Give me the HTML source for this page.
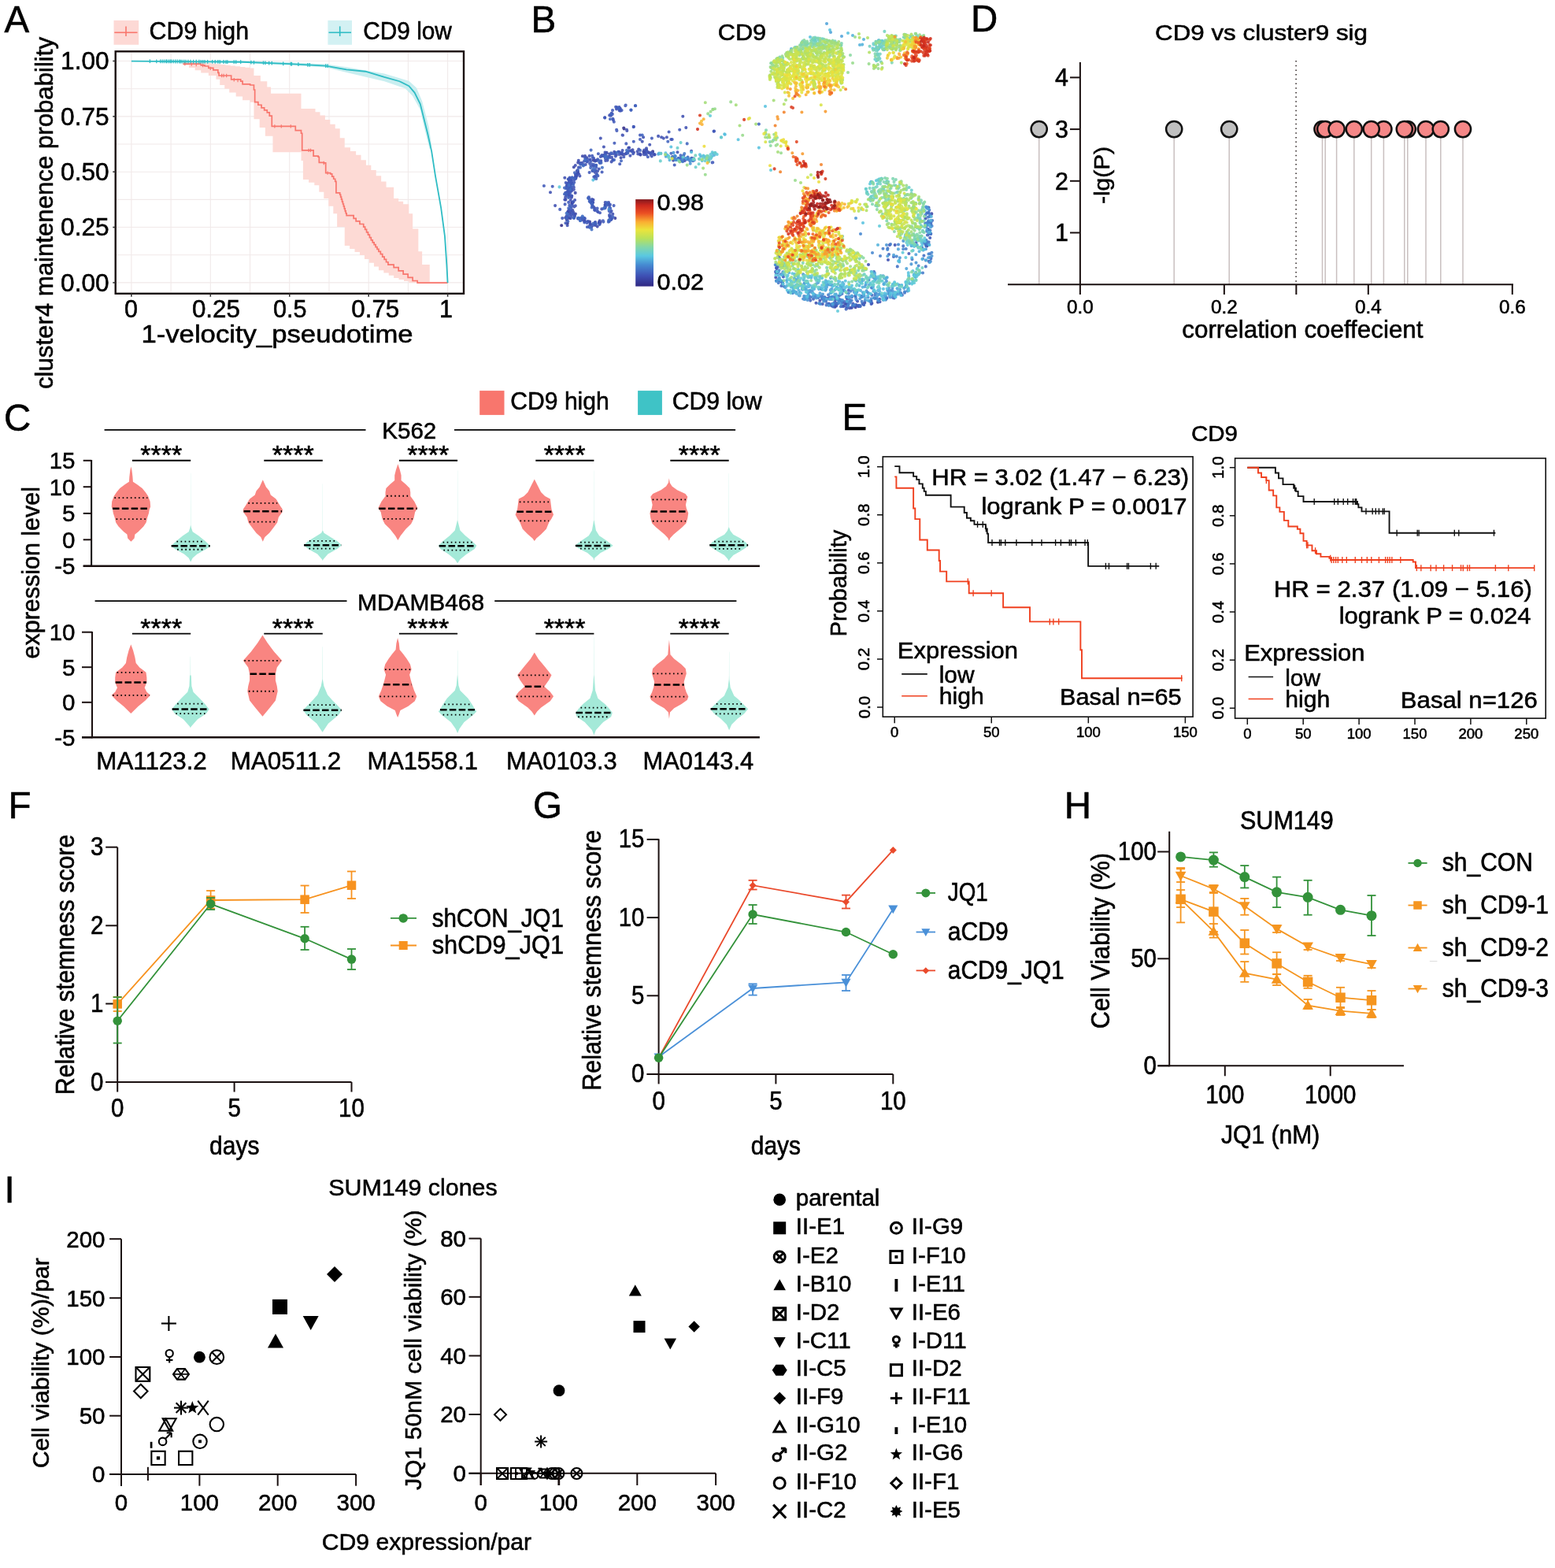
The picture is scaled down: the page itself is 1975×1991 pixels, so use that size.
<!DOCTYPE html>
<html><head><meta charset="utf-8"><title>Figure</title>
<style>html,body{margin:0;padding:0;background:#fff;}svg{display:block;}text{font-family:"Liberation Sans",Arial,Helvetica,sans-serif;stroke:#000;stroke-width:0.55px;}</style>
</head><body>
<svg width="1975" height="1991" viewBox="0 0 1975 1991">
<text x="5.5" y="41" font-size="47.5">A</text>
<rect x="144.5" y="25.9" width="31.7" height="30.9" fill="#fdd9d5" stroke="none" stroke-width="1"/>
<line x1="145.3" y1="41.3" x2="174.5" y2="41.3" stroke="#f8766d" stroke-width="1.6"/>
<line x1="160" y1="33.4" x2="160" y2="46" stroke="#f8766d" stroke-width="1.6"/>
<text x="189.6" y="50.1" font-size="31" textLength="126.5" lengthAdjust="spacingAndGlyphs">CD9 high</text>
<rect x="416.4" y="25.9" width="30.6" height="30.9" fill="#d3f1f3" stroke="none" stroke-width="1"/>
<line x1="417.5" y1="41.3" x2="446" y2="41.3" stroke="#2fbcc4" stroke-width="1.6"/>
<line x1="431.7" y1="33.4" x2="431.7" y2="46" stroke="#2fbcc4" stroke-width="1.6"/>
<text x="461.2" y="50.1" font-size="31" textLength="112.7" lengthAdjust="spacingAndGlyphs">CD9 low</text>
<line x1="166.9" y1="66.5" x2="166.9" y2="371.5" stroke="#f1e9e9" stroke-width="1.1"/>
<line x1="217.11" y1="66.5" x2="217.11" y2="371.5" stroke="#f1e9e9" stroke-width="1.1"/>
<line x1="267.32" y1="66.5" x2="267.32" y2="371.5" stroke="#f1e9e9" stroke-width="1.1"/>
<line x1="317.54" y1="66.5" x2="317.54" y2="371.5" stroke="#f1e9e9" stroke-width="1.1"/>
<line x1="367.75" y1="66.5" x2="367.75" y2="371.5" stroke="#f1e9e9" stroke-width="1.1"/>
<line x1="417.96" y1="66.5" x2="417.96" y2="371.5" stroke="#f1e9e9" stroke-width="1.1"/>
<line x1="468.17" y1="66.5" x2="468.17" y2="371.5" stroke="#f1e9e9" stroke-width="1.1"/>
<line x1="518.39" y1="66.5" x2="518.39" y2="371.5" stroke="#f1e9e9" stroke-width="1.1"/>
<line x1="568.6" y1="66.5" x2="568.6" y2="371.5" stroke="#f1e9e9" stroke-width="1.1"/>
<line x1="148" y1="358.9" x2="588" y2="358.9" stroke="#f1e9e9" stroke-width="1.1"/>
<line x1="148" y1="323.72" x2="588" y2="323.72" stroke="#f1e9e9" stroke-width="1.1"/>
<line x1="148" y1="288.55" x2="588" y2="288.55" stroke="#f1e9e9" stroke-width="1.1"/>
<line x1="148" y1="253.38" x2="588" y2="253.38" stroke="#f1e9e9" stroke-width="1.1"/>
<line x1="148" y1="218.2" x2="588" y2="218.2" stroke="#f1e9e9" stroke-width="1.1"/>
<line x1="148" y1="183.02" x2="588" y2="183.02" stroke="#f1e9e9" stroke-width="1.1"/>
<line x1="148" y1="147.85" x2="588" y2="147.85" stroke="#f1e9e9" stroke-width="1.1"/>
<line x1="148" y1="112.68" x2="588" y2="112.68" stroke="#f1e9e9" stroke-width="1.1"/>
<line x1="148" y1="77.5" x2="588" y2="77.5" stroke="#f1e9e9" stroke-width="1.1"/>
<polygon points="232.44,79.21 255.25,79.21 255.25,79.21 261.49,79.21 261.49,79.93 267.73,79.93 267.73,80.65 273.97,80.65 273.97,81.37 280.22,81.37 280.22,82.09 286.46,82.09 286.46,82.81 292.7,82.81 292.7,83.53 298.94,83.53 298.94,84.25 305.19,84.25 305.19,84.97 311.43,84.97 311.43,85.69 317.67,85.69 317.67,86.41 322.47,86.41 322.47,96.01 330.88,96.01 330.88,103.22 339.28,103.22 339.28,110.42 344.08,110.42 344.08,118.82 375.29,118.82 375.29,118.82 382.5,118.82 382.5,138.03 394.5,138.03 394.5,138.03 400.5,138.03 400.5,142.23 406.51,142.23 406.51,146.43 412.91,146.43 412.91,152.04 419.31,152.04 419.31,157.64 425.71,157.64 425.71,163.24 431.72,163.24 431.72,175.25 437.72,175.25 437.72,187.25 444.92,187.25 444.92,192.05 452.12,192.05 452.12,196.85 458.53,196.85 458.53,203.26 464.93,203.26 464.93,209.66 471.33,209.66 471.33,216.06 477.74,216.06 477.74,223.27 484.14,223.27 484.14,230.47 490.54,230.47 490.54,237.67 500.14,237.67 500.14,252.08 506.15,252.08 506.15,255.68 512.15,255.68 512.15,259.28 519.35,259.28 519.35,271.28 524.15,271.28 524.15,290.49 531.36,290.49 531.36,319.3 536.16,319.3 536.16,336.11 545.76,336.11 545.76,357.72 568.57,357.72 568.57,359.16 568.57,359.16 568.57,358.92 519.35,358.92 519.35,356.92 512.95,356.92 512.95,354.92 506.55,354.92 506.55,352.92 500.14,352.92 500.14,349.72 493.74,349.72 493.74,346.51 487.34,346.51 487.34,343.31 480.94,343.31 480.94,338.51 474.93,338.51 474.93,333.71 468.93,333.71 468.93,328.91 462.93,328.91 462.93,324.11 456.93,324.11 456.93,320.1 450.52,320.1 450.52,316.1 444.12,316.1 444.12,312.1 437.72,312.1 437.72,288.09 428.12,288.09 428.12,271.28 423.31,271.28 423.31,261.68 417.31,261.68 417.31,252.08 411.31,252.08 411.31,243.67 405.31,243.67 405.31,235.27 399.3,235.27 399.3,231.67 392.1,231.67 392.1,228.07 384.9,228.07 384.9,204.06 382.5,204.06 382.5,193.25 372.89,193.25 372.89,193.25 346.48,193.25 346.48,172.85 336.88,172.85 336.88,162.04 329.68,162.04 329.68,151.24 322.47,151.24 322.47,129.63 317.67,129.63 317.67,127.23 308.07,127.23 308.07,122.42 299.66,122.42 299.66,117.62 291.26,117.62 291.26,112.82 285.26,112.82 285.26,108.02 279.26,108.02 279.26,100.82 274.45,100.82 274.45,96.01 264.85,96.01 264.85,92.41 255.25,92.41 255.25,89.21 247.64,89.21 247.64,86.01 240.04,86.01 240.04,82.81 232.44,82.81" fill="#fddad5" stroke="none" stroke-width="1"/>
<polygon points="274.45,77.29 308.07,77.29 368.09,79.21 413.71,81.61 440.12,85.21 488.14,93.61 519.35,102.74 528.96,111.62 536.16,128.43 544.56,160.84 548.16,184.85 545.76,189.65 538.56,160.84 533.76,139.23 524.15,121.94 514.55,112.34 488.14,103.22 440.12,91.93 413.71,85.45 368.09,82.81 308.07,79.69 274.45,79.21" fill="#c9eef0" stroke="none" stroke-width="1"/>
<polyline points="232.44,81.13 255.25,81.13 255.25,82.81 260.05,82.81 260.05,84.01 264.85,84.01 264.85,86.41 270.85,86.41 270.85,88.81 276.85,88.81 276.85,92.41 278.06,92.41 278.06,96.01 288.86,96.01 288.86,96.01 293.66,96.01 293.66,100.82 305.67,100.82 305.67,103.22 308.07,103.22 308.07,106.82 317.67,106.82 317.67,108.02 322.47,108.02 322.47,114.02 323.67,114.02 323.67,129.63 327.88,129.63 327.88,133.23 332.08,133.23 332.08,136.83 335.68,136.83 335.68,139.83 339.28,139.83 339.28,142.83 342.28,142.83 342.28,147.03 345.28,147.03 345.28,151.24 345.28,151.24 345.28,160.36 370.49,160.36 370.49,160.36 375.29,160.36 375.29,165.64 382.5,165.64 382.5,169.24 383.7,169.24 383.7,190.85 395.7,190.85 395.7,190.85 398.1,190.85 398.1,198.06 404.11,198.06 404.11,199.26 405.31,199.26 405.31,206.46 411.31,206.46 411.31,206.94 413.71,206.94 413.71,219.66 419.71,219.66 419.71,220.86 421.71,220.86 421.71,224.07 423.71,224.07 423.71,227.27 425.71,227.27 425.71,230.47 426.91,230.47 426.91,244.87 431.72,244.87 431.72,247.27 432.65,247.27 432.65,250.21 433.58,250.21 433.58,253.14 434.52,253.14 434.52,256.08 435.45,256.08 435.45,259.01 436.39,259.01 436.39,261.95 437.32,261.95 437.32,264.88 438.25,264.88 438.25,267.82 439.19,267.82 439.19,270.75 440.12,270.75 440.12,273.69 446.12,273.69 446.12,273.69 449.12,273.69 449.12,277.29 452.12,277.29 452.12,280.89 456.93,280.89 456.93,284.49 461.73,284.49 461.73,288.09 463.65,288.09 463.65,291.45 465.57,291.45 465.57,294.81 467.49,294.81 467.49,298.18 469.41,298.18 469.41,301.54 471.33,301.54 471.33,304.9 473.25,304.9 473.25,307.78 475.17,307.78 475.17,310.66 477.09,310.66 477.09,313.54 479.02,313.54 479.02,316.42 480.94,316.42 480.94,319.3 483.34,319.3 483.34,322.67 485.74,322.67 485.74,326.03 488.14,326.03 488.14,329.39 490.54,329.39 490.54,332.75 492.94,332.75 492.94,336.11 500.14,336.11 500.14,339.71 506.15,339.71 506.15,343.91 512.15,343.91 512.15,348.12 518.15,348.12 518.15,352.32 524.15,352.32 524.15,356.52 530.16,356.52 530.16,359.16 568.57,359.16 568.57,359.16" fill="none" stroke="#f8766d" stroke-width="1.7" stroke-linejoin="miter"/>
<line x1="234.84" y1="78.93" x2="234.84" y2="83.33" stroke="#f8766d" stroke-width="1.2"/>
<line x1="243.24" y1="79.41" x2="243.24" y2="83.81" stroke="#f8766d" stroke-width="1.2"/>
<line x1="249.24" y1="79.89" x2="249.24" y2="84.29" stroke="#f8766d" stroke-width="1.2"/>
<line x1="257.65" y1="80.85" x2="257.65" y2="85.25" stroke="#f8766d" stroke-width="1.2"/>
<line x1="267.25" y1="84.69" x2="267.25" y2="89.09" stroke="#f8766d" stroke-width="1.2"/>
<line x1="281.66" y1="93.81" x2="281.66" y2="98.21" stroke="#f8766d" stroke-width="1.2"/>
<line x1="284.06" y1="93.81" x2="284.06" y2="98.21" stroke="#f8766d" stroke-width="1.2"/>
<line x1="287.66" y1="93.81" x2="287.66" y2="98.21" stroke="#f8766d" stroke-width="1.2"/>
<line x1="297.26" y1="99.1" x2="297.26" y2="103.5" stroke="#f8766d" stroke-width="1.2"/>
<line x1="302.06" y1="99.82" x2="302.06" y2="104.22" stroke="#f8766d" stroke-width="1.2"/>
<line x1="348.88" y1="158.16" x2="348.88" y2="162.56" stroke="#f8766d" stroke-width="1.2"/>
<line x1="357.29" y1="158.16" x2="357.29" y2="162.56" stroke="#f8766d" stroke-width="1.2"/>
<line x1="369.29" y1="158.16" x2="369.29" y2="162.56" stroke="#f8766d" stroke-width="1.2"/>
<line x1="392.1" y1="188.65" x2="392.1" y2="193.05" stroke="#f8766d" stroke-width="1.2"/>
<line x1="394.5" y1="188.65" x2="394.5" y2="193.05" stroke="#f8766d" stroke-width="1.2"/>
<line x1="411.31" y1="204.74" x2="411.31" y2="209.14" stroke="#f8766d" stroke-width="1.2"/>
<line x1="416.11" y1="217.46" x2="416.11" y2="221.86" stroke="#f8766d" stroke-width="1.2"/>
<polyline points="166.89,77.53 308.07,78.73 368.09,81.13 413.71,83.53 440.12,88.33 464.13,90.73 488.14,97.94 507.35,103.22 519.35,109.22 526.55,117.62 533.76,132.03 543.36,170.44 548.16,192.05 552.97,223.27 560.17,264.08 564.97,300.1 567.37,336.11 568.57,359.16" fill="none" stroke="#2fbcc4" stroke-width="1.8"/>
<line x1="190.42" y1="75.33" x2="190.42" y2="80.13" stroke="#2fbcc4" stroke-width="1.3"/>
<line x1="198.82" y1="75.4" x2="198.82" y2="80.2" stroke="#2fbcc4" stroke-width="1.3"/>
<line x1="203.63" y1="75.44" x2="203.63" y2="80.24" stroke="#2fbcc4" stroke-width="1.3"/>
<line x1="206.03" y1="75.46" x2="206.03" y2="80.26" stroke="#2fbcc4" stroke-width="1.3"/>
<line x1="208.43" y1="75.48" x2="208.43" y2="80.28" stroke="#2fbcc4" stroke-width="1.3"/>
<line x1="210.83" y1="75.5" x2="210.83" y2="80.3" stroke="#2fbcc4" stroke-width="1.3"/>
<line x1="212.03" y1="75.51" x2="212.03" y2="80.31" stroke="#2fbcc4" stroke-width="1.3"/>
<line x1="214.43" y1="75.53" x2="214.43" y2="80.33" stroke="#2fbcc4" stroke-width="1.3"/>
<line x1="216.35" y1="75.55" x2="216.35" y2="80.35" stroke="#2fbcc4" stroke-width="1.3"/>
<line x1="218.03" y1="75.56" x2="218.03" y2="80.36" stroke="#2fbcc4" stroke-width="1.3"/>
<line x1="220.43" y1="75.58" x2="220.43" y2="80.38" stroke="#2fbcc4" stroke-width="1.3"/>
<line x1="222.83" y1="75.6" x2="222.83" y2="80.4" stroke="#2fbcc4" stroke-width="1.3"/>
<line x1="225.23" y1="75.62" x2="225.23" y2="80.42" stroke="#2fbcc4" stroke-width="1.3"/>
<line x1="227.64" y1="75.64" x2="227.64" y2="80.44" stroke="#2fbcc4" stroke-width="1.3"/>
<line x1="229.32" y1="75.66" x2="229.32" y2="80.46" stroke="#2fbcc4" stroke-width="1.3"/>
<line x1="231.24" y1="75.67" x2="231.24" y2="80.47" stroke="#2fbcc4" stroke-width="1.3"/>
<line x1="233.64" y1="75.69" x2="233.64" y2="80.49" stroke="#2fbcc4" stroke-width="1.3"/>
<line x1="236.04" y1="75.72" x2="236.04" y2="80.52" stroke="#2fbcc4" stroke-width="1.3"/>
<line x1="238.92" y1="75.74" x2="238.92" y2="80.54" stroke="#2fbcc4" stroke-width="1.3"/>
<line x1="242.04" y1="75.77" x2="242.04" y2="80.57" stroke="#2fbcc4" stroke-width="1.3"/>
<line x1="245.64" y1="75.8" x2="245.64" y2="80.6" stroke="#2fbcc4" stroke-width="1.3"/>
<line x1="249.24" y1="75.83" x2="249.24" y2="80.63" stroke="#2fbcc4" stroke-width="1.3"/>
<line x1="252.85" y1="75.86" x2="252.85" y2="80.66" stroke="#2fbcc4" stroke-width="1.3"/>
<line x1="255.25" y1="75.88" x2="255.25" y2="80.68" stroke="#2fbcc4" stroke-width="1.3"/>
<line x1="257.65" y1="75.9" x2="257.65" y2="80.7" stroke="#2fbcc4" stroke-width="1.3"/>
<line x1="260.05" y1="75.92" x2="260.05" y2="80.72" stroke="#2fbcc4" stroke-width="1.3"/>
<line x1="263.65" y1="75.95" x2="263.65" y2="80.75" stroke="#2fbcc4" stroke-width="1.3"/>
<line x1="269.65" y1="76" x2="269.65" y2="80.8" stroke="#2fbcc4" stroke-width="1.3"/>
<line x1="273.25" y1="76.03" x2="273.25" y2="80.83" stroke="#2fbcc4" stroke-width="1.3"/>
<line x1="276.85" y1="76.06" x2="276.85" y2="80.86" stroke="#2fbcc4" stroke-width="1.3"/>
<line x1="279.26" y1="76.08" x2="279.26" y2="80.88" stroke="#2fbcc4" stroke-width="1.3"/>
<line x1="284.06" y1="76.12" x2="284.06" y2="80.92" stroke="#2fbcc4" stroke-width="1.3"/>
<line x1="286.94" y1="76.15" x2="286.94" y2="80.95" stroke="#2fbcc4" stroke-width="1.3"/>
<line x1="288.86" y1="76.16" x2="288.86" y2="80.96" stroke="#2fbcc4" stroke-width="1.3"/>
<line x1="297.26" y1="76.24" x2="297.26" y2="81.04" stroke="#2fbcc4" stroke-width="1.3"/>
<line x1="299.66" y1="76.26" x2="299.66" y2="81.06" stroke="#2fbcc4" stroke-width="1.3"/>
<line x1="305.67" y1="76.31" x2="305.67" y2="81.11" stroke="#2fbcc4" stroke-width="1.3"/>
<line x1="318.87" y1="76.76" x2="318.87" y2="81.56" stroke="#2fbcc4" stroke-width="1.3"/>
<line x1="322.47" y1="76.9" x2="322.47" y2="81.7" stroke="#2fbcc4" stroke-width="1.3"/>
<line x1="334.48" y1="77.38" x2="334.48" y2="82.18" stroke="#2fbcc4" stroke-width="1.3"/>
<line x1="336.88" y1="77.48" x2="336.88" y2="82.28" stroke="#2fbcc4" stroke-width="1.3"/>
<line x1="341.68" y1="77.67" x2="341.68" y2="82.47" stroke="#2fbcc4" stroke-width="1.3"/>
<line x1="345.28" y1="77.82" x2="345.28" y2="82.62" stroke="#2fbcc4" stroke-width="1.3"/>
<line x1="359.69" y1="78.39" x2="359.69" y2="83.19" stroke="#2fbcc4" stroke-width="1.3"/>
<line x1="369.29" y1="78.79" x2="369.29" y2="83.59" stroke="#2fbcc4" stroke-width="1.3"/>
<line x1="370.49" y1="78.85" x2="370.49" y2="83.65" stroke="#2fbcc4" stroke-width="1.3"/>
<line x1="378.9" y1="79.3" x2="378.9" y2="84.1" stroke="#2fbcc4" stroke-width="1.3"/>
<line x1="390.9" y1="79.93" x2="390.9" y2="84.73" stroke="#2fbcc4" stroke-width="1.3"/>
<line x1="393.3" y1="80.06" x2="393.3" y2="84.86" stroke="#2fbcc4" stroke-width="1.3"/>
<line x1="413.71" y1="81.13" x2="413.71" y2="85.93" stroke="#2fbcc4" stroke-width="1.3"/>
<line x1="416.11" y1="81.26" x2="416.11" y2="86.06" stroke="#2fbcc4" stroke-width="1.3"/>
<rect x="146.7" y="65.3" width="442.3" height="307.5" fill="none" stroke="#1a1010" stroke-width="2.4"/>
<line x1="143.3" y1="358.9" x2="146.7" y2="358.9" stroke="#333" stroke-width="1.6"/>
<line x1="166.9" y1="372.8" x2="166.9" y2="376.8" stroke="#333" stroke-width="1.6"/>
<line x1="143.3" y1="288.55" x2="146.7" y2="288.55" stroke="#333" stroke-width="1.6"/>
<line x1="267.32" y1="372.8" x2="267.32" y2="376.8" stroke="#333" stroke-width="1.6"/>
<line x1="143.3" y1="218.2" x2="146.7" y2="218.2" stroke="#333" stroke-width="1.6"/>
<line x1="367.75" y1="372.8" x2="367.75" y2="376.8" stroke="#333" stroke-width="1.6"/>
<line x1="143.3" y1="147.85" x2="146.7" y2="147.85" stroke="#333" stroke-width="1.6"/>
<line x1="468.17" y1="372.8" x2="468.17" y2="376.8" stroke="#333" stroke-width="1.6"/>
<line x1="143.3" y1="77.5" x2="146.7" y2="77.5" stroke="#333" stroke-width="1.6"/>
<line x1="568.6" y1="372.8" x2="568.6" y2="376.8" stroke="#333" stroke-width="1.6"/>
<text x="138.6" y="88.4" font-size="30.5" text-anchor="end" textLength="61.5" lengthAdjust="spacingAndGlyphs">1.00</text>
<text x="138.6" y="158.75" font-size="30.5" text-anchor="end" textLength="61.5" lengthAdjust="spacingAndGlyphs">0.75</text>
<text x="138.6" y="229.1" font-size="30.5" text-anchor="end" textLength="61.5" lengthAdjust="spacingAndGlyphs">0.50</text>
<text x="138.6" y="299.45" font-size="30.5" text-anchor="end" textLength="61.5" lengthAdjust="spacingAndGlyphs">0.25</text>
<text x="138.6" y="369.8" font-size="30.5" text-anchor="end" textLength="61.5" lengthAdjust="spacingAndGlyphs">0.00</text>
<text x="166.5" y="403.3" font-size="30.5" text-anchor="middle">0</text>
<text x="274.4" y="403.3" font-size="30.5" text-anchor="middle" textLength="61" lengthAdjust="spacingAndGlyphs">0.25</text>
<text x="368.2" y="403.3" font-size="30.5" text-anchor="middle" textLength="42.5" lengthAdjust="spacingAndGlyphs">0.5</text>
<text x="476.8" y="403.3" font-size="30.5" text-anchor="middle" textLength="61" lengthAdjust="spacingAndGlyphs">0.75</text>
<text x="566.5" y="403.3" font-size="30.5" text-anchor="middle">1</text>
<text x="179.4" y="435.3" font-size="31" textLength="345.2" lengthAdjust="spacingAndGlyphs">1-velocity_pseudotime</text>
<text x="66.9" y="270.5" font-size="31" text-anchor="middle" textLength="447" lengthAdjust="spacingAndGlyphs" transform="rotate(-90 66.9 270.5)">cluster4 maintenence probability</text>
<path d="M713.2 286.2h0M720.7 283.5h0M792.6 163.4h0M792.2 162.6h0M1075.5 386.2h0" stroke="#312c87" stroke-width="4.1" stroke-linecap="round" stroke-opacity="0.88"/>
<path d="M781.8 194.0h0M726.7 257.5h0M991.8 337.0h0M829.1 192.2h0M733.3 220.8h0" stroke="#343492" stroke-width="4.1" stroke-linecap="round" stroke-opacity="0.88"/>
<path d="M864.9 204.3h0M753.7 203.6h0M818.1 192.7h0M726.4 257.4h0M732.2 222.7h0M718.7 246.9h0M755.7 282.9h0M1177.3 312.5h0M1115.0 383.7h0M760.9 282.9h0M724.2 236.0h0M722.9 228.2h0M756.3 284.4h0M721.4 269.0h0M789.0 195.6h0M854.2 199.1h0M749.0 281.6h0M742.6 280.5h0M781.3 277.1h0M751.9 256.8h0M813.0 196.1h0M722.4 276.7h0M823.4 193.4h0M720.0 279.5h0M1088.0 387.7h0M724.0 238.6h0M817.4 192.6h0M1060.4 389.8h0M821.2 190.5h0" stroke="#373d9c" stroke-width="4.1" stroke-linecap="round" stroke-opacity="0.88"/>
<path d="M724.5 277.2h0M719.5 238.9h0M725.5 240.6h0M774.2 195.6h0M793.5 195.8h0M730.7 244.9h0M831.1 196.4h0M728.1 269.2h0M773.4 260.0h0M992.6 357.8h0M859.1 202.9h0M721.4 269.0h0M731.3 225.2h0M758.7 287.6h0M798.3 187.8h0M728.8 212.3h0M734.2 206.4h0M747.9 252.1h0M726.8 232.9h0M1055.7 387.6h0M765.2 198.0h0M724.5 239.9h0M722.6 247.2h0M1081.9 390.8h0M732.8 217.0h0M733.4 219.9h0M727.3 267.0h0M730.9 271.6h0M723.7 270.5h0M770.6 193.9h0M878.5 200.9h0M720.0 235.5h0M774.3 274.7h0M782.8 196.7h0M985.4 345.3h0M788.6 200.2h0M732.2 222.9h0M754.5 263.4h0M722.1 234.2h0M724.2 237.2h0M1060.9 381.1h0M1086.6 390.3h0M991.1 356.5h0M768.6 260.0h0M1106.3 381.6h0M1073.4 385.8h0M762.8 282.1h0M750.1 285.1h0M1098.3 384.2h0M813.6 196.6h0M1183.3 271.4h0M803.5 190.4h0M771.5 258.9h0M787.7 137.7h0M753.5 253.9h0M728.0 256.5h0M718.2 276.6h0M1090.6 388.4h0M734.1 277.3h0M804.9 193.5h0M776.0 146.7h0M787.0 139.1h0M743.0 198.1h0M718.4 253.5h0M756.2 203.7h0M791.4 196.3h0M987.8 346.0h0M986.8 319.8h0M725.4 227.7h0M739.9 198.3h0M753.2 257.1h0M725.9 250.8h0M801.3 191.3h0M751.3 288.2h0M756.1 286.0h0M761.7 280.2h0M787.6 138.7h0M855.1 203.6h0M1096.6 386.4h0M788.9 194.0h0M796.7 193.0h0M819.1 193.7h0M773.2 279.8h0M795.5 194.6h0M726.5 258.8h0M734.0 219.1h0M745.2 200.2h0" stroke="#3a45a6" stroke-width="4.1" stroke-linecap="round" stroke-opacity="0.88"/>
<path d="M776.6 205.4h0M871.3 162.1h0M755.6 224.0h0M776.7 143.7h0M743.7 209.0h0M1144.3 373.9h0M729.3 272.9h0M705.1 261.1h0M776.6 278.2h0M771.5 203.6h0M736.4 223.5h0M723.3 226.8h0M762.9 198.9h0M1041.4 381.8h0M1089.0 382.5h0M768.7 257.0h0M825.2 183.8h0M722.1 239.0h0M734.0 217.6h0M790.6 191.0h0M840.1 174.3h0M730.8 261.2h0M809.6 192.3h0M812.5 195.4h0M825.8 194.8h0M699.0 244.2h0M729.8 273.5h0M742.6 280.9h0M720.4 232.8h0M725.4 272.4h0M817.6 195.2h0M734.4 220.3h0M1070.0 389.0h0M757.9 218.3h0M990.5 319.7h0M755.9 204.6h0M725.1 268.3h0M992.1 348.3h0M752.3 216.9h0M740.0 278.2h0M768.2 149.2h0M878.1 191.9h0M726.1 242.2h0M860.5 193.3h0M800.4 197.8h0M724.3 232.5h0M757.4 220.6h0M725.4 228.9h0M1176.0 306.1h0M735.5 277.1h0M760.7 282.3h0M842.8 175.6h0M994.3 359.9h0M810.3 195.5h0M773.8 281.1h0M752.1 258.6h0M783.9 136.3h0M778.9 152.3h0M722.6 241.2h0M777.0 199.7h0M749.8 202.5h0M985.3 352.2h0M821.0 188.2h0M1107.4 385.0h0M722.9 230.5h0M867.6 204.5h0M990.7 336.0h0M796.3 165.9h0M846.9 174.3h0M739.7 208.1h0M720.0 244.0h0M774.2 146.4h0M748.3 287.2h0M729.4 262.4h0M1076.1 379.8h0M751.9 253.0h0M776.2 144.7h0M880.8 201.4h0M717.3 253.5h0M799.1 187.6h0M759.6 269.3h0M1078.8 391.1h0M740.4 277.1h0M766.9 186.5h0M729.4 226.8h0M735.0 212.5h0M762.8 175.6h0M748.6 198.0h0M1062.1 388.5h0M806.9 134.2h0M831.6 196.3h0M787.9 140.7h0M726.1 240.0h0M749.2 256.0h0M718.1 250.6h0M754.1 201.0h0M1128.0 330.0h0M769.2 204.0h0M778.3 271.7h0M990.1 356.4h0M989.8 321.3h0M869.7 203.9h0M824.9 194.3h0M724.7 240.2h0M752.3 261.1h0M760.8 214.5h0M776.6 268.0h0M1136.7 311.1h0M739.1 206.7h0M775.6 200.0h0M740.7 279.6h0M732.0 224.1h0M768.5 193.6h0M862.1 200.7h0M818.1 196.3h0M730.1 254.0h0M1071.3 388.6h0M768.4 264.2h0M729.1 262.2h0M721.4 241.3h0M790.6 171.6h0M773.0 257.1h0M722.7 244.0h0M1092.5 388.9h0M721.0 245.0h0M778.5 203.4h0M785.3 192.8h0M1086.3 375.8h0M730.8 210.0h0M724.5 234.0h0M818.2 190.5h0M774.3 198.7h0M742.0 276.7h0M734.8 203.8h0M791.0 171.8h0M725.3 227.2h0M786.5 136.1h0M729.0 276.5h0M757.2 209.7h0M740.5 209.5h0M811.2 189.5h0M759.0 217.3h0M867.3 147.8h0M852.3 177.0h0M1175.4 277.5h0M820.0 195.1h0M761.7 284.1h0M737.1 207.0h0M728.8 240.8h0M767.2 196.9h0M722.3 267.0h0M717.3 225.8h0M768.3 198.6h0M1130.0 311.0h0M757.9 203.9h0M724.2 227.7h0M826.9 196.9h0M730.8 226.7h0M1080.1 390.9h0M745.8 205.4h0M1053.6 377.7h0M1117.5 383.3h0M1036.5 384.7h0M994.1 337.8h0M753.2 210.6h0M748.9 288.8h0M755.6 218.8h0M796.0 164.8h0M722.5 249.8h0M735.4 221.3h0M749.5 284.0h0M804.8 160.7h0M731.1 221.6h0M907.0 166.5h0M749.9 255.7h0M1179.5 263.5h0M746.8 281.0h0M783.0 138.4h0M986.0 340.0h0M723.9 241.5h0M994.6 334.7h0M724.7 254.1h0M1044.7 386.0h0M728.8 237.9h0M730.8 224.3h0M1163.5 308.3h0M720.6 286.2h0M780.2 192.9h0M764.3 265.4h0M817.1 174.3h0M1179.9 331.9h0M829.3 194.8h0M720.9 245.8h0M763.3 204.3h0M768.6 260.9h0M755.5 267.0h0M1178.8 291.6h0M726.4 272.9h0M1103.0 336.0h0M815.7 179.7h0M836.1 172.9h0M726.8 238.1h0M719.5 274.5h0M827.8 198.5h0M726.3 248.7h0M988.7 323.8h0M722.3 227.6h0" stroke="#3d4eb1" stroke-width="4.1" stroke-linecap="round" stroke-opacity="0.88"/>
<path d="M742.3 282.4h0M754.1 209.0h0M783.4 165.9h0M742.0 204.8h0M717.6 259.4h0M782.1 135.7h0M748.6 219.0h0M769.4 195.7h0M727.9 256.2h0M757.2 212.6h0M738.9 277.6h0M820.9 196.4h0M724.4 244.3h0M725.6 263.5h0M724.5 229.7h0M1083.8 388.1h0M784.8 137.2h0M813.0 171.6h0M720.6 276.1h0M724.7 226.7h0M724.4 231.4h0M718.7 232.0h0M774.2 263.3h0M754.3 224.5h0M725.5 248.5h0M727.3 270.9h0M780.5 195.6h0M720.0 247.9h0M742.5 204.3h0M1052.9 385.6h0M787.4 139.5h0M775.9 279.3h0M1084.4 388.1h0M738.5 276.6h0M1047.6 378.3h0M721.5 243.3h0M1090.2 389.1h0M1125.6 379.1h0M749.1 207.8h0M768.9 201.2h0M764.6 218.5h0M801.5 139.7h0M802.4 192.2h0M1070.0 384.4h0M722.2 256.9h0M904.7 206.4h0M1071.7 388.7h0M778.4 150.8h0M1061.2 387.2h0M718.4 283.2h0M1075.3 389.9h0M755.3 210.2h0M821.2 192.2h0M804.7 161.3h0M731.4 226.6h0M752.1 197.8h0M827.0 193.7h0M761.9 207.0h0M870.0 201.4h0M772.8 258.8h0M721.2 236.8h0M1047.3 377.2h0M787.2 208.2h0M723.6 225.6h0M775.1 276.6h0M756.6 265.0h0M795.4 195.1h0M743.0 200.2h0M714.2 277.1h0M745.6 283.0h0M774.0 273.0h0M750.1 205.1h0M761.4 285.1h0M792.3 199.3h0M856.7 209.5h0M783.1 164.8h0M745.3 203.3h0M1117.1 379.8h0M751.9 255.8h0M722.6 234.8h0M1049.5 380.6h0M723.3 260.7h0M771.5 199.4h0M758.6 264.6h0M725.6 229.8h0M724.1 229.0h0M729.8 226.6h0M752.5 257.3h0M813.0 177.0h0M758.6 267.9h0M783.1 164.8h0M752.4 208.5h0M778.0 140.1h0M768.9 263.0h0M906.6 166.8h0M718.1 244.9h0M787.5 138.5h0M774.6 260.6h0M724.0 245.2h0M804.8 179.7h0M732.8 222.1h0M765.9 280.4h0M775.9 274.2h0M690.9 236.0h0M1106.6 385.9h0M725.1 266.9h0M719.6 236.5h0M822.9 199.3h0M745.9 204.8h0M752.7 262.0h0M742.9 277.6h0M780.4 181.7h0M827.9 175.6h0M752.3 255.0h0M786.2 192.8h0M775.2 269.4h0M774.9 259.8h0M728.9 229.7h0M795.3 182.4h0M865.4 200.5h0M790.1 194.3h0M752.6 199.4h0M756.4 216.3h0M781.8 198.5h0M729.2 231.7h0M759.9 195.3h0M794.7 133.6h0M755.1 266.2h0M777.2 195.3h0M786.6 140.2h0M789.6 140.1h0M766.4 281.6h0M726.8 225.6h0M1075.5 378.2h0M988.9 322.4h0M779.8 154.7h0M1019.3 365.9h0M747.8 202.5h0M768.2 149.6h0M863.2 164.8h0M726.1 261.5h0M986.5 341.1h0M745.9 288.3h0M772.8 199.2h0M1060.7 384.4h0M777.0 277.2h0M1085.0 388.7h0M779.6 261.1h0M721.6 238.7h0M750.4 210.3h0M771.8 198.9h0M727.7 233.0h0M725.1 275.7h0M988.7 318.0h0M1181.2 302.0h0M757.8 224.0h0M723.6 265.5h0M747.9 250.3h0M734.4 277.8h0M985.8 346.6h0M771.0 200.7h0M726.7 260.6h0M721.7 227.6h0M759.4 223.2h0M731.2 221.6h0M804.1 195.2h0M994.9 351.5h0M1154.4 322.0h0M798.5 191.8h0M737.4 207.9h0M1176.3 309.4h0M764.4 197.0h0M759.1 202.2h0M737.1 280.0h0M724.7 275.1h0M853.7 177.0h0M988.0 339.0h0M778.4 203.1h0M762.0 270.2h0M711.2 265.9h0M753.3 285.9h0M722.6 274.0h0M826.6 194.4h0M758.3 267.9h0M786.5 196.1h0M1164.4 311.7h0M756.1 282.0h0M777.8 144.9h0M849.6 167.5h0M752.5 260.6h0M722.2 232.7h0M1050.7 378.8h0M729.8 274.9h0M701.7 236.7h0M1055.9 377.6h0M750.6 257.8h0M724.2 242.7h0M794.3 134.2h0M986.0 356.5h0M905.3 206.2h0M1083.3 385.5h0M746.0 281.7h0M773.7 267.9h0M1076.2 386.3h0M723.5 274.2h0" stroke="#3f58b8" stroke-width="4.1" stroke-linecap="round" stroke-opacity="0.88"/>
<path d="M1061.0 379.2h0M770.7 260.6h0M720.2 239.0h0M872.7 182.4h0M722.9 236.5h0M1090.9 387.9h0M757.3 226.9h0M761.2 205.7h0M778.5 275.4h0M1077.9 368.6h0M722.0 251.0h0M776.1 145.6h0M726.8 225.6h0M797.4 194.5h0M797.4 192.7h0M1177.3 293.7h0M770.6 257.3h0M1182.4 328.2h0M772.8 281.8h0M719.2 246.3h0M807.2 134.2h0M741.1 209.4h0M848.3 179.7h0M726.4 225.6h0M1110.0 345.0h0M1097.3 387.1h0M1074.6 392.6h0M789.0 204.2h0M775.0 151.2h0M729.7 226.5h0M747.0 251.6h0M751.6 263.5h0M757.0 210.0h0M1182.2 296.7h0M1075.3 392.0h0M760.9 204.1h0M872.8 201.8h0M1056.6 379.8h0M740.4 276.4h0M1072.7 383.1h0M1043.7 367.3h0M750.2 213.1h0M775.2 264.6h0M721.3 272.1h0M768.2 198.1h0M785.6 137.2h0M1107.4 374.8h0M717.0 246.5h0M749.4 254.4h0M1059.9 377.4h0M729.9 219.2h0M758.3 221.7h0M718.9 239.2h0M754.6 216.3h0M748.7 255.4h0M991.8 320.0h0M756.8 284.2h0M801.4 139.6h0M868.3 197.3h0M724.1 262.7h0M815.7 171.6h0M737.0 212.8h0M750.6 190.6h0M1175.7 310.2h0M1075.8 382.7h0M766.9 264.7h0M880.0 204.2h0M763.5 206.7h0M722.2 264.2h0M963.9 157.6h0M990.3 320.7h0M728.9 276.9h0M1052.6 386.6h0M721.4 281.0h0M719.6 277.0h0M1135.0 326.0h0M767.4 198.6h0M728.1 234.6h0M753.4 283.9h0M992.4 363.0h0M744.0 204.3h0M1134.2 377.9h0M1178.5 298.5h0M1058.3 389.4h0M1135.7 378.4h0M866.0 200.3h0M733.9 215.7h0M755.8 226.8h0M756.1 283.9h0M989.8 327.0h0M725.4 237.4h0M1062.9 386.4h0M864.5 197.2h0M873.6 199.6h0M1129.0 323.0h0M772.4 200.7h0M737.3 208.8h0M1029.2 381.6h0M776.2 194.4h0M1056.6 386.0h0M993.4 357.4h0M1179.2 270.3h0M1182.5 285.2h0M1082.0 377.1h0M1087.1 387.1h0M852.4 194.7h0M1177.9 298.5h0M752.0 258.9h0M1126.5 378.4h0M990.7 337.9h0M780.0 203.1h0M717.0 238.6h0M1093.8 375.9h0M1033.0 379.8h0M1177.1 270.8h0M813.0 190.9h0M1026.5 375.5h0M1095.4 385.6h0M752.9 216.6h0" stroke="#4164be" stroke-width="4.1" stroke-linecap="round" stroke-opacity="0.88"/>
<path d="M1040.5 385.2h0M719.6 270.9h0M1050.5 385.5h0M861.7 201.1h0M1180.5 275.1h0M876.1 204.1h0M764.9 212.7h0M1092.6 388.4h0M740.9 210.5h0M1181.0 322.3h0M1111.7 371.9h0M1006.5 371.4h0M1184.1 280.0h0M1182.5 282.4h0M724.4 240.8h0M722.5 234.9h0M1178.5 290.9h0M739.8 274.5h0M783.3 193.7h0M1129.0 372.4h0M1111.5 374.5h0M749.7 288.5h0M1067.1 374.4h0M1029.9 377.3h0M1049.0 382.6h0M1058.9 386.1h0M767.6 263.9h0M1182.2 297.1h0M1106.5 382.8h0M1097.1 373.6h0M754.0 213.9h0M1179.6 270.3h0M751.5 291.5h0M1145.9 374.7h0M1176.2 312.3h0M737.0 280.2h0M1180.3 266.8h0M1127.4 315.4h0M863.4 205.1h0M1158.5 329.3h0M1178.6 282.6h0M1044.4 379.5h0M1175.2 283.9h0M1178.0 270.3h0M1046.4 381.4h0M872.9 201.5h0M1173.4 324.5h0M1026.1 371.5h0M1179.7 296.7h0M1179.6 307.3h0M1044.1 376.4h0M1064.6 380.7h0M1179.4 309.0h0M1177.4 283.0h0M1009.1 364.5h0M1181.4 292.8h0M862.6 203.1h0M774.0 279.1h0M1067.9 389.2h0M1069.4 381.9h0M1171.3 314.9h0M866.2 200.4h0M1086.5 376.2h0M1175.8 338.4h0M1028.4 378.5h0M796.0 190.9h0M1147.2 312.4h0M1139.8 338.4h0M1056.4 388.4h0M1062.8 385.1h0M1160.9 310.8h0M769.2 198.7h0M1102.4 371.7h0M1067.9 381.7h0M985.3 344.7h0M1049.6 387.4h0M856.5 200.5h0M1031.8 365.4h0M1111.3 379.0h0M734.4 276.7h0M743.4 202.7h0M1149.0 371.7h0M1022.2 379.9h0" stroke="#426fc4" stroke-width="4.1" stroke-linecap="round" stroke-opacity="0.88"/>
<path d="M869.3 195.1h0M1105.7 383.2h0M1076.7 383.5h0M1069.5 373.1h0M1180.2 281.7h0M1070.7 369.6h0M1080.4 382.6h0M1173.2 308.5h0M1082.7 388.1h0M1065.9 379.9h0M1011.4 364.3h0M1094.7 382.9h0M993.6 360.1h0M995.8 363.7h0M1144.5 372.3h0M1059.3 384.3h0M1121.8 380.7h0M1065.0 385.1h0M1078.6 379.3h0M1172.0 346.5h0M1044.1 378.7h0M1055.4 379.7h0M988.7 359.2h0M1181.3 283.2h0M1131.0 310.1h0M1057.2 376.7h0M1047.6 378.0h0M1176.2 306.9h0M1078.6 365.3h0M1039.5 378.1h0M857.8 198.4h0M1005.6 363.1h0M1065.7 381.3h0M1034.3 374.2h0M1113.4 378.4h0M1181.1 272.3h0M1121.5 315.7h0M867.0 205.2h0M1048.9 367.6h0M1067.5 380.5h0M1164.2 304.2h0M986.0 336.8h0M1027.6 369.6h0M1081.6 381.5h0M1150.7 316.0h0M1012.4 355.8h0M1077.8 372.5h0M1107.1 365.6h0M1077.6 386.9h0M1065.3 375.7h0M1035.2 377.0h0M1118.0 325.0h0M1178.5 275.8h0M1027.6 375.4h0M1052.1 374.4h0M1130.2 374.3h0M839.2 194.7h0M989.2 353.9h0M1175.8 330.5h0" stroke="#447bc9" stroke-width="4.1" stroke-linecap="round" stroke-opacity="0.88"/>
<path d="M1020.1 379.5h0M1108.0 321.0h0M1088.0 369.5h0M1179.1 280.4h0M1141.0 310.5h0M989.6 343.3h0M1181.8 331.9h0M1087.1 378.7h0M1041.9 376.0h0M1050.6 358.0h0M873.3 200.7h0M1006.9 372.1h0M1021.8 378.2h0M1021.2 376.1h0M773.4 265.9h0M1121.5 379.6h0M1178.0 283.9h0M1109.7 352.4h0M1127.2 317.0h0M1068.8 366.5h0M1076.9 388.4h0M1116.2 382.4h0M1097.6 375.4h0M1080.1 381.6h0M1172.1 328.5h0M1131.1 369.1h0M1042.1 385.9h0M1176.6 305.1h0M872.9 202.4h0M984.7 336.3h0M1057.9 387.0h0M1110.7 378.3h0M1178.6 285.8h0M1078.4 376.5h0M1176.9 309.1h0M1095.2 377.0h0M873.4 201.9h0M1179.4 322.5h0M1176.3 284.7h0M1094.5 377.3h0M1087.5 380.5h0M1079.7 384.5h0M1152.8 369.6h0M866.6 202.4h0M1021.7 359.8h0M860.0 202.4h0M1103.5 355.4h0M1021.6 378.4h0M1069.7 363.5h0M1083.6 367.8h0M1080.6 369.6h0M1149.1 370.2h0M1001.9 371.3h0M853.7 199.8h0M877.2 201.6h0M1129.4 373.6h0M1085.0 387.1h0M1177.5 264.4h0M1183.6 287.0h0M1025.8 378.0h0M1035.7 353.5h0M1166.6 337.6h0M1175.4 272.9h0M1125.1 380.6h0M1176.2 287.9h0M1176.7 263.6h0M1068.3 382.9h0M1138.8 325.6h0M1098.8 381.4h0M994.4 345.3h0M1026.2 378.5h0M1093.0 297.0h0M1183.4 320.7h0M1102.5 377.2h0M1147.2 316.2h0M1071.8 368.3h0M1067.9 363.7h0M1074.9 376.9h0M1134.3 375.1h0M1107.4 365.0h0M1134.1 362.3h0M1127.1 232.7h0M1138.8 372.5h0" stroke="#4586cf" stroke-width="4.1" stroke-linecap="round" stroke-opacity="0.88"/>
<path d="M1036.6 375.2h0M1115.0 380.7h0M1176.1 262.5h0M1100.8 370.1h0M1065.4 383.4h0M1056.4 362.2h0M1026.4 371.6h0M1062.5 379.9h0M1094.5 376.2h0M1133.4 366.0h0M1032.1 371.8h0M1039.7 375.7h0M1068.5 386.2h0M1177.0 285.2h0M1028.8 370.8h0M1116.1 373.9h0M1005.8 370.9h0M1166.1 348.8h0M1057.3 377.4h0M1025.7 381.0h0M994.0 357.8h0M1001.2 370.8h0M1087.0 277.0h0M1127.3 369.0h0M1106.6 230.7h0M857.1 197.7h0M1106.6 379.3h0M1043.6 367.1h0M1151.0 362.5h0M1045.0 373.5h0M1155.3 306.9h0M1121.6 350.2h0M1177.6 263.0h0M1126.0 357.1h0M1100.6 369.4h0M1020.0 364.4h0M1070.0 381.1h0M846.5 196.6h0M1126.0 311.0h0M986.0 335.3h0M1175.9 316.2h0M992.0 356.7h0M1064.5 360.7h0M1007.3 369.4h0M1128.9 365.8h0M876.7 207.8h0M994.7 348.9h0M1053.5 380.0h0M1157.4 335.4h0M1036.9 378.5h0M1022.0 366.4h0M1036.0 375.0h0M881.7 203.5h0M1054.1 361.5h0M1016.0 371.6h0M1060.4 368.0h0M1181.0 326.8h0M1031.6 369.5h0M1124.9 377.1h0M1143.2 371.9h0M1113.2 372.8h0M1133.6 369.3h0M1183.5 325.1h0M1122.4 360.8h0M1130.1 376.5h0M1082.0 376.2h0M1046.2 382.7h0M1088.4 370.8h0M1029.1 369.2h0M1055.1 377.2h0M1032.8 376.6h0M1136.9 374.6h0M1134.7 376.1h0M1057.1 362.0h0M1075.2 377.0h0M1142.9 327.3h0M1046.3 378.5h0M1040.5 385.2h0M1092.2 379.3h0M999.2 356.1h0M1099.6 361.3h0M1147.3 305.9h0M855.4 193.9h0M1104.1 382.2h0M1051.4 361.6h0M1130.8 377.4h0M1020.1 348.3h0M1109.8 378.2h0M1142.0 362.0h0M858.0 203.2h0M1163.5 333.6h0M1052.7 387.9h0" stroke="#4894d4" stroke-width="4.1" stroke-linecap="round" stroke-opacity="0.88"/>
<path d="M1172.5 317.6h0M1067.3 372.1h0M1016.6 360.6h0M1136.6 371.0h0M1180.7 333.3h0M1055.0 353.1h0M1087.2 372.8h0M1137.7 372.4h0M1076.0 372.2h0M1179.4 265.4h0M1111.8 355.1h0M1048.3 368.8h0M990.0 352.9h0M1021.8 380.0h0M1020.5 364.0h0M988.0 355.2h0M893.8 198.2h0M1056.3 366.6h0M1172.8 306.8h0M1135.1 323.9h0M1017.8 362.2h0M986.0 357.0h0M1015.8 375.4h0M1140.2 373.8h0M1041.8 351.2h0M1023.2 376.3h0M1050.0 364.8h0M1123.7 374.4h0M1054.6 372.3h0M871.0 201.1h0M1130.0 371.0h0M1124.7 354.0h0M1013.2 350.2h0M1109.4 369.7h0M1162.6 351.7h0M1067.6 362.7h0M1107.6 349.8h0M1111.5 350.6h0M1084.8 370.9h0M1057.4 386.0h0M1049.4 362.3h0M1117.2 373.5h0M1061.8 373.6h0M1039.1 358.9h0M1139.5 366.2h0M1098.5 364.0h0M1081.9 375.5h0M1053.4 361.2h0M1179.0 327.3h0M1140.9 316.4h0M1048.0 359.5h0M1143.1 367.9h0M1182.0 288.5h0M1041.5 372.3h0M1085.6 371.7h0M1008.9 353.5h0M900.3 204.5h0M1014.9 375.3h0M1041.7 365.2h0M879.5 202.7h0M1180.0 310.8h0M988.7 345.8h0M1127.8 361.6h0M1096.1 371.8h0M1113.9 376.2h0M1122.8 352.9h0M1091.2 356.0h0M1028.9 368.7h0M1054.7 368.2h0M1021.5 360.2h0M1055.9 368.6h0M1009.2 370.0h0M1007.8 365.7h0M1096.1 355.9h0M1118.4 350.4h0M1116.0 51.2h0M1011.2 370.9h0M1103.7 362.0h0M1019.2 367.8h0M836.2 195.8h0M1048.3 368.2h0M1163.3 348.6h0M1062.7 364.9h0M1137.2 376.5h0M1142.0 371.0h0M1148.2 365.9h0M1153.3 367.5h0M1111.0 346.8h0M1171.1 306.5h0M1018.9 367.4h0M1151.3 341.1h0M1040.2 367.1h0M877.6 204.0h0M1177.2 292.1h0M1168.4 346.3h0M1163.3 323.2h0M1155.1 359.9h0M845.8 198.7h0M1069.0 46.0h0M1142.0 330.8h0M1050.0 30.0h0M1127.3 325.2h0M997.5 365.1h0M1100.2 358.8h0M1036.9 360.2h0M1128.8 369.1h0M1055.0 41.0h0M1154.3 354.1h0M1023.8 367.7h0M1157.6 312.2h0M1109.9 368.8h0M1126.7 352.3h0" stroke="#4ea2d8" stroke-width="4.1" stroke-linecap="round" stroke-opacity="0.88"/>
<path d="M1046.7 359.1h0M837.1 194.6h0M1028.2 351.8h0M999.3 363.0h0M1021.9 367.5h0M1109.0 364.3h0M1145.1 362.2h0M1101.2 244.4h0M1086.5 368.3h0M1047.4 364.3h0M1013.4 347.6h0M1093.0 368.9h0M1176.4 330.5h0M1055.7 372.0h0M1121.7 376.6h0M1134.2 372.9h0M1083.0 45.0h0M1162.8 351.3h0M1060.2 373.9h0M1171.3 329.1h0M1126.2 373.1h0M1010.4 371.4h0M1063.9 379.2h0M1097.0 50.0h0M1111.2 355.4h0M1028.9 362.5h0M899.5 201.3h0M1106.6 345.0h0M1126.1 352.7h0M850.5 203.3h0M1032.0 50.0h0M1026.4 369.3h0M1154.3 351.0h0M1071.5 360.7h0M1023.6 366.0h0M1024.3 364.1h0M988.6 349.8h0M1054.2 379.5h0M1182.8 274.9h0M1002.1 346.3h0M1095.2 56.6h0M1124.1 61.5h0M1087.6 373.8h0M1025.9 359.2h0M1115.2 357.7h0M1030.4 352.6h0M1070.2 358.8h0M1151.4 358.3h0M1062.0 375.3h0M1025.1 378.0h0M1011.4 372.8h0M1117.1 369.9h0M1034.1 367.0h0M1075.8 382.6h0M1150.1 364.5h0M1091.4 362.7h0M1109.9 357.5h0M1161.0 348.2h0M1038.0 355.9h0M1027.0 364.3h0M1181.3 294.9h0M1025.4 377.3h0M1179.2 295.1h0M1123.0 63.3h0M1119.9 375.9h0M1103.8 372.6h0M1153.7 366.0h0M1026.5 374.5h0M1007.7 370.3h0M1180.4 311.0h0M1048.8 356.2h0M908.3 194.1h0M1159.7 356.0h0M1163.2 345.9h0M1081.1 365.4h0M1180.3 286.1h0M916.0 174.5h0M1048.6 366.8h0M920.7 170.7h0M905.5 194.8h0M1105.3 360.5h0M1049.4 363.1h0M1020.6 355.6h0M1007.4 363.7h0M1093.9 358.1h0M1062.8 366.5h0M991.1 355.8h0M1115.0 311.0h0M1013.2 365.9h0M1012.8 361.9h0M1122.9 361.0h0M1087.0 356.4h0M1151.6 358.2h0M1123.6 359.3h0M1115.1 368.9h0M1049.7 379.7h0M890.1 198.4h0M1009.1 348.1h0M1182.2 279.9h0M1014.7 368.7h0M1092.0 57.0h0M1095.2 354.5h0M907.0 197.0h0M1142.2 332.4h0M1012.5 373.1h0M1117.2 355.1h0M1033.8 373.6h0M1077.8 377.6h0M1159.9 311.3h0M1125.5 374.0h0M1099.0 378.5h0M1102.2 381.4h0M1010.5 354.7h0M1095.6 364.6h0M1026.7 352.2h0M1113.6 352.9h0M1158.2 327.4h0M999.1 363.0h0M1093.2 358.9h0M1070.0 300.0h0M1005.0 62.0h0M897.2 201.0h0M1013.7 352.4h0M1096.1 371.3h0M1167.5 319.2h0" stroke="#52b2db" stroke-width="4.1" stroke-linecap="round" stroke-opacity="0.88"/>
<path d="M1003.9 355.9h0M1110.3 349.1h0M1022.0 363.2h0M1160.6 349.2h0M1133.9 360.9h0M1082.0 362.6h0M1013.6 363.3h0M1123.0 380.7h0M1015.1 362.6h0M1010.4 357.2h0M1120.2 51.9h0M1057.9 363.4h0M1106.5 349.7h0M849.1 198.9h0M1158.3 355.8h0M992.5 349.1h0M845.4 194.3h0M1000.5 349.9h0M1110.0 368.1h0M1161.1 313.0h0M1105.3 251.9h0M1044.2 353.1h0M1019.8 362.6h0M1073.5 365.5h0M1034.5 364.4h0M1159.4 344.1h0M1086.7 372.1h0M1035.5 352.2h0M1110.7 349.0h0M1121.9 366.9h0M937.6 177.3h0M1099.9 359.2h0M1114.9 63.0h0M1025.0 370.9h0M1010.0 60.0h0M1131.3 372.2h0M1117.4 366.4h0M1102.1 375.5h0M852.3 186.5h0M1145.3 362.3h0M1056.5 370.6h0M1136.1 358.2h0M1169.0 313.5h0M1164.8 311.1h0M1150.3 358.0h0M1066.2 357.5h0M1044.1 362.3h0M999.6 358.7h0M1119.8 375.1h0M1036.0 49.0h0M1054.0 38.0h0M1026.9 361.4h0M1073.8 356.7h0M1120.7 52.8h0M1140.0 290.0h0M1063.2 366.2h0M1034.0 50.2h0M1116.4 228.5h0M904.4 198.5h0M1046.7 361.5h0M1130.5 374.0h0M1168.1 304.3h0M972.0 135.0h0M1113.0 229.3h0M1137.5 377.3h0M1136.1 375.3h0M1089.0 368.8h0M1071.0 362.9h0M1097.1 373.7h0M1007.4 366.4h0M1039.2 375.4h0M1153.8 346.4h0M1064.8 357.1h0M1004.8 364.5h0M1170.4 308.1h0M1036.7 353.1h0M1066.7 365.2h0M905.6 138.8h0M1141.1 331.5h0M1091.4 374.9h0M1073.8 369.8h0M963.9 187.6h0M1150.0 298.0h0M1107.2 231.2h0M1123.6 372.2h0M999.8 368.5h0M1077.0 42.0h0M1023.9 356.8h0M1064.5 365.8h0M1156.9 309.9h0M1159.6 318.1h0M1171.4 311.1h0M1113.3 60.2h0M1050.0 358.8h0M1071.5 364.1h0M920.2 170.2h0M753.3 228.6h0M1144.3 374.9h0M1068.3 367.2h0M1018.9 366.2h0M1044.1 365.8h0M888.9 196.2h0M1126.6 366.5h0M1029.0 47.0h0M1172.3 316.8h0M1100.3 352.5h0M1032.5 372.9h0M1106.0 373.0h0M1166.4 314.8h0M1158.9 359.3h0M848.1 197.3h0M1117.5 55.1h0M1116.7 59.4h0M1116.7 356.8h0M1025.2 376.5h0M1096.0 283.0h0M891.7 204.1h0M1011.2 361.7h0M878.1 193.3h0M894.1 199.7h0M896.5 199.0h0M1149.6 300.4h0M1174.1 316.7h0M1115.4 352.8h0M1134.7 362.6h0" stroke="#58c1df" stroke-width="4.1" stroke-linecap="round" stroke-opacity="0.88"/>
<path d="M1061.5 353.9h0M1063.1 378.3h0M1165.8 303.6h0M1154.1 49.4h0M1150.4 327.0h0M1065.8 368.3h0M1054.4 360.1h0M1110.1 357.3h0M994.6 360.7h0M1117.4 54.3h0M1115.4 351.4h0M1163.3 355.4h0M902.6 201.4h0M1146.6 320.7h0M1121.2 379.8h0M1118.3 59.8h0M1084.9 366.6h0M1174.3 305.5h0M1105.0 233.5h0M1059.0 353.8h0M903.0 201.0h0M1091.5 357.3h0M1003.6 368.7h0M1023.8 370.7h0M1039.9 355.3h0M1024.2 359.1h0M1093.7 359.4h0M1174.9 267.7h0M1106.8 249.2h0M908.7 194.8h0M1117.5 52.6h0M1067.0 372.9h0M979.0 216.0h0M1119.8 227.3h0M1137.0 372.0h0M1158.3 360.6h0M1011.7 363.0h0M1167.7 343.4h0M1069.1 370.4h0M1154.2 368.9h0M1017.3 372.3h0M1164.4 350.9h0M910.7 196.0h0M1014.9 357.2h0M1109.8 241.3h0M1150.7 359.5h0M1026.4 350.4h0M1152.8 311.1h0M1117.0 227.2h0M904.7 193.3h0M1116.1 61.8h0M1116.5 229.6h0M902.0 147.0h0M1001.0 355.0h0M1035.3 351.8h0M1075.4 363.8h0M1108.6 361.6h0M1028.5 350.8h0M1111.1 369.6h0M1174.4 302.2h0M1169.2 279.8h0M1114.5 233.5h0M1017.3 353.3h0M1078.4 365.0h0M1006.4 347.3h0M1012.6 365.5h0M1098.1 371.2h0M1140.3 369.9h0M1106.0 351.8h0M902.6 196.0h0M893.4 197.5h0M849.3 198.5h0M1039.8 356.0h0M1019.6 363.6h0M1068.8 361.2h0M710.5 237.4h0M900.1 204.7h0M1021.4 352.4h0M1099.8 240.0h0M1153.9 349.2h0M888.5 202.0h0M1108.9 232.3h0M1052.6 357.3h0M880.7 202.4h0M1105.6 359.4h0M1165.1 348.3h0M1031.3 350.1h0M1108.4 61.3h0M1139.8 360.6h0M1109.9 242.3h0M985.4 349.3h0M1174.8 306.5h0M999.4 352.0h0M1120.7 356.7h0M1060.1 362.3h0M1034.3 51.4h0M1064.0 395.0h0M986.7 345.0h0M1136.4 359.7h0M1005.5 357.7h0M1034.2 364.0h0M1037.2 350.7h0M1045.1 368.0h0M1107.6 345.6h0M1170.3 299.5h0M1157.0 46.4h0M1013.9 342.2h0M1110.3 243.9h0M1124.4 246.9h0M1031.5 366.0h0M1159.4 311.1h0M1161.1 359.3h0M1110.6 62.8h0M1117.0 287.0h0M1105.8 231.6h0M1025.8 325.8h0M1165.0 340.9h0M1161.0 350.3h0" stroke="#5fcada" stroke-width="4.1" stroke-linecap="round" stroke-opacity="0.88"/>
<path d="M1167.6 290.7h0M903.2 199.3h0M1157.8 241.5h0M1101.8 365.2h0M995.3 346.2h0M1002.4 361.1h0M1090.7 368.1h0M1165.5 305.7h0M1092.2 354.8h0M1040.8 351.5h0M1135.6 362.5h0M1088.7 360.6h0M1008.1 363.1h0M1061.6 366.7h0M1013.9 351.0h0M1169.1 301.9h0M1160.4 357.0h0M1040.6 356.8h0M1039.9 364.6h0M1109.4 55.2h0M887.6 208.2h0M1175.0 285.7h0M1039.3 365.6h0M1023.1 349.9h0M1106.8 362.0h0M1097.8 348.3h0M1007.1 326.8h0M1114.7 68.4h0M1112.8 52.8h0M1128.2 230.8h0M1118.1 229.9h0M1170.5 306.3h0M1117.4 74.4h0M864.6 181.1h0M1154.0 357.4h0M839.4 194.9h0M1111.4 75.3h0M1142.3 364.4h0M1139.0 244.2h0M1109.5 56.4h0M1102.5 246.8h0M1122.8 57.4h0M895.6 204.3h0M867.4 199.5h0M881.6 202.2h0M1162.5 303.8h0M1035.7 51.7h0M1026.0 55.8h0M1058.1 380.1h0M1154.6 238.0h0M1103.3 352.7h0M883.6 212.3h0M1114.8 364.8h0M1152.1 360.1h0M1142.9 363.9h0M1167.8 346.5h0M1161.4 309.3h0M1134.1 53.6h0M1171.9 292.8h0M860.5 187.9h0M1138.1 290.0h0M1174.2 288.4h0M1109.6 361.2h0M916.1 174.3h0M1055.8 357.7h0M1115.1 228.4h0M1120.2 59.0h0M1095.0 360.0h0M1162.7 288.3h0M1164.6 341.8h0M908.0 194.0h0M1163.2 258.1h0M1017.5 56.8h0M1116.3 51.2h0M1112.5 75.1h0M1056.2 370.7h0M1115.1 75.4h0M1044.5 49.2h0M900.6 200.0h0M1113.1 77.3h0M1045.6 358.3h0M1035.5 353.5h0M1120.0 372.4h0M1065.2 368.1h0M1115.7 54.1h0M1100.9 243.6h0M1151.3 307.9h0M1119.5 59.5h0M1121.0 52.2h0M1166.1 272.7h0M838.8 204.4h0M1115.6 243.1h0M1119.6 226.6h0M1008.2 358.5h0M1108.4 357.5h0M1172.0 263.3h0M1173.0 49.1h0M1173.7 50.5h0M1137.5 235.5h0M1119.2 356.8h0M1081.3 366.3h0M1041.8 353.4h0M1021.4 353.0h0M1132.5 363.5h0M1161.7 311.7h0M1110.4 251.4h0M1115.6 61.9h0M1114.2 261.8h0M1099.9 239.7h0M1137.5 361.8h0M1171.3 304.5h0M1116.0 363.4h0M1118.1 243.6h0M1114.9 69.2h0M1121.1 53.4h0M1126.3 230.0h0M1039.8 50.9h0M1172.6 258.2h0M1004.3 372.1h0M1113.6 60.2h0M1152.0 306.0h0M1167.2 347.9h0M1165.7 303.4h0M1101.1 244.2h0M1167.0 305.5h0M1069.4 330.2h0M1016.1 362.8h0M1169.8 286.4h0M1032.5 362.7h0M1166.2 47.4h0M1166.8 253.2h0M1122.5 240.7h0" stroke="#69cecc" stroke-width="4.1" stroke-linecap="round" stroke-opacity="0.88"/>
<path d="M887.9 201.7h0M1114.3 69.8h0M892.8 200.9h0M1170.5 268.9h0M1097.5 355.0h0M1116.0 71.7h0M1109.6 248.0h0M1078.1 358.6h0M1157.2 251.7h0M1105.6 250.6h0M1039.3 48.5h0M1170.3 317.0h0M982.2 178.1h0M883.3 197.4h0M1056.4 358.1h0M1118.0 233.5h0M1168.5 277.0h0M996.4 345.4h0M1113.8 237.0h0M1031.9 59.3h0M1086.6 368.5h0M1154.1 304.9h0M1009.5 365.6h0M1115.5 356.9h0M1172.4 294.4h0M1112.2 57.0h0M1065.1 336.9h0M1140.9 239.3h0M1092.2 355.7h0M1157.3 306.7h0M1015.8 355.9h0M1035.1 47.5h0M1119.0 53.4h0M1117.8 68.5h0M1122.2 351.9h0M849.5 200.3h0M1173.8 280.3h0M1039.8 56.1h0M1064.0 361.1h0M1102.9 364.1h0M1158.1 318.8h0M1171.4 340.0h0M1104.6 252.7h0M1160.3 305.1h0M1020.1 362.7h0M1166.0 275.9h0M1009.3 350.3h0M1126.5 230.3h0M994.8 334.0h0M1087.7 362.8h0M1152.7 355.4h0M1117.2 57.6h0M1046.1 361.8h0M1109.0 238.9h0M1113.6 358.8h0M1115.2 52.9h0M1040.7 58.6h0M1155.1 306.7h0M1113.9 259.4h0M1022.1 54.8h0M1101.0 245.7h0M1119.0 78.5h0M1168.6 301.0h0M1026.2 351.8h0M1025.8 357.1h0M1036.4 363.5h0M899.6 198.3h0M1167.5 305.3h0M1122.6 351.0h0M1122.2 238.0h0M1109.8 351.1h0M1104.7 238.9h0M1101.9 357.9h0M1150.6 44.3h0M1031.2 58.6h0M1060.1 360.9h0M1145.1 364.0h0M1161.5 299.7h0M861.8 203.7h0M1090.1 343.4h0M1106.8 243.1h0M1126.5 361.4h0M1166.1 302.7h0M1101.7 354.7h0M1104.6 58.7h0M1020.4 350.3h0M1114.9 70.1h0M1001.9 362.5h0M1158.9 257.4h0M1159.5 306.3h0M1166.6 252.3h0M1032.3 51.9h0M1023.6 56.6h0M1118.2 352.8h0M1170.3 267.5h0M1019.4 52.2h0M1112.3 64.0h0M1036.2 52.7h0M1123.4 39.9h0M1032.8 50.3h0M1037.6 322.0h0M1163.5 355.9h0M1117.2 68.9h0M1110.9 62.4h0M1118.8 350.2h0M1023.4 357.6h0M1152.2 294.0h0M1117.7 355.9h0M1134.1 60.2h0M1019.9 61.9h0M1016.4 323.6h0M1172.9 47.9h0M1154.5 296.5h0M881.2 201.9h0M1113.8 64.6h0M1116.6 54.0h0M1036.7 56.2h0M1115.9 60.8h0M1045.7 320.7h0M1032.1 50.3h0M1116.4 232.0h0M1120.2 54.6h0M1152.1 363.9h0M1163.5 303.5h0M1119.0 57.0h0M1164.8 289.2h0M1123.8 53.3h0M1107.1 252.8h0M1062.8 341.4h0M1058.6 370.0h0M1105.9 254.9h0M1170.9 287.5h0M1164.4 45.1h0M1032.9 55.1h0M1114.4 75.4h0M1157.6 245.3h0M1004.9 362.1h0M1091.7 328.6h0M1128.4 252.9h0M1019.9 366.5h0M1107.2 347.7h0M1004.4 359.3h0M1160.0 47.2h0M1068.1 57.7h0M1025.4 55.4h0M1112.3 237.8h0M1036.6 356.0h0" stroke="#73d1bf" stroke-width="4.1" stroke-linecap="round" stroke-opacity="0.88"/>
<path d="M1071.1 337.6h0M1169.3 314.9h0M1010.3 364.7h0M1162.0 283.8h0M990.3 72.5h0M1137.8 228.1h0M1027.5 335.6h0M1173.7 295.1h0M1163.4 346.3h0M1068.5 56.9h0M1132.8 79.6h0M1167.3 299.5h0M1148.9 43.9h0M1003.5 353.8h0M1151.7 239.1h0M1121.8 55.3h0M1055.9 322.4h0M1091.9 355.4h0M1018.6 56.7h0M1023.3 56.9h0M1160.5 297.1h0M1147.7 47.2h0M1117.8 51.9h0M1114.8 60.6h0M1156.2 52.4h0M1035.2 55.6h0M1143.5 302.1h0M1011.8 60.0h0M1099.9 342.3h0M898.1 197.9h0M1037.7 48.5h0M1109.1 63.6h0M1012.6 362.3h0M994.2 73.6h0M1165.8 313.6h0M1142.3 297.2h0M1138.0 361.3h0M1124.4 51.2h0M1159.7 51.8h0M1137.8 45.5h0M1021.7 57.2h0M1129.0 235.4h0M1035.0 361.2h0M1052.5 63.7h0M1141.0 52.8h0M1122.5 231.0h0M1115.3 76.1h0M1138.3 57.6h0M1124.7 53.2h0M1030.1 54.0h0M1043.9 58.3h0M1132.0 236.4h0M1162.9 47.8h0M1161.5 301.9h0M1052.7 58.9h0M1120.6 240.9h0M997.8 349.0h0M1113.3 251.0h0M1124.6 251.7h0M1019.5 319.9h0M1033.6 56.1h0M1142.9 234.0h0M1039.0 55.0h0M1168.5 283.0h0M1019.9 53.2h0M999.2 337.0h0M1022.3 53.4h0M1120.2 227.2h0M1017.1 63.6h0M1095.8 349.5h0M1152.8 48.3h0M1169.1 257.1h0M1032.9 48.1h0M1135.5 230.9h0M897.1 202.2h0M1143.3 61.2h0M1161.7 299.1h0M1108.0 259.2h0M1114.9 74.5h0M1018.4 55.8h0M1014.8 64.2h0M1155.1 308.5h0M1125.9 245.8h0M1022.8 53.0h0M1149.8 247.9h0M1038.5 57.1h0M1074.5 371.2h0M1050.1 339.9h0M1155.5 306.6h0M1024.9 59.1h0M1168.4 258.2h0M1142.7 291.5h0M1050.7 51.8h0M1060.6 52.4h0M1126.3 280.5h0M1124.1 226.1h0M1149.0 267.3h0M1112.2 261.0h0M1131.7 238.8h0M1143.2 299.3h0M1164.8 297.6h0M1009.0 317.9h0M1041.5 52.3h0M1005.8 360.6h0M1068.8 55.0h0M1062.5 328.1h0M1142.8 289.9h0M1041.2 55.0h0M1018.1 56.7h0M1030.0 51.2h0M977.9 180.1h0M1014.4 348.4h0M1161.8 310.2h0M1159.8 263.6h0M1078.2 320.8h0M1112.0 69.0h0M1134.1 226.9h0M1111.5 68.3h0M1087.4 346.7h0M1131.5 49.7h0M1159.2 353.7h0M1094.1 265.8h0M1129.3 243.0h0M1143.0 63.9h0M1158.7 247.1h0M1003.7 65.0h0M1100.0 350.9h0M972.7 170.1h0M1120.9 62.1h0M1128.4 362.8h0M1162.2 270.1h0M1046.5 49.9h0M973.0 165.2h0M1129.8 235.2h0M1085.3 355.5h0M1170.8 271.3h0M1112.4 52.7h0M1019.8 333.9h0M1166.8 277.8h0M1120.9 241.1h0M1151.1 240.9h0M980.0 80.1h0M1131.0 244.5h0M1116.2 54.8h0M1116.5 359.5h0M1169.9 254.4h0M1107.6 252.7h0M1134.8 52.2h0M1143.2 50.1h0M1172.1 293.9h0M1050.5 344.9h0M1124.7 232.2h0M1130.2 59.8h0" stroke="#7dd5b1" stroke-width="4.1" stroke-linecap="round" stroke-opacity="0.88"/>
<path d="M1131.1 52.1h0M1171.1 265.9h0M1134.1 47.3h0M1166.9 267.2h0M1139.3 50.5h0M1173.2 50.4h0M1158.2 50.6h0M1018.1 68.4h0M1168.6 281.9h0M1135.4 235.2h0M1109.2 233.8h0M1068.0 61.3h0M1118.5 240.9h0M1110.6 244.3h0M999.3 340.4h0M1077.4 349.5h0M1044.0 55.8h0M978.7 185.0h0M1127.6 232.0h0M1164.8 300.6h0M1171.8 46.1h0M1129.3 249.0h0M1158.0 345.4h0M1135.9 294.0h0M1060.9 314.1h0M1089.5 352.2h0M1022.4 55.8h0M985.7 79.8h0M1172.6 261.8h0M1152.4 301.1h0M1173.0 259.1h0M1068.8 329.1h0M1113.1 260.6h0M1167.6 291.0h0M1125.5 257.3h0M1038.7 57.7h0M1047.7 59.2h0M1140.5 50.5h0M1094.4 325.9h0M1154.3 353.3h0M1079.8 316.6h0M1151.3 302.5h0M1111.7 71.8h0M1160.1 297.7h0M1118.5 228.6h0M1113.9 266.1h0M1060.1 314.5h0M1056.8 53.4h0M987.0 174.8h0M1119.0 240.2h0M1025.7 54.4h0M1143.1 244.1h0M1017.0 59.4h0M1170.7 299.7h0M1121.8 63.3h0M1108.0 231.2h0M900.1 205.2h0M1122.7 55.2h0M1052.3 315.6h0M1173.3 266.0h0M1068.5 352.5h0M1158.9 308.5h0M1053.8 327.3h0M1117.4 241.0h0M1152.9 48.5h0M1115.5 256.7h0M1010.1 350.4h0M1085.7 325.3h0M1127.8 231.7h0M1066.7 343.1h0M1070.2 71.1h0M1104.4 253.4h0M992.4 333.5h0M1158.3 298.4h0M982.9 83.3h0M1173.8 274.7h0M1022.6 317.8h0M999.3 67.0h0M1060.4 341.8h0M1156.4 287.9h0M1124.4 258.1h0M1016.0 57.4h0M1057.6 51.5h0M1025.1 52.5h0M1065.8 352.8h0M1119.9 251.1h0M1021.4 51.0h0M1149.8 47.3h0M1140.9 236.9h0M1121.9 258.8h0M1168.3 295.3h0M1124.0 236.9h0M1172.0 281.3h0M995.6 356.2h0M1149.0 289.6h0M1079.8 342.8h0M1156.1 288.0h0M979.1 80.2h0M1082.1 357.5h0M1137.2 61.4h0M1111.8 246.2h0M1040.7 61.8h0M1137.1 49.5h0M1116.6 254.7h0M1122.8 250.6h0M1034.7 58.0h0M1036.0 58.2h0M1064.2 336.6h0M1047.4 57.2h0M1028.5 327.6h0M1032.0 341.4h0M1037.9 349.6h0M1107.5 244.3h0M1139.2 55.2h0M1047.8 332.8h0M1002.3 67.1h0M1005.9 334.0h0M1126.9 226.8h0M1062.6 332.3h0M993.3 338.4h0M1041.5 48.7h0M1122.7 62.3h0M1063.0 54.8h0M1120.8 271.9h0M1012.6 358.4h0M1006.6 337.6h0M1062.7 325.2h0M1121.1 237.1h0M1030.2 54.6h0M1151.9 247.1h0M1062.3 323.0h0M1116.5 241.7h0M974.8 174.6h0M1123.0 245.9h0M1156.5 45.5h0M1002.1 67.0h0M1086.9 329.1h0M1141.9 237.7h0M1149.5 48.2h0M1161.7 270.1h0M1096.6 327.5h0M1026.3 318.5h0M1129.6 48.8h0M1057.7 326.1h0M1174.3 256.5h0M1129.2 254.8h0M1162.7 42.7h0M997.2 334.4h0M1060.3 313.9h0M1004.5 326.0h0M1125.7 55.7h0M1040.0 55.2h0M1037.6 56.1h0M1034.9 321.6h0M1125.3 254.5h0M1055.4 64.3h0M1013.9 356.0h0M1045.1 60.5h0M1140.1 255.5h0M1038.7 337.8h0M1032.4 336.2h0M1167.1 343.6h0M1035.4 338.1h0M1158.0 287.4h0M1108.9 254.0h0M1097.1 343.5h0M1140.9 52.9h0M1049.7 58.6h0M1080.0 70.0h0M1164.4 299.8h0M991.0 338.0h0M1053.0 51.7h0M987.5 74.4h0M1160.3 263.4h0M1140.6 243.6h0M1036.9 349.3h0M1034.5 344.4h0M1017.8 54.7h0M1135.9 245.2h0M996.7 337.2h0M1169.5 288.1h0M1130.4 239.7h0M1079.9 345.0h0M1047.4 322.7h0M1072.6 348.1h0M1114.5 53.3h0M1023.9 321.1h0M1159.1 45.9h0M1132.5 284.9h0M1126.0 242.4h0M1057.0 54.5h0M1060.0 342.9h0M1060.5 332.9h0M1148.0 251.8h0M1130.2 48.7h0M1061.3 356.2h0M1163.8 277.4h0M1126.9 60.3h0M1154.6 298.9h0M1086.2 323.3h0" stroke="#89d8a0" stroke-width="4.1" stroke-linecap="round" stroke-opacity="0.88"/>
<path d="M1050.8 51.6h0M1041.8 50.9h0M1163.2 42.9h0M1151.1 47.5h0M1101.6 262.3h0M1068.8 337.9h0M1150.1 44.3h0M1050.4 321.0h0M1008.2 355.3h0M1005.6 67.8h0M1133.5 62.7h0M1015.1 62.1h0M1029.7 56.2h0M1011.3 62.0h0M1089.3 321.3h0M1010.0 229.0h0M1048.9 50.9h0M1127.4 55.3h0M1173.2 45.1h0M1158.0 305.0h0M1083.7 326.8h0M1053.1 52.2h0M1012.4 325.8h0M1165.6 304.0h0M1128.3 56.9h0M985.6 184.7h0M1037.0 67.6h0M999.6 335.3h0M1154.8 247.5h0M1020.4 59.4h0M1036.6 72.0h0M1030.0 328.1h0M1108.2 254.5h0M1116.9 53.2h0M1008.1 320.0h0M981.0 87.4h0M1098.5 340.8h0M1053.9 62.6h0M1126.6 270.9h0M981.0 82.2h0M994.5 77.5h0M1028.7 62.6h0M1130.2 61.0h0M1160.7 258.8h0M1111.7 248.8h0M1036.9 342.7h0M1128.3 248.7h0M1033.7 72.1h0M1055.9 55.1h0M872.7 209.6h0M1149.8 256.5h0M1145.5 279.7h0M998.9 338.2h0M1030.2 356.2h0M1150.0 303.7h0M1161.7 292.8h0M1150.1 258.9h0M1043.0 71.8h0M1145.3 296.7h0M1062.9 55.2h0M1008.9 322.6h0M1008.6 318.2h0M1111.7 85.4h0M1053.2 57.3h0M981.9 86.0h0M1066.7 57.1h0M1012.0 68.2h0M990.0 75.7h0M1132.1 262.2h0M1132.4 49.5h0M1153.2 277.1h0M1084.7 340.5h0M1159.3 264.4h0M1047.3 53.3h0M1070.6 335.6h0M1133.9 56.5h0M983.2 170.7h0M899.2 144.4h0M1168.1 44.4h0M1036.3 347.5h0M1081.6 345.9h0M997.1 79.8h0M1080.8 344.0h0M1137.9 62.2h0M895.8 221.8h0M1018.6 53.8h0M1054.2 70.0h0M1144.5 295.4h0M1136.0 46.0h0M1151.2 235.6h0M1045.6 58.1h0M1010.2 331.4h0M1086.0 47.0h0M1001.5 89.6h0M1068.6 315.1h0M1055.9 351.5h0M1052.5 76.7h0M981.9 86.4h0M1161.2 262.7h0M1008.4 340.7h0M1018.7 74.3h0M1115.0 82.1h0M1136.9 55.1h0M1160.5 47.8h0M1022.2 65.0h0M1040.2 57.7h0M1029.5 57.6h0M978.2 97.6h0M1127.1 260.2h0M1088.6 321.3h0M1016.5 360.3h0M1048.9 51.7h0M1015.4 70.2h0M1026.2 73.9h0M1048.5 61.6h0M1144.7 230.4h0M1163.8 269.4h0M1142.4 53.2h0M1143.3 57.5h0M1133.5 49.0h0M1032.5 69.0h0M1115.5 87.0h0M1095.2 343.7h0M993.5 71.2h0M902.6 141.7h0M1058.1 324.3h0M1161.8 278.8h0M1148.5 302.9h0M1036.2 319.3h0M1056.1 326.8h0M1050.6 53.6h0M1077.0 92.0h0M984.3 328.3h0M897.7 200.9h0M1169.2 273.7h0M1116.8 245.7h0M1123.7 248.4h0M1083.0 80.0h0M1123.7 256.7h0M1096.0 337.9h0M1157.8 250.4h0M1060.4 55.1h0M1053.3 80.2h0M1007.5 334.7h0M1129.5 359.2h0M984.1 93.3h0M1046.9 328.0h0M1054.1 66.2h0M863.2 205.5h0M1158.3 298.5h0M1048.2 54.1h0M1146.2 267.0h0M1127.5 57.7h0M1167.9 258.2h0M1049.9 50.8h0M1039.8 332.4h0M1002.4 90.9h0M1174.8 286.8h0M984.8 84.2h0M1027.4 61.7h0M1136.9 281.6h0M1054.4 70.3h0M980.8 179.7h0M1143.7 297.1h0M1003.8 342.0h0M978.6 85.0h0M1103.6 81.1h0M1118.6 244.8h0M992.0 194.2h0M1158.0 267.8h0M987.1 74.2h0M928.2 129.4h0M1019.9 75.0h0M1053.4 59.0h0M995.9 326.3h0M1160.4 261.6h0M1031.8 332.3h0M1043.3 324.8h0M986.2 74.9h0M1112.5 55.3h0M1022.8 60.4h0M1027.2 62.4h0M1128.6 283.8h0M1050.0 53.5h0M1046.9 320.9h0M1041.8 327.9h0M1124.6 259.5h0M1046.8 66.6h0M987.2 183.5h0M995.5 86.6h0M1138.7 53.8h0M1126.5 53.1h0M979.5 85.3h0M1153.3 247.1h0M996.0 79.8h0M1160.0 290.8h0M1015.2 66.3h0M995.0 89.3h0M1159.3 290.0h0M1042.9 60.7h0M1066.8 349.5h0M1131.8 56.8h0M943.2 171.7h0M994.0 81.2h0M1049.1 54.4h0M1050.9 343.4h0M1110.5 241.4h0M1039.3 321.6h0M1162.5 285.2h0M1149.2 276.5h0M1073.2 329.4h0M1122.8 275.9h0M1060.1 87.5h0M908.0 138.3h0M1042.7 60.5h0M995.7 82.1h0M1070.5 331.5h0M1018.0 63.0h0M1044.6 68.6h0M1045.9 61.5h0M1155.2 300.4h0M1148.0 240.4h0M1000.7 67.0h0M1013.7 65.2h0M1035.4 64.1h0M1054.7 52.8h0" stroke="#97db8c" stroke-width="4.1" stroke-linecap="round" stroke-opacity="0.88"/>
<path d="M992.1 320.9h0M1024.0 323.3h0M1054.4 52.6h0M1142.5 263.5h0M1122.0 242.7h0M960.1 157.6h0M1066.4 69.7h0M1126.0 53.2h0M1090.8 339.2h0M1170.6 280.7h0M990.1 79.6h0M1000.8 324.3h0M1056.4 53.1h0M1153.6 277.5h0M1127.2 51.0h0M1062.2 321.1h0M1025.3 63.9h0M1146.8 270.2h0M1087.1 355.1h0M1060.4 352.0h0M987.6 83.9h0M1124.6 246.9h0M1010.9 343.7h0M999.3 67.3h0M1161.6 51.2h0M1039.9 324.4h0M989.3 79.4h0M1025.1 62.5h0M1062.8 56.2h0M1011.2 304.0h0M939.5 159.5h0M1156.5 51.8h0M1068.9 68.1h0M1161.2 247.1h0M1041.6 67.0h0M1039.0 75.5h0M982.7 127.5h0M1137.9 63.4h0M978.1 95.4h0M1030.1 333.1h0M987.9 335.4h0M1013.4 66.9h0M1049.8 322.8h0M1042.1 86.3h0M1011.8 348.5h0M1066.0 66.1h0M986.0 83.4h0M1004.3 324.8h0M1065.2 53.1h0M1012.7 59.7h0M1023.6 320.2h0M989.7 335.8h0M1120.5 86.1h0M1091.8 351.8h0M1021.9 325.0h0M845.0 196.2h0M1038.5 56.1h0M1029.3 322.3h0M972.1 174.2h0M1113.1 249.1h0M1010.4 341.8h0M1038.5 63.1h0M1124.8 270.9h0M1174.0 50.8h0M1088.0 331.6h0M1155.7 302.3h0M1051.5 349.1h0M1144.1 282.6h0M1023.9 74.8h0M1102.8 253.3h0M1070.4 68.0h0M1026.0 345.0h0M1109.8 82.9h0M1005.5 63.6h0M1067.5 102.5h0M1157.5 294.4h0M1081.2 317.5h0M1040.0 78.6h0M1099.5 331.7h0M988.0 193.0h0M1157.3 246.7h0M1149.6 239.5h0M1126.7 285.1h0M1132.6 245.0h0M1154.8 263.7h0M1109.9 87.0h0M1039.3 67.8h0M1151.6 252.2h0M1162.7 264.3h0M1167.7 258.4h0M1136.9 49.4h0M985.4 177.5h0M1123.1 237.3h0M998.9 70.7h0M1173.2 268.4h0M1020.3 323.2h0M1008.8 90.4h0M1128.2 51.0h0M998.5 68.5h0M1005.2 352.0h0M1147.8 274.8h0M991.6 329.0h0M1167.1 250.1h0M1070.2 303.8h0M1142.5 58.7h0M979.3 90.8h0M1056.7 64.6h0M1005.3 324.6h0M1142.1 248.4h0M1127.2 258.7h0M1132.0 245.4h0M1065.6 65.6h0M891.6 202.8h0M1132.4 45.0h0M1001.4 70.3h0M1161.8 257.6h0M1028.6 70.2h0M1169.0 269.9h0M1058.5 67.1h0M1156.1 288.3h0M1056.7 54.1h0M1138.2 283.9h0M1033.4 102.1h0M1141.6 248.1h0M1132.0 55.4h0M1005.1 68.0h0M985.3 332.9h0M1025.8 340.1h0M1130.6 243.5h0M1018.0 337.8h0M1022.6 338.9h0M1058.3 71.5h0M1044.7 350.2h0M1007.2 70.0h0M1018.1 67.8h0M987.3 326.9h0M1064.7 332.2h0M1134.1 251.0h0M1068.2 99.9h0M1033.9 329.3h0M1025.4 74.4h0M1029.2 69.3h0M1049.4 54.2h0M934.8 133.2h0M1053.1 72.5h0M1057.4 58.9h0M1017.0 232.0h0M1030.6 64.5h0M1059.9 54.1h0M1059.1 323.9h0M1014.1 333.9h0M1093.0 350.3h0M988.1 75.2h0M1009.3 68.5h0M993.7 330.2h0M1058.4 60.6h0M1116.4 260.7h0M1080.4 318.2h0M1140.5 58.3h0M1057.7 331.6h0M1081.1 329.6h0M1014.9 344.6h0M895.8 130.2h0M1074.6 332.1h0M1076.0 334.5h0M1040.7 61.5h0M1068.5 105.7h0M1044.1 335.0h0M1064.4 61.0h0M988.6 103.4h0M1012.4 66.2h0M1082.3 342.5h0M1053.1 323.2h0M1067.1 334.5h0M1128.7 48.2h0M1095.3 340.4h0M1063.2 319.4h0M1005.8 64.5h0M1001.7 70.9h0M1053.5 317.5h0M1042.9 64.5h0M1133.6 62.0h0M1037.9 62.0h0M1020.1 342.1h0M1041.4 77.5h0M998.0 127.0h0M1159.2 283.3h0M1019.9 71.6h0M1092.0 335.2h0M1086.3 338.0h0M1158.6 265.1h0M1148.3 43.8h0M1008.1 88.4h0M1042.1 54.6h0M1068.5 76.2h0M1078.4 361.1h0M1011.9 77.8h0M1144.8 253.4h0M1144.9 255.6h0M1138.7 61.7h0M1069.1 63.9h0M1135.2 51.5h0M1157.3 257.2h0M1055.0 65.8h0M1126.5 58.0h0M1046.0 295.6h0M1133.0 54.6h0M1150.6 253.7h0M997.2 330.3h0M1138.8 239.1h0M1042.6 334.7h0M1078.7 346.9h0M893.1 213.6h0M999.1 91.9h0M1040.5 310.1h0M1048.9 59.7h0M1160.0 249.0h0M1036.3 73.1h0M989.9 329.4h0M990.5 79.9h0M1154.4 261.7h0M1140.3 59.4h0M1131.9 236.4h0M1068.1 347.5h0M1025.8 70.2h0M1043.0 68.6h0M1164.8 288.0h0M1068.3 347.5h0M1156.9 288.7h0M1147.5 240.5h0M1026.4 66.8h0M1034.8 349.0h0M1035.2 321.6h0M1060.0 352.8h0M991.5 338.8h0M1019.0 328.7h0M997.9 68.9h0M1060.0 89.6h0M989.6 320.3h0M1011.4 71.8h0M1057.9 91.8h0M1100.5 262.5h0M1045.2 61.6h0M1125.2 267.7h0M1026.5 334.9h0M1057.9 335.6h0M1037.4 65.7h0M1024.9 319.2h0M1133.4 57.9h0M992.4 340.6h0M1012.1 65.5h0M1067.6 101.2h0M1085.6 349.8h0M1034.1 64.9h0M1066.9 329.7h0M1044.3 82.4h0M1036.6 317.8h0M1162.7 284.2h0M1025.4 67.5h0M1034.0 292.2h0M1123.8 246.9h0M988.2 101.0h0M1100.0 259.6h0M1021.0 74.2h0M1041.1 60.5h0M1145.3 288.3h0M1038.6 69.3h0M1080.1 338.2h0M1018.9 67.0h0M979.3 86.0h0M1133.4 49.9h0M1098.3 259.6h0M1137.2 49.9h0M1024.6 81.8h0M1151.8 297.6h0M1117.9 268.2h0M1045.1 59.0h0M1160.7 275.4h0M1034.0 331.6h0M1086.1 344.2h0M905.3 139.0h0M1002.0 334.6h0M1003.2 331.3h0M1053.2 66.6h0M1046.2 61.2h0M1078.5 322.5h0M1019.7 326.6h0M1027.3 60.3h0M1092.0 348.2h0M1004.4 65.9h0M1038.3 77.7h0M1144.7 241.7h0M1085.0 320.7h0M1023.2 67.2h0M1063.0 89.1h0M1132.0 253.3h0M1056.6 343.9h0M1130.1 249.8h0M1072.1 72.3h0M1005.1 324.9h0M992.3 76.9h0M1151.3 257.0h0M1024.7 345.4h0M1059.2 58.0h0M1031.8 327.8h0M1008.7 61.1h0M1059.0 57.5h0M977.4 174.5h0M1158.1 354.3h0M1028.6 77.7h0" stroke="#a4dd78" stroke-width="4.1" stroke-linecap="round" stroke-opacity="0.88"/>
<path d="M1055.8 324.6h0M1159.7 256.1h0M1162.6 288.0h0M1030.0 222.0h0M1028.4 313.1h0M1034.0 106.5h0M1137.3 61.7h0M1047.8 53.5h0M1149.4 254.6h0M1134.3 249.3h0M1043.4 60.1h0M1138.9 290.3h0M1024.8 70.1h0M1158.8 282.1h0M983.4 77.6h0M1007.1 73.5h0M1129.5 52.3h0M995.8 132.2h0M1091.0 43.0h0M1014.8 346.6h0M1070.0 348.2h0M1113.3 257.8h0M995.8 340.6h0M1056.5 337.2h0M1125.5 58.2h0M1151.9 271.4h0M1043.0 327.5h0M1102.0 48.0h0M1064.9 56.8h0M999.9 345.0h0M988.2 74.1h0M1147.2 235.6h0M991.4 91.0h0M1125.5 61.8h0M983.7 88.9h0M1119.1 268.3h0M1136.8 47.3h0M988.0 109.2h0M1051.7 60.2h0M1000.8 338.7h0M1043.4 329.8h0M1040.4 79.3h0M1041.2 74.6h0M1143.8 63.7h0M1146.3 255.2h0M1008.6 74.5h0M1034.3 62.5h0M1033.7 318.8h0M1015.8 331.1h0M1080.3 343.9h0M1132.3 53.0h0M1022.6 67.0h0M1054.8 340.4h0M1074.8 328.2h0M1033.7 323.1h0M1032.3 102.1h0M1035.7 63.3h0M1133.7 245.6h0M1154.9 299.6h0M995.2 88.6h0M1116.9 269.4h0M1046.9 324.4h0M1048.6 85.2h0M1003.9 67.8h0M1067.2 85.6h0M992.0 85.5h0M1153.9 292.0h0M982.1 94.4h0M1026.8 336.5h0M1037.5 67.6h0M1153.5 286.5h0M992.8 84.5h0M1067.7 349.2h0M1139.2 55.3h0M1136.3 50.9h0M996.5 341.3h0M1126.8 277.2h0M1068.9 69.3h0M989.2 86.7h0M1127.2 237.8h0M1139.1 51.7h0M978.7 98.7h0M1056.0 324.1h0M1141.3 282.4h0M1000.6 66.2h0M1121.2 258.0h0M1016.2 84.7h0M1050.7 63.7h0M1035.1 300.6h0M1042.8 80.6h0M1066.2 351.0h0M1126.9 63.1h0M1059.9 78.5h0M1068.6 61.2h0M1034.4 72.3h0M1036.7 77.3h0M988.9 110.5h0M1047.3 75.3h0M1144.8 233.0h0M1133.3 45.7h0M1052.6 56.3h0M1012.4 75.4h0M1156.2 251.4h0M992.3 76.7h0M1013.2 346.5h0M1157.5 43.5h0M1008.4 334.9h0M1151.7 287.2h0M998.7 71.3h0M986.6 80.1h0M1001.3 72.1h0M1022.5 74.6h0M1136.7 50.3h0M1151.0 253.0h0M987.2 89.2h0M1041.4 87.0h0M1159.0 268.1h0M1006.8 328.7h0M1125.8 261.2h0M1061.6 316.8h0M1003.2 75.0h0M1136.4 280.7h0M1135.7 285.1h0M1056.7 337.5h0M1124.2 264.7h0M1068.4 64.8h0M1041.2 332.3h0M1056.8 62.9h0M1090.6 267.9h0M1140.9 253.1h0M985.2 83.5h0M1132.0 62.1h0M1060.2 77.0h0M1021.0 73.0h0M1085.6 329.7h0M1060.8 346.9h0M1032.6 72.0h0M1141.7 248.5h0M1063.1 67.9h0M1021.8 325.1h0M1033.1 83.9h0M1035.0 62.8h0M1048.0 331.4h0M1052.0 66.4h0M1087.8 350.6h0M1010.1 320.9h0M986.3 77.9h0M1129.6 258.2h0M1132.8 285.9h0M1064.8 314.9h0M1032.2 64.2h0M1109.9 84.0h0M1044.4 85.9h0M1088.4 327.1h0M1025.6 317.3h0M1014.3 330.2h0M987.3 106.5h0M1004.1 98.5h0M1059.8 71.4h0M1028.6 60.2h0M1055.7 76.0h0M1120.2 80.4h0M1042.8 68.1h0M1067.0 314.3h0M1010.8 90.8h0M1160.5 275.1h0M990.8 88.7h0M1039.9 60.8h0M1054.4 65.6h0M1100.5 267.2h0M1161.0 267.4h0M1061.8 98.4h0M1035.8 62.7h0M993.4 100.8h0M1091.0 333.4h0M976.6 173.3h0M1033.0 85.2h0M1064.0 78.4h0M1083.3 318.9h0M1072.8 344.0h0M1021.6 69.0h0M1138.3 263.3h0M1038.4 335.6h0M1166.1 287.8h0M1068.1 66.8h0M1075.2 318.9h0M1036.7 65.5h0M1025.0 67.0h0M987.2 102.0h0M1141.5 252.0h0M1124.7 259.3h0M1042.5 71.6h0M1125.9 249.9h0M986.7 93.8h0M1156.6 51.0h0M1070.1 101.4h0M1078.7 317.9h0M1051.7 60.8h0M1091.6 47.7h0M1149.9 44.9h0M1027.9 67.4h0M1026.0 325.4h0M1067.1 100.9h0M1063.7 92.0h0M982.4 78.5h0M1018.7 340.2h0M1033.6 104.7h0M1104.1 66.5h0M1066.3 76.3h0M1008.0 341.5h0M1078.6 327.0h0M1126.9 45.1h0M1069.0 101.5h0M1063.5 323.2h0M1055.8 58.8h0M1017.3 65.3h0M1128.4 45.8h0M1003.7 84.2h0M1045.1 52.3h0M1033.9 104.5h0M1019.3 69.3h0M1138.6 283.4h0M1006.5 323.4h0M1071.5 82.0h0M1112.3 84.1h0M1027.3 330.9h0M1123.0 275.9h0M1168.9 288.8h0M1030.3 344.2h0M1001.3 342.3h0M1052.9 334.7h0M1149.7 276.1h0M1002.8 74.8h0M1150.7 259.8h0M1033.8 327.8h0M1062.5 61.7h0M1152.2 277.9h0M1052.4 347.5h0M1033.5 60.5h0M986.4 94.1h0M1144.5 253.1h0M1015.1 85.3h0M989.8 319.2h0M1055.4 336.0h0M1067.8 67.2h0M1069.2 83.2h0M1016.3 100.2h0M1132.0 53.0h0M1066.7 76.3h0M986.9 93.1h0M1049.1 83.1h0M1143.1 260.2h0M1162.6 247.7h0M1055.6 78.7h0M1040.8 339.7h0M1029.6 69.3h0M1063.2 74.7h0M1041.0 85.0h0M984.0 98.0h0M1130.7 277.6h0M1040.1 65.5h0M1160.5 260.4h0M1064.3 66.0h0M1014.8 335.8h0M1027.6 69.5h0M989.7 107.8h0M998.0 81.4h0M993.8 94.2h0M999.5 321.6h0M1159.8 51.5h0M994.7 77.0h0M1002.8 343.1h0M1048.2 349.6h0M1153.8 51.3h0M998.5 344.6h0M1013.1 94.2h0M1154.0 254.1h0M1029.9 336.5h0M1041.4 71.7h0M999.9 79.9h0M1144.8 79.6h0M1044.1 60.8h0M1050.9 59.8h0M1025.6 77.3h0M1064.2 339.3h0M992.5 337.0h0M1058.2 64.4h0M1151.5 295.1h0M1129.3 235.0h0M1154.6 286.8h0M1166.2 50.7h0M1042.6 68.5h0M1128.4 288.6h0M1077.7 346.7h0M992.8 332.8h0M1126.8 54.0h0M1039.1 321.9h0M1091.3 340.6h0M1065.0 78.5h0M1047.9 89.6h0M1144.4 293.5h0M1068.0 104.2h0M1039.1 85.1h0M993.3 90.3h0M1011.2 74.8h0M1157.8 264.5h0M984.1 175.1h0M1000.4 336.3h0M988.5 93.8h0M1024.9 335.0h0M1000.5 69.7h0M993.2 83.3h0M1066.4 353.4h0M1067.9 101.5h0M1034.2 348.3h0M1001.6 326.4h0M1131.0 267.9h0M1136.6 289.3h0" stroke="#b2e064" stroke-width="4.1" stroke-linecap="round" stroke-opacity="0.88"/>
<path d="M1034.7 314.8h0M1035.3 109.9h0M1041.7 95.2h0M1149.3 266.2h0M1067.0 336.5h0M1138.2 57.2h0M1030.6 68.7h0M1009.9 64.5h0M1009.9 86.2h0M1015.6 83.5h0M1119.6 274.5h0M972.1 168.2h0M987.5 75.6h0M1139.8 300.3h0M1063.8 94.5h0M1016.1 107.8h0M977.9 96.0h0M1018.2 338.1h0M1150.0 260.8h0M1014.5 344.4h0M1070.6 73.7h0M1069.9 77.5h0M1018.4 102.3h0M1002.3 324.1h0M1092.1 324.7h0M1010.4 74.6h0M984.1 79.6h0M1026.5 73.4h0M1141.0 255.4h0M1130.0 289.3h0M1130.6 50.3h0M1033.8 72.5h0M1030.9 63.8h0M1050.6 307.3h0M1134.5 58.8h0M1068.5 339.5h0M1094.0 339.3h0M1059.0 84.7h0M1046.4 83.5h0M1146.9 59.0h0M985.2 99.6h0M1008.5 93.2h0M1062.6 59.2h0M1028.0 325.5h0M1139.7 263.6h0M1008.7 76.1h0M1147.3 279.1h0M1139.0 282.7h0M1000.0 104.7h0M1014.1 91.4h0M1050.6 66.8h0M1060.8 80.7h0M1032.7 70.6h0M1062.6 101.4h0M1016.1 84.1h0M1002.7 94.6h0M993.1 93.6h0M1053.6 66.0h0M1149.0 290.5h0M1066.8 71.4h0M1038.1 347.0h0M1034.1 108.7h0M1001.4 105.4h0M1067.0 70.4h0M1029.4 337.3h0M1031.7 343.9h0M1140.8 287.7h0M1006.4 69.9h0M989.1 101.8h0M1069.4 87.2h0M993.0 336.5h0M1143.3 283.1h0M1036.8 78.5h0M1163.4 259.1h0M1001.6 102.1h0M1010.8 63.5h0M1037.9 73.2h0M1141.2 289.0h0M1001.9 321.7h0M1064.6 79.7h0M994.7 99.9h0M1093.9 338.6h0M1038.6 96.9h0M1158.9 48.3h0M1011.2 73.0h0M1147.0 257.5h0M1077.8 258.7h0M1002.5 90.7h0M992.1 85.5h0M1159.3 270.0h0M1084.8 353.8h0M1151.9 275.6h0M1012.0 317.2h0M1002.6 319.0h0M1043.6 71.4h0M1076.0 342.3h0M1143.3 244.6h0M1019.4 89.5h0M1022.5 74.5h0M1023.3 342.1h0M1051.7 75.7h0M1046.6 68.0h0M1040.5 314.2h0M1127.2 267.2h0M1030.9 325.5h0M1033.9 103.9h0M1085.3 325.3h0M999.1 82.4h0M1129.0 47.3h0M1068.0 101.6h0M1073.9 347.4h0M1008.7 327.7h0M991.0 323.2h0M1036.9 323.9h0M1059.8 63.1h0M988.7 87.5h0M1001.0 73.0h0M1018.9 94.1h0M1055.5 330.0h0M1031.1 345.8h0M995.6 86.7h0M1150.0 288.2h0M1015.9 305.1h0M1054.7 321.4h0M1067.5 64.7h0M1053.2 58.4h0M1048.0 321.8h0M1026.9 81.4h0M1064.9 72.5h0M1002.3 327.0h0M1015.6 78.1h0M1157.5 279.6h0M1141.1 247.9h0M1020.2 324.7h0M1039.0 75.7h0M1063.2 81.4h0M987.1 78.4h0M995.9 78.9h0M1089.7 322.5h0M1139.1 52.1h0M1029.7 93.6h0M1024.6 96.6h0M1041.2 81.2h0M1035.4 78.5h0M987.5 99.6h0M1045.2 293.6h0M1061.5 76.8h0M1064.9 325.3h0M1050.9 335.1h0M1087.1 332.3h0M1046.9 104.6h0M993.6 95.3h0M987.7 109.6h0M977.9 101.0h0M1141.3 278.0h0M1069.4 352.5h0M1030.4 65.9h0M987.4 111.0h0M1032.6 79.2h0M1146.1 51.8h0M1126.6 273.6h0M1164.9 280.1h0M1146.6 294.4h0M1034.1 111.8h0M1091.5 340.4h0M1049.0 351.5h0M1072.1 342.6h0M1020.2 96.0h0M1123.1 258.0h0M1090.4 323.1h0M987.3 91.8h0M999.0 91.4h0M1125.1 262.5h0M993.9 334.7h0M1022.8 65.3h0M1047.3 77.0h0M1052.1 318.4h0M1039.4 326.9h0M1147.7 265.7h0M1030.4 75.3h0M996.7 97.2h0M1142.9 231.4h0M1166.8 254.0h0M1159.3 64.7h0M1069.8 92.5h0M1145.9 285.8h0M1000.7 333.8h0M994.1 93.4h0M1079.6 323.2h0M1075.9 317.2h0M1034.3 93.7h0M1000.4 105.7h0M1036.9 92.5h0M992.9 100.6h0M1020.8 72.6h0M995.4 90.3h0M1128.1 242.4h0M1129.9 256.3h0M1029.0 72.2h0M1050.2 71.1h0M1048.9 73.1h0M1036.6 335.5h0M1000.3 336.2h0M1068.5 100.8h0M1014.3 68.1h0M1137.3 257.9h0M1023.1 321.4h0M993.5 310.4h0M1058.1 65.0h0M1001.1 325.0h0M996.3 84.3h0M1100.3 341.2h0M1025.4 70.1h0M1058.6 78.1h0M1000.4 321.8h0M1163.2 264.6h0M1150.4 54.8h0M1021.8 342.7h0M1000.1 80.6h0M1057.3 68.6h0M1131.9 265.0h0M988.6 99.0h0M1129.4 274.2h0M1044.5 73.8h0M997.3 97.8h0M977.4 96.5h0M1026.7 76.4h0M1022.8 81.6h0M1015.6 81.3h0M1136.6 254.8h0M1054.5 334.1h0M1021.6 74.4h0M987.4 96.0h0M1048.8 67.8h0M1127.6 267.6h0M1139.8 236.8h0M1026.2 333.9h0M1059.9 90.8h0M976.5 171.3h0M1025.9 71.6h0M1008.5 85.3h0M993.8 91.6h0M1052.2 293.4h0M988.6 105.9h0M1023.4 78.0h0M985.9 103.2h0M1090.0 349.3h0M1041.6 77.9h0M1029.6 84.0h0M1035.8 63.1h0M1009.0 70.0h0M1016.4 98.3h0M1085.7 341.6h0M1007.8 335.1h0M998.4 82.1h0M1063.4 59.2h0M1023.3 61.7h0M1040.8 326.0h0M986.4 100.0h0M994.7 329.7h0M1062.5 88.5h0M1063.5 86.8h0M1018.6 91.8h0M1031.4 341.0h0M1028.1 61.7h0M1151.6 266.2h0M1132.9 254.5h0M1141.5 260.3h0M987.3 102.5h0M1036.9 111.3h0M1034.1 75.4h0M1069.3 90.6h0M1150.0 258.0h0M1067.2 307.0h0M1036.3 97.3h0M1000.1 88.5h0M1002.6 326.2h0M1029.3 91.6h0M1141.1 278.4h0M1013.7 66.3h0M1051.9 93.7h0M1016.1 77.3h0M987.7 98.9h0M1156.0 59.5h0M1044.6 90.2h0M1026.1 62.7h0M1010.6 86.7h0M1045.6 82.4h0M1010.4 87.8h0M1066.6 316.0h0M1039.9 84.4h0M992.3 82.5h0M1032.8 305.6h0M1146.4 289.5h0M1125.9 56.8h0M1019.8 322.6h0M1029.6 84.3h0M999.0 102.0h0M995.7 311.7h0M1035.2 106.7h0M1006.8 75.1h0M993.8 104.3h0M987.2 92.4h0M990.2 98.7h0M987.1 317.8h0M1143.1 264.7h0M1153.0 45.0h0M1047.7 78.5h0M995.6 98.8h0M1070.1 330.1h0M1044.7 90.6h0M1056.2 315.1h0M1000.6 101.7h0M1009.4 100.1h0M1000.5 99.7h0M1029.7 344.0h0M1151.7 274.1h0" stroke="#bfe156" stroke-width="4.1" stroke-linecap="round" stroke-opacity="0.88"/>
<path d="M1071.2 87.7h0M991.6 86.8h0M1056.1 92.4h0M1033.5 108.1h0M1020.0 85.5h0M1153.3 61.4h0M1061.6 77.6h0M1033.5 109.3h0M1000.0 99.3h0M1128.1 268.2h0M995.4 105.4h0M991.2 96.1h0M1088.8 253.6h0M1159.0 60.6h0M1033.7 77.2h0M1138.7 249.1h0M1026.5 79.6h0M1069.3 104.3h0M1064.7 78.4h0M1138.7 281.6h0M991.6 82.1h0M1044.2 70.5h0M1141.8 274.0h0M1065.2 76.5h0M1016.8 75.6h0M1064.8 80.9h0M1117.9 252.4h0M1022.9 96.1h0M1028.7 344.9h0M1127.3 55.5h0M1064.4 83.2h0M1008.3 78.8h0M1068.3 78.5h0M1069.2 85.8h0M1016.3 84.1h0M1081.5 323.9h0M1137.7 278.9h0M992.2 75.5h0M1037.4 86.9h0M1013.6 68.1h0M1082.7 342.5h0M1030.2 318.7h0M1053.3 76.0h0M1067.1 78.6h0M983.4 77.3h0M1068.5 81.8h0M1005.4 315.5h0M990.0 111.2h0M980.7 93.7h0M1145.3 262.1h0M1131.9 274.6h0M1037.3 302.5h0M1150.7 298.6h0M985.4 88.0h0M984.7 87.5h0M1119.8 87.8h0M1005.7 90.2h0M993.2 86.2h0M1011.3 66.8h0M1132.8 259.1h0M1147.1 57.5h0M1121.1 277.1h0M1054.3 339.2h0M1010.9 98.2h0M1011.9 70.9h0M1140.8 267.7h0M1015.2 329.2h0M1050.9 94.8h0M1160.0 273.9h0M1148.5 245.5h0M999.1 333.6h0M1130.5 266.6h0M1126.4 257.7h0M1060.7 340.0h0M1032.9 106.5h0M1049.9 94.4h0M1138.2 263.6h0M996.0 108.7h0M1003.6 69.2h0M1065.4 86.0h0M993.8 85.6h0M994.9 86.9h0M1067.7 320.8h0M1065.3 78.3h0M1042.4 76.7h0M1002.0 87.1h0M1143.5 268.9h0M1136.8 257.0h0M1084.9 345.9h0M1083.9 347.1h0M1029.3 99.4h0M977.6 98.8h0M1066.2 89.1h0M1028.3 309.2h0M1046.2 70.7h0M1065.9 329.0h0M1065.5 297.1h0M1055.4 91.4h0M1034.5 104.9h0M1132.9 289.3h0M1030.0 84.8h0M1145.1 274.4h0M1022.1 83.9h0M1042.3 83.7h0M1003.8 338.5h0M995.5 104.4h0M1071.3 85.2h0M1018.5 105.7h0M1045.5 89.4h0M1000.2 333.8h0M1088.3 336.9h0M1020.2 79.8h0M1057.7 96.3h0M1078.8 349.4h0M1042.0 99.7h0M1060.9 95.9h0M1066.1 78.0h0M1020.8 304.4h0M1018.2 85.6h0M996.5 101.1h0M1044.1 84.7h0M1012.9 83.0h0M1044.7 317.3h0M1050.4 67.5h0M1035.3 87.9h0M1148.0 283.8h0M1124.4 271.4h0M1131.9 46.2h0M1158.7 54.8h0M1018.6 68.8h0M1015.7 97.5h0M1065.4 73.3h0M1035.7 86.0h0M1142.3 279.5h0M1000.2 105.9h0M1007.9 89.4h0M1051.7 332.9h0M1073.6 341.2h0M1013.5 338.6h0M1008.8 327.2h0M1023.0 298.9h0M1072.9 325.6h0M1141.1 293.5h0M1148.5 283.9h0M1017.4 79.0h0M1046.2 304.8h0M1134.9 67.0h0M1052.2 314.7h0M1007.7 83.2h0M1050.6 68.6h0M994.8 103.4h0M1135.5 266.8h0M982.1 86.2h0M1159.8 49.7h0M1154.7 276.7h0M1018.8 110.9h0M1094.2 264.1h0M1057.6 83.4h0M1128.4 271.3h0M1066.5 310.9h0M1033.5 304.8h0M1085.1 327.3h0M1134.7 58.0h0M1073.0 350.8h0M1131.8 289.3h0M1067.6 114.2h0M1144.8 266.4h0M995.2 101.6h0M1061.4 99.5h0M1018.8 86.9h0M982.4 92.6h0M1021.1 87.4h0M1038.9 94.4h0M1068.3 85.4h0M1065.8 93.2h0M984.4 328.2h0M1048.4 93.7h0M1000.4 92.1h0M1066.4 326.5h0M1142.5 261.6h0M1153.3 53.6h0M995.1 100.4h0M1157.2 50.7h0M1040.7 88.8h0M998.5 180.1h0M1142.1 294.0h0M1016.4 76.6h0M1046.0 77.8h0M1055.8 93.0h0M1045.2 309.8h0M1052.7 85.2h0M1036.2 86.3h0M1064.4 78.1h0M1082.0 321.5h0M1039.5 79.8h0M1063.7 329.7h0M1050.1 316.9h0M1001.8 91.8h0M1155.2 58.1h0M1057.7 88.1h0M990.2 78.5h0M1029.2 87.3h0M1015.3 317.5h0M1049.1 318.2h0M985.5 321.2h0M1014.1 89.2h0M1061.2 339.3h0M1021.9 97.6h0M986.1 99.0h0M990.3 333.8h0M1010.8 65.2h0M1014.3 74.8h0M1025.9 64.5h0M1153.3 276.7h0M1069.6 104.9h0M1050.3 93.9h0M1122.5 262.3h0M1015.6 99.0h0M1148.5 283.8h0M1159.7 55.8h0M990.4 101.5h0M1013.0 84.8h0M1061.7 88.2h0M1011.0 322.7h0M993.8 318.9h0M1069.1 91.6h0M1055.9 91.5h0M1151.7 282.5h0M995.8 111.1h0M1030.6 113.2h0M1031.1 85.8h0M1040.9 87.3h0M999.8 105.2h0M1125.1 260.3h0M1099.9 259.7h0M1143.9 252.1h0M1048.6 333.2h0M1037.5 91.1h0M1139.0 287.2h0M1016.8 76.5h0M987.3 318.0h0M1049.2 96.3h0M1048.6 74.8h0M1021.3 79.3h0M1005.6 69.5h0M1086.2 256.1h0M1007.1 89.8h0M1069.8 310.3h0M1011.7 335.2h0M1067.2 299.9h0M1011.0 89.7h0M1031.7 104.6h0M1057.4 341.1h0M1141.6 297.1h0M1055.1 80.7h0M998.3 96.3h0M998.0 311.6h0M1058.2 81.1h0M1075.9 327.8h0M1070.0 83.5h0M1047.6 327.2h0M1051.6 324.4h0M1082.3 325.5h0M1050.2 86.7h0M992.8 91.4h0M1016.6 101.5h0M1012.6 99.8h0M1043.9 102.0h0M1037.7 86.0h0M1065.6 96.8h0M1042.7 73.1h0M1063.6 328.0h0M1011.4 97.9h0M1045.1 89.3h0M1031.5 78.3h0M1128.9 269.3h0M1146.5 61.6h0M1008.8 68.7h0M1004.4 106.5h0M1060.2 83.0h0M991.7 96.0h0M1023.4 312.4h0M1011.3 99.2h0M1062.4 100.3h0M1050.5 317.8h0M1144.7 60.3h0M1016.4 323.5h0M1026.9 74.6h0" stroke="#cce24f" stroke-width="4.1" stroke-linecap="round" stroke-opacity="0.88"/>
<path d="M1057.8 96.7h0M1013.8 314.3h0M1030.0 303.1h0M1063.2 101.5h0M1036.7 294.1h0M1072.1 314.2h0M1011.7 321.1h0M1001.7 81.3h0M1069.2 93.6h0M998.3 101.7h0M1049.3 314.6h0M987.6 100.2h0M1081.0 265.0h0M1079.4 330.7h0M1009.1 80.3h0M1146.8 265.8h0M1147.6 62.0h0M1092.1 259.5h0M1135.4 274.4h0M988.8 107.6h0M1016.8 345.9h0M1082.2 342.8h0M1002.0 335.7h0M1056.7 79.6h0M1022.7 88.3h0M989.2 111.0h0M1032.3 87.8h0M1043.3 317.8h0M1056.3 90.9h0M1143.6 258.2h0M1007.6 319.1h0M1005.0 79.0h0M1021.3 238.0h0M996.7 99.0h0M1082.0 257.3h0M1012.2 90.1h0M1011.2 84.2h0M1000.7 94.6h0M1140.9 270.4h0M1023.7 98.6h0M1001.5 88.9h0M1141.8 263.1h0M1032.7 94.0h0M989.9 91.6h0M1043.7 92.7h0M1036.8 87.9h0M1011.7 77.0h0M1068.7 83.2h0M1012.0 99.3h0M1040.0 94.4h0M1006.4 96.6h0M1151.1 51.5h0M1020.6 87.2h0M1070.8 111.0h0M1052.5 323.9h0M1067.9 99.9h0M1161.0 271.9h0M1131.5 272.4h0M985.4 169.0h0M1025.9 347.6h0M1046.7 316.9h0M1029.1 69.1h0M1012.4 319.0h0M1047.5 87.5h0M1050.6 106.8h0M1094.7 336.0h0M1151.3 55.2h0M1153.6 50.9h0M1010.5 82.4h0M1084.6 327.8h0M997.0 310.5h0M1039.3 298.4h0M1061.9 339.1h0M1030.3 87.2h0M996.5 107.6h0M1006.3 82.5h0M998.4 326.9h0M1060.0 73.6h0M1026.0 107.8h0M1087.5 353.0h0M988.2 101.7h0M1143.8 301.7h0M995.2 180.4h0M1008.0 94.9h0M1159.5 56.4h0M1046.2 89.7h0M1048.0 94.0h0M1147.0 264.2h0M1062.5 320.5h0M1052.3 81.7h0M1144.1 254.2h0M1055.2 321.0h0M1017.1 325.7h0M985.7 101.9h0M1052.6 88.6h0M1134.1 259.7h0M1066.6 69.4h0M1004.3 100.2h0M1129.1 271.4h0M1053.9 96.7h0M1132.2 277.3h0M972.3 180.2h0M1145.4 267.9h0M1001.9 104.1h0M1042.7 332.6h0M1033.7 318.9h0M987.0 88.4h0M1141.6 253.6h0M1139.3 282.4h0M1143.4 258.3h0M1052.9 334.3h0M1008.4 327.3h0M1065.4 82.9h0M1020.6 83.0h0M1017.7 342.6h0M1136.3 71.4h0M1009.1 99.2h0M1008.1 90.6h0M1068.0 343.3h0M1023.3 91.8h0M1057.1 91.4h0M1085.1 267.9h0M1148.0 272.1h0M1132.2 265.7h0M1050.5 347.7h0M986.8 91.6h0M1147.7 57.9h0M1140.2 276.1h0M991.7 185.5h0M1010.2 88.7h0M1067.6 97.7h0M996.1 110.2h0M1048.6 78.6h0M1045.6 87.6h0M1123.1 262.5h0M1034.6 302.5h0M1068.8 84.9h0M1154.1 59.1h0M1011.3 113.8h0M1069.5 87.1h0M1158.4 52.8h0M1009.4 84.7h0M1052.7 92.9h0M1150.7 263.4h0M1043.4 326.3h0M1042.8 133.2h0M992.6 108.3h0M1036.6 100.2h0M1021.3 316.8h0M1063.0 324.1h0M1033.3 321.2h0M1047.1 99.4h0M1015.0 101.1h0M1000.3 89.0h0M1069.2 103.8h0M1059.4 92.4h0M1006.3 321.6h0M997.4 324.1h0M1145.5 265.4h0M1046.0 304.5h0M1005.8 316.9h0M1059.2 82.8h0M1098.7 340.6h0M1071.3 312.1h0M1158.5 54.2h0M1011.1 91.1h0M1149.8 54.5h0M1022.4 324.2h0M1009.1 91.3h0M990.1 301.3h0M1149.7 281.2h0M1025.9 225.2h0M1067.2 99.3h0M1141.7 283.1h0M1012.5 88.4h0M1053.9 77.0h0M998.4 98.7h0M1081.6 255.1h0M1031.6 93.8h0M1019.0 94.4h0M1010.4 96.7h0M1037.2 86.0h0M1001.3 311.3h0M1139.4 277.0h0M1133.6 260.5h0M1148.1 253.8h0M1038.6 99.1h0M1034.4 83.6h0M1148.1 52.0h0M990.5 92.5h0M1007.6 72.5h0M996.6 107.2h0M1069.2 82.8h0M853.7 201.4h0M1062.4 98.1h0M1028.1 100.4h0M1061.7 334.2h0M1027.4 76.0h0M1015.9 82.7h0M1051.5 101.1h0M1159.6 60.9h0M1065.1 294.7h0M1151.6 56.4h0M1040.4 100.0h0M996.9 117.4h0M1017.0 325.4h0M1133.8 49.7h0M992.2 94.0h0M1049.6 317.4h0M1045.8 332.5h0M952.0 150.0h0M1039.3 101.3h0M1146.3 275.5h0M1030.8 82.3h0M985.0 95.3h0M1149.1 58.3h0M1023.7 320.1h0M1059.3 102.5h0M992.9 178.6h0M1062.9 91.9h0M1145.1 287.3h0M1005.9 322.8h0M1061.2 67.1h0M1151.4 52.2h0M999.6 100.0h0M1056.9 95.6h0" stroke="#d8e347" stroke-width="4.1" stroke-linecap="round" stroke-opacity="0.88"/>
<path d="M1034.3 274.9h0M1144.1 255.2h0M1043.4 322.0h0M1004.4 85.7h0M1059.0 79.2h0M1018.6 96.0h0M1037.2 77.3h0M1017.3 114.5h0M1043.6 102.1h0M1062.0 84.5h0M1059.5 293.6h0M1048.1 95.7h0M1087.6 325.0h0M1051.0 98.6h0M1002.6 97.8h0M1019.3 112.4h0M1017.5 111.3h0M1020.9 308.3h0M1006.9 96.9h0M1049.2 288.5h0M1034.7 99.7h0M1153.1 62.4h0M1158.7 58.6h0M1046.4 95.2h0M1025.2 99.8h0M1137.1 278.8h0M1037.4 95.8h0M1062.7 314.3h0M1034.6 98.1h0M1009.5 100.8h0M1082.3 255.4h0M1065.5 82.9h0M1032.8 92.4h0M1024.3 104.2h0M1063.6 322.9h0M1010.9 323.8h0M1057.2 95.1h0M1010.4 100.5h0M1062.6 321.9h0M1027.4 309.3h0M1149.2 53.2h0M1006.6 102.5h0M970.3 169.9h0M1144.6 280.2h0M1026.1 108.1h0M1025.7 313.6h0M1160.8 62.6h0M1011.2 99.6h0M994.3 318.8h0M1021.1 306.7h0M985.8 172.4h0M993.9 100.7h0M1010.1 303.3h0M1061.3 99.4h0M1024.6 98.1h0M1066.1 318.6h0M1034.2 96.1h0M1002.1 101.1h0M1020.2 298.7h0M1000.1 108.3h0M1040.2 306.2h0M1071.3 89.4h0M1059.6 107.4h0M987.4 323.0h0M1164.0 265.4h0M1026.7 93.5h0M1027.3 245.9h0M1035.3 98.3h0M998.0 181.8h0M1060.0 318.9h0M1057.9 306.2h0M1065.4 89.8h0M1070.3 83.8h0M1138.3 270.2h0M1061.4 294.3h0M1002.8 94.9h0M1063.4 91.5h0M1026.6 100.6h0M998.5 108.8h0M1045.8 300.7h0M1143.7 281.2h0M1010.4 94.9h0M1041.6 93.8h0M1039.8 331.3h0M1012.2 95.9h0M1037.6 320.7h0M994.6 104.6h0M1000.7 105.7h0M1027.4 313.5h0M1063.2 103.3h0M1154.4 55.6h0M1043.7 297.1h0M1054.7 108.8h0M1168.8 47.3h0M1062.3 92.3h0M1047.3 299.0h0M1010.6 98.1h0M1006.8 87.7h0M1005.1 282.7h0M1003.5 99.4h0M999.6 96.5h0M1033.4 328.5h0M1016.2 327.4h0M1042.0 294.4h0M988.4 322.4h0M1008.4 93.6h0M1024.6 95.4h0M1070.3 98.7h0M1049.3 329.8h0M1055.5 288.6h0M1058.1 75.4h0M1145.3 273.5h0M1152.2 49.1h0M1132.1 76.5h0M1042.8 296.3h0M1031.5 302.8h0M1041.2 292.3h0M1064.7 309.1h0M1065.4 303.1h0M1016.5 106.3h0M1037.3 298.6h0M1019.2 326.3h0M1087.5 256.6h0M1031.8 290.1h0M1043.9 306.7h0M1009.1 321.5h0M1017.8 114.4h0M1019.6 292.4h0M998.5 327.2h0M1053.2 101.3h0M1004.9 307.5h0M1040.2 93.8h0M1038.3 327.0h0M1072.1 328.5h0M1024.4 330.6h0M1019.1 96.9h0M1051.9 94.6h0M1068.9 96.4h0M1009.5 97.3h0M1044.3 93.4h0M1006.5 309.1h0M1003.5 317.9h0M1048.3 307.8h0M1054.1 292.5h0M1034.3 330.5h0M1048.8 268.4h0M1152.8 265.3h0M1044.0 325.9h0M1030.1 86.6h0M1040.6 98.2h0M1039.8 92.7h0M1059.7 101.8h0M1018.3 117.4h0M1084.0 321.1h0M1052.4 85.5h0M1030.2 90.6h0M1058.4 344.9h0M1148.1 271.1h0M990.8 323.1h0M1012.0 311.3h0M1047.5 104.6h0M1041.3 83.7h0M1067.0 303.9h0M1133.5 251.8h0M1064.2 96.5h0M1027.6 87.9h0M1157.2 58.1h0M1132.3 249.4h0M1060.9 316.9h0M1031.2 309.6h0M1013.3 85.9h0" stroke="#e5e440" stroke-width="4.1" stroke-linecap="round" stroke-opacity="0.88"/>
<path d="M1009.3 90.2h0M1057.4 91.5h0M1060.4 107.3h0M1041.3 301.1h0M1034.0 226.0h0M1004.5 87.1h0M1037.3 292.9h0M1032.3 317.2h0M1008.3 320.4h0M1135.5 73.8h0M996.6 94.6h0M997.4 78.9h0M1000.2 110.4h0M1055.1 109.2h0M1040.0 311.8h0M1139.9 262.8h0M1129.8 67.6h0M1008.1 325.8h0M1133.1 76.0h0M1025.2 110.8h0M1056.8 325.7h0M998.6 185.1h0M1047.6 113.9h0M1067.5 262.2h0M988.7 305.9h0M992.2 178.6h0M1156.6 56.7h0M1044.1 116.8h0M1040.0 231.0h0M1018.8 319.1h0M1160.9 55.7h0M1005.0 323.4h0M992.6 302.1h0M1030.4 104.5h0M1026.9 324.3h0M1090.4 264.0h0M1047.0 101.0h0M995.1 177.2h0M1020.8 302.8h0M1046.5 318.1h0M1065.2 100.1h0M1040.2 297.9h0M1035.1 328.6h0M1054.9 86.8h0M1018.5 308.1h0M1001.8 287.0h0M1011.8 105.4h0M993.2 112.4h0M1042.1 311.6h0M1008.6 75.9h0M978.0 210.2h0M1131.7 259.4h0M1133.5 290.6h0M1069.4 300.0h0M1024.3 102.6h0M1025.8 313.1h0M1016.6 93.6h0M1075.8 340.7h0M1026.0 319.0h0M950.7 151.0h0M1061.9 103.9h0M1011.9 322.7h0M1051.9 93.6h0M1044.6 97.9h0M1046.7 87.7h0M1032.5 321.6h0M1163.5 58.4h0M1128.0 69.7h0M1148.0 56.2h0M997.9 180.8h0M1096.2 266.1h0M1029.6 301.8h0M1017.3 267.5h0M1062.0 106.7h0M1063.0 313.4h0M989.1 311.2h0M1134.4 66.8h0M1052.7 105.4h0M1018.4 105.7h0M1168.4 56.3h0M1019.5 242.4h0M1006.8 319.4h0M1011.8 314.2h0M1023.1 100.8h0M1028.5 327.0h0M1001.9 312.7h0M1061.8 101.2h0M1017.6 109.9h0M894.4 185.8h0M1007.4 319.0h0M1052.6 96.6h0M1021.9 87.7h0M1017.3 106.9h0M999.9 290.0h0M1052.6 101.5h0M1023.6 296.5h0M1014.8 304.2h0M1161.4 54.5h0M999.6 95.6h0M1021.2 313.5h0M1132.8 75.6h0M1045.5 323.0h0M1029.6 92.8h0M1028.5 107.5h0M1046.7 101.2h0M1046.9 291.5h0M1041.9 317.7h0M1051.3 307.5h0M1002.6 105.2h0M1025.5 101.0h0M989.5 332.7h0M1036.5 325.0h0M1033.4 289.0h0M1056.5 312.0h0M1031.4 98.6h0M1002.1 118.4h0M1020.3 94.2h0M1159.3 54.1h0M1013.9 303.7h0M1018.1 318.0h0M1034.2 118.0h0M1015.8 99.3h0M1167.1 53.9h0M1057.9 312.1h0" stroke="#eddd3b" stroke-width="4.1" stroke-linecap="round" stroke-opacity="0.88"/>
<path d="M1057.4 99.7h0M1023.1 304.8h0M989.8 309.9h0M1145.9 62.2h0M1068.5 265.5h0M1020.2 326.6h0M995.3 308.3h0M1046.8 105.4h0M1037.4 271.0h0M1019.7 109.4h0M1021.2 326.0h0M1025.9 110.3h0M1025.3 110.1h0M1024.7 108.0h0M1009.4 302.1h0M1057.8 297.9h0M1015.6 122.0h0M1126.9 73.7h0M1122.2 275.1h0M1008.0 305.3h0M1168.1 53.5h0M1083.5 264.9h0M1020.1 113.8h0M1127.6 71.1h0M1080.2 258.0h0M998.1 313.7h0M1059.7 261.2h0M1054.3 102.8h0M1044.6 324.5h0M1158.4 57.3h0M1061.0 88.3h0M1026.2 314.8h0M998.0 303.6h0M995.5 305.8h0M1020.4 330.3h0M1064.1 109.7h0M1034.4 303.8h0M1067.6 307.5h0M1050.6 304.5h0M1024.0 110.8h0M1031.9 302.2h0M1162.0 50.9h0M1010.3 106.0h0M1022.5 314.3h0M1032.8 331.1h0M1019.7 94.5h0M1138.4 268.0h0M1062.3 320.6h0M1020.9 93.7h0M1163.3 54.6h0M1062.2 105.5h0M1069.5 258.1h0M1022.7 320.5h0M1011.4 84.3h0M1044.0 293.4h0M1028.4 330.4h0M1068.6 259.7h0M1064.2 109.1h0M1047.3 296.3h0M1162.7 51.0h0M990.8 305.0h0M1058.1 301.3h0M1058.9 307.6h0M1041.1 109.4h0M1026.0 117.2h0M1021.3 314.4h0M1019.8 111.5h0M1058.7 310.6h0M1049.0 111.1h0M1065.2 110.5h0M1144.2 72.5h0M1037.5 301.6h0M1024.3 290.1h0M994.1 300.4h0M1050.3 323.3h0M1061.9 108.4h0M1040.9 112.3h0M1034.9 97.8h0M1050.6 307.8h0M1019.1 326.1h0M1023.6 257.4h0M1037.6 290.1h0M1161.3 53.3h0M989.3 301.8h0M1047.8 107.2h0M1037.8 302.8h0M1049.8 103.4h0M1167.0 55.9h0M1040.5 106.2h0M1067.5 301.0h0M1046.4 108.3h0M1022.6 294.4h0M1034.5 273.9h0M1015.7 312.7h0M1023.1 258.6h0M1078.0 261.5h0M1062.7 106.6h0" stroke="#f1ce38" stroke-width="4.1" stroke-linecap="round" stroke-opacity="0.88"/>
<path d="M1057.7 321.0h0M1032.7 305.8h0M1011.0 109.5h0M1003.0 326.7h0M1011.4 98.3h0M1026.6 116.5h0M1037.3 281.1h0M992.6 320.2h0M1052.5 310.7h0M1042.8 298.3h0M994.0 316.6h0M1002.0 121.7h0M1167.4 56.0h0M1048.0 103.1h0M1010.3 111.9h0M1017.2 300.6h0M1168.9 57.5h0M1024.6 97.6h0M1071.8 263.8h0M1031.8 311.8h0M1047.6 106.9h0M1047.9 289.5h0M1032.8 292.4h0M1010.2 105.1h0M1046.1 106.3h0M1024.8 111.8h0M1033.9 283.6h0M1039.1 290.2h0M1000.2 112.2h0M1041.3 118.0h0M1161.6 53.5h0M1055.8 299.8h0M1029.6 278.7h0M1027.8 324.2h0M1026.6 312.8h0M1059.6 114.3h0M1011.3 106.3h0M1009.1 104.5h0M1021.6 327.1h0M1000.6 117.3h0M1017.4 318.9h0M1163.2 59.7h0M996.7 316.0h0M1032.9 289.6h0M1168.1 52.7h0M1034.2 118.4h0M1150.2 53.1h0M1055.0 110.9h0M997.2 290.4h0M1045.7 323.1h0M1026.4 317.3h0M1002.0 323.4h0M1066.3 262.1h0M1005.9 277.0h0M1027.8 281.8h0M1148.2 60.9h0M1058.7 291.9h0M1053.5 306.4h0M898.5 206.9h0M1149.0 67.3h0M1052.2 108.2h0M1000.6 186.3h0M1051.8 296.2h0M1025.9 111.2h0M1040.2 104.2h0M1055.5 113.7h0M1052.8 297.5h0M1131.9 75.9h0M1047.3 99.7h0M891.0 153.9h0M1160.6 47.8h0M1038.2 274.2h0M1025.5 116.7h0M1061.6 261.3h0M1040.0 307.8h0M1062.6 267.9h0M1030.1 286.1h0M1030.1 320.2h0M1166.6 49.4h0M1010.4 115.0h0M1007.1 124.9h0M1011.3 308.3h0M1010.7 307.5h0M1016.6 317.9h0M1023.1 307.3h0M1023.5 260.5h0M1042.4 111.3h0M1025.4 252.9h0M1030.7 320.7h0M998.5 325.9h0M1039.4 110.1h0M1003.9 308.3h0M1047.1 321.5h0M1076.4 263.0h0M1039.7 306.5h0M1046.1 303.9h0M1031.3 302.8h0M998.5 308.4h0M1139.2 72.9h0M1028.4 284.9h0M1015.2 303.3h0M1050.0 295.8h0" stroke="#f5bf35" stroke-width="4.1" stroke-linecap="round" stroke-opacity="0.88"/>
<path d="M1027.4 254.4h0M1054.7 118.1h0M1032.9 113.2h0M1040.5 295.3h0M1026.1 307.0h0M1027.2 318.6h0M1030.1 306.5h0M1020.2 311.7h0M1023.5 251.6h0M995.0 306.0h0M1046.8 303.7h0M1161.0 60.9h0M1163.2 59.3h0M1011.0 116.5h0M1152.0 75.2h0M1066.6 289.9h0M1023.7 120.2h0M1041.6 113.2h0M1000.4 303.0h0M1152.5 68.9h0M1037.3 300.1h0M889.0 156.6h0M1040.7 115.9h0M1049.0 110.5h0M1011.4 119.4h0M893.7 151.2h0M1039.6 323.0h0M1056.8 316.4h0M1142.0 68.3h0M1045.6 312.6h0M1056.4 108.4h0M1167.6 57.1h0M1028.5 308.3h0M1021.7 251.4h0M1042.1 117.1h0M1031.0 318.5h0M1019.3 104.5h0M993.8 311.9h0M1013.2 115.0h0M1021.5 306.4h0M1161.7 62.4h0M1051.9 306.7h0M1044.4 314.1h0M998.9 312.2h0M1066.7 265.5h0M1021.7 307.1h0M1161.8 62.7h0M1046.5 109.0h0M1033.3 306.7h0M1167.1 63.4h0M1041.4 267.0h0M1057.3 323.5h0M1068.4 321.1h0M1167.5 65.6h0M1050.6 325.9h0M1061.9 303.8h0M1162.2 48.3h0M1142.3 69.2h0M1053.8 107.2h0M891.7 158.0h0M1034.8 300.1h0M1028.6 279.6h0M1072.8 259.3h0M1057.0 309.8h0M1005.2 323.3h0M986.6 318.5h0M1042.3 110.3h0M1052.1 304.9h0M1061.7 299.1h0M1001.8 282.9h0M1029.9 283.1h0M1034.5 320.4h0M999.7 307.7h0M1062.3 108.3h0M1025.4 291.2h0" stroke="#fab032" stroke-width="4.1" stroke-linecap="round" stroke-opacity="0.88"/>
<path d="M1054.4 118.7h0M1161.8 58.5h0M992.9 319.8h0M1048.4 296.1h0M1031.9 280.2h0M1002.4 301.6h0M1039.8 299.0h0M1033.0 328.5h0M1066.2 259.3h0M1141.7 73.8h0M988.0 151.0h0M1036.5 323.0h0M1139.7 74.3h0M1006.3 194.2h0M1163.1 60.4h0M1019.2 297.5h0M997.2 330.5h0M1063.6 316.0h0M1053.9 119.2h0M1032.2 245.8h0M1029.1 323.5h0M1049.7 322.0h0M1163.6 47.8h0M1000.2 286.9h0M1067.3 318.2h0M1011.7 119.0h0M1166.9 62.1h0M1031.8 303.1h0M987.4 148.2h0M1020.8 246.1h0M1015.5 304.7h0M1047.0 104.8h0M1043.2 314.0h0M1166.8 54.8h0M1033.7 320.2h0M1030.1 284.6h0M1039.5 267.9h0M993.4 312.0h0M1018.8 266.6h0M1032.9 277.8h0M993.8 319.5h0M1165.0 50.0h0M1041.5 296.4h0M1026.6 253.7h0M1036.3 278.5h0M1048.5 318.9h0M1023.9 319.0h0M1066.8 266.7h0M1136.5 46.7h0M1004.2 330.0h0M1003.8 113.1h0M1048.4 141.6h0M1165.9 74.7h0M1063.4 310.4h0M1166.8 65.4h0M1064.4 322.8h0M1001.3 281.8h0M1054.9 300.1h0M1018.8 264.7h0M1149.7 73.9h0M1026.4 247.8h0M1042.0 329.0h0M1054.1 108.7h0M1047.6 322.5h0M1048.8 303.8h0M1065.9 311.0h0M1026.1 239.4h0M1018.9 307.5h0M1034.1 303.7h0M1004.5 284.4h0M1018.4 142.5h0M1020.8 253.6h0M1019.3 195.2h0M1064.2 267.0h0M1021.6 318.7h0M1046.3 305.6h0M1151.1 71.1h0M1015.0 300.1h0M1028.1 327.3h0M1034.0 245.8h0M1020.6 297.5h0M1043.4 274.0h0" stroke="#f79a2f" stroke-width="4.1" stroke-linecap="round" stroke-opacity="0.88"/>
<path d="M1051.7 317.5h0M1063.7 266.5h0M1013.6 120.5h0M1162.6 51.7h0M1035.3 327.9h0M1053.2 320.0h0M1040.6 116.8h0M995.8 142.5h0M984.6 159.5h0M1003.8 328.7h0M1025.0 257.1h0M1051.1 317.8h0M1023.4 239.0h0M1000.6 311.5h0M1071.6 312.6h0M1020.7 312.0h0M991.1 218.2h0M1015.9 295.9h0M1046.2 273.3h0M1007.0 330.2h0M1028.6 244.2h0M1053.5 116.0h0M1041.8 269.8h0M1065.1 257.3h0M1019.8 258.2h0M1043.0 209.0h0M1074.1 113.2h0M1011.6 118.6h0M1031.0 319.4h0M1047.3 110.3h0M1149.8 69.6h0M1063.1 262.5h0M1030.6 278.0h0M1153.1 67.6h0M1035.0 314.9h0M1033.3 280.7h0M1032.9 284.2h0M1147.8 69.9h0M1167.2 55.7h0M1022.2 248.0h0M1032.1 330.9h0M1007.8 278.1h0M1043.8 313.7h0M1039.0 269.9h0M1055.8 118.5h0M1009.8 277.5h0M1010.1 318.0h0M1059.8 267.6h0M1064.5 308.1h0M1000.5 188.6h0M1060.3 265.1h0M1030.0 284.2h0M1029.4 324.8h0M1054.4 119.8h0M1018.2 263.4h0M1009.8 303.7h0M1016.2 307.2h0M1053.0 289.1h0M1064.3 259.3h0M1012.6 274.5h0M1035.5 244.7h0M1053.0 295.8h0M1029.4 285.4h0M1158.9 65.1h0M1031.2 311.8h0M1032.4 242.7h0" stroke="#f3822b" stroke-width="4.1" stroke-linecap="round" stroke-opacity="0.88"/>
<path d="M1152.1 66.4h0M1058.2 316.3h0M989.2 313.2h0M1014.4 298.4h0M1030.0 286.7h0M1053.2 289.1h0M1057.1 293.2h0M1149.3 70.6h0M1012.7 202.6h0M1017.0 285.7h0M1032.4 297.2h0M1151.8 80.8h0M993.3 300.7h0M995.3 315.9h0M1028.5 267.4h0M1037.6 274.8h0M1038.6 245.9h0M1018.3 318.4h0M1171.5 49.2h0M1005.8 291.1h0M1020.9 275.0h0M998.0 288.0h0M1033.0 329.8h0M1023.4 281.9h0M1061.0 256.9h0M1020.1 286.6h0M1016.8 207.7h0M1056.2 117.7h0M1007.6 199.1h0M1010.8 293.6h0M1001.0 189.5h0M1006.3 294.1h0M1169.5 47.4h0M1052.7 292.8h0M1056.9 317.4h0M1013.0 203.7h0M1051.6 316.6h0M1059.4 305.9h0M1160.4 65.9h0M1006.4 292.5h0M1174.4 60.6h0M1165.9 76.6h0M1006.7 295.0h0M1042.9 275.4h0M1173.2 50.3h0M1008.4 276.0h0M1045.1 272.8h0" stroke="#ef6a27" stroke-width="4.1" stroke-linecap="round" stroke-opacity="0.88"/>
<path d="M1162.5 65.5h0M1029.9 274.6h0M1069.7 305.2h0M1066.3 267.2h0M1025.6 264.6h0M1025.4 256.5h0M1031.0 324.7h0M1031.3 301.7h0M1009.6 122.3h0M1160.2 65.8h0M1009.4 292.1h0M1163.7 53.5h0M1006.5 297.7h0M989.7 308.6h0M1166.1 54.0h0M1060.5 261.0h0M1166.6 64.1h0M1014.3 279.8h0M1012.3 201.2h0M1052.6 270.0h0M1020.3 277.7h0M1020.9 280.3h0M1041.2 300.8h0M1025.6 245.4h0M1159.4 74.1h0M1173.5 59.4h0M1151.1 75.6h0M1036.8 298.2h0M1021.5 270.4h0M1001.0 290.6h0M1034.7 302.6h0M1163.1 72.5h0M1152.1 76.3h0M1017.3 293.5h0M1010.7 200.1h0M1026.5 323.8h0M1048.3 274.0h0M1024.4 244.2h0M1011.3 202.3h0M1014.4 308.1h0M1181.0 61.7h0M1015.8 294.2h0M1012.0 290.9h0M1173.2 60.0h0M1018.9 283.8h0M1158.1 72.5h0M1166.6 65.7h0M1015.4 280.0h0M1025.9 271.3h0M1061.2 310.0h0M1164.1 74.8h0M1159.1 64.7h0M1023.9 211.6h0M1012.5 209.1h0M1018.1 211.6h0M1012.2 288.9h0M1158.3 71.2h0M1011.0 203.9h0M1175.9 62.0h0M1173.9 56.7h0M1027.0 297.0h0M1019.8 255.8h0M1001.1 326.0h0M1024.9 263.8h0" stroke="#eb5223" stroke-width="4.1" stroke-linecap="round" stroke-opacity="0.88"/>
<path d="M1000.8 188.2h0M1032.4 273.9h0M1011.8 180.1h0M1172.9 51.9h0M1023.2 208.1h0M1046.6 267.5h0M1166.6 77.4h0M1180.6 60.9h0M1053.3 296.2h0M1011.9 287.8h0M1019.8 251.4h0M1166.3 77.1h0M1021.8 249.8h0M1008.1 282.1h0M1161.3 75.6h0M1166.7 66.3h0M1030.2 278.2h0M1011.4 202.0h0M1024.3 260.4h0M1176.1 61.5h0M1065.1 303.1h0M1011.3 205.1h0M1004.6 295.8h0M1163.8 70.2h0M1162.6 70.6h0M1046.1 304.5h0M1175.2 53.3h0M1180.7 50.6h0M997.4 306.2h0M1027.2 270.8h0M1158.1 77.6h0M1160.2 73.1h0M1006.7 323.8h0M1030.5 275.6h0M1012.8 283.9h0M1177.9 65.1h0M1016.8 271.2h0M1024.4 262.8h0M1031.6 273.2h0M1034.3 282.9h0M1158.9 74.5h0M1007.1 285.9h0M1022.1 269.3h0M1180.2 65.2h0M999.4 293.4h0M1029.2 271.6h0M1065.3 265.5h0M1154.4 76.0h0M1030.8 270.6h0M1006.0 284.7h0M1011.5 283.6h0M1026.9 259.3h0M1041.1 245.1h0M1022.5 210.5h0M1180.4 57.0h0M1151.0 72.4h0M1150.7 82.9h0M1165.9 66.6h0M1180.4 59.2h0M1019.5 284.1h0M1162.2 77.0h0M1029.6 273.5h0M1169.1 48.2h0M1033.7 243.3h0M1176.1 49.0h0M1061.2 263.9h0M1162.5 67.6h0M1172.8 53.1h0M1007.3 299.0h0M1006.8 293.9h0M1036.1 330.3h0M1043.8 268.5h0M1029.4 277.2h0" stroke="#e34622" stroke-width="4.1" stroke-linecap="round" stroke-opacity="0.88"/>
<path d="M1173.5 62.2h0M1175.6 68.5h0M990.1 314.1h0M1177.0 50.3h0M1032.6 270.3h0M1164.0 65.7h0M1018.9 290.8h0M1173.3 70.7h0M1043.5 315.1h0M1171.6 59.9h0M1018.9 292.5h0M1178.6 63.0h0M1174.2 69.8h0M1061.9 291.5h0M1048.4 227.1h0M1172.6 66.9h0M1023.0 273.5h0M1023.3 255.3h0M1007.0 137.0h0M1015.4 288.9h0M1005.2 136.0h0M1027.1 280.3h0M1178.7 70.6h0M1016.8 285.2h0M1018.8 210.2h0M1165.4 76.7h0M1152.4 76.5h0M1179.1 61.9h0M1180.4 64.2h0M1021.7 266.2h0M1166.7 65.6h0M945.1 151.9h0M1170.8 50.8h0M1019.5 270.1h0M1023.5 209.4h0M1175.2 50.1h0M1169.4 56.8h0M1167.2 77.8h0M1169.7 65.2h0M1167.7 76.4h0M1055.0 266.2h0M1020.6 205.1h0M889.0 146.5h0M1020.9 288.0h0M1174.3 65.9h0M1021.5 283.1h0M1040.6 268.2h0M1032.0 282.3h0M1052.5 264.9h0M1030.7 270.5h0M1038.4 222.3h0M1043.1 221.2h0M1004.0 288.2h0M1176.7 60.9h0M1173.5 53.8h0M1016.0 284.2h0M1172.0 59.0h0M1015.4 285.5h0M1044.6 217.5h0M983.6 214.4h0M1041.7 249.0h0" stroke="#db3b20" stroke-width="4.1" stroke-linecap="round" stroke-opacity="0.88"/>
<path d="M1174.8 55.1h0M1009.4 290.9h0M1160.8 77.8h0M1181.9 57.2h0M1181.8 49.0h0M886.0 164.1h0M1171.7 49.4h0M1022.2 264.0h0M1173.3 56.5h0M1019.0 268.3h0M1178.0 68.9h0M1022.5 280.1h0M1015.5 206.7h0M1176.1 57.1h0M1050.4 253.4h0M1016.3 290.8h0M1173.7 52.9h0M1021.1 210.6h0M1175.0 70.6h0M1177.7 49.2h0M1170.0 57.6h0M1173.2 53.0h0M1161.5 74.0h0M1049.6 263.6h0M1177.0 58.7h0M1040.4 262.7h0M1171.0 60.1h0M1175.8 68.9h0M1004.1 293.2h0M1056.2 260.7h0M1029.5 271.3h0M1025.9 266.7h0M1173.6 47.6h0M1160.3 64.7h0M1178.1 65.2h0M1001.3 297.1h0M1181.3 64.5h0M1015.7 282.1h0M1043.7 219.7h0M1176.6 65.3h0M1047.7 261.5h0M1034.0 249.2h0M1038.4 249.2h0" stroke="#d3301f" stroke-width="4.1" stroke-linecap="round" stroke-opacity="0.88"/>
<path d="M1039.3 271.9h0M1048.5 249.4h0M1028.2 266.2h0M1036.9 261.1h0M1039.0 248.5h0M1025.3 266.1h0M1037.2 242.1h0M1028.8 251.3h0M1013.4 295.9h0M1022.5 282.8h0M1038.1 251.3h0M1012.9 281.2h0M1035.5 249.5h0M1051.8 247.7h0M1034.6 246.4h0M1173.5 58.6h0M1052.2 257.0h0M1056.7 264.8h0M1047.6 261.1h0M1016.6 270.6h0M1160.6 72.9h0M1149.0 81.1h0M1030.7 261.3h0M1063.9 290.1h0M1052.2 256.5h0M1030.7 248.2h0M1178.9 53.5h0M1015.9 329.5h0M1038.1 258.8h0M1048.9 244.9h0M1169.8 52.9h0M1051.8 254.5h0M1021.9 207.9h0M1030.0 251.0h0M1044.5 263.4h0M1044.9 261.5h0M1032.9 254.2h0M1059.7 257.0h0M1050.0 265.6h0M1038.8 222.4h0M1042.6 247.3h0M1059.5 264.3h0M1045.4 254.0h0" stroke="#c5261e" stroke-width="4.1" stroke-linecap="round" stroke-opacity="0.88"/>
<path d="M1058.0 263.0h0M1045.7 248.9h0M1051.7 256.4h0M1039.2 263.3h0M1030.5 258.6h0M1047.6 258.2h0M1040.9 251.4h0M1036.1 251.9h0M1033.2 257.1h0M1038.8 246.7h0M1044.8 258.6h0M1048.6 258.6h0M1028.7 260.9h0M1029.7 248.5h0M1033.2 250.0h0M1042.1 262.4h0M1033.7 262.9h0M1038.7 218.9h0M1036.1 249.1h0M1041.8 258.9h0M1034.8 265.8h0M1036.8 261.8h0M1042.5 218.8h0" stroke="#aa211e" stroke-width="4.1" stroke-linecap="round" stroke-opacity="0.88"/>
<path d="M1053.8 253.7h0M1028.0 264.0h0M1040.8 262.9h0M1060.2 255.6h0M1039.2 247.3h0M1048.8 257.3h0M1059.9 261.1h0M1029.9 260.4h0M1054.9 256.3h0M1041.3 249.9h0M1046.0 264.0h0M1035.4 251.5h0M1050.8 253.2h0M1043.2 251.1h0M1054.5 256.0h0M1023.5 271.6h0M1050.7 257.6h0M1044.8 254.4h0M1048.8 257.8h0M1039.1 224.9h0M1048.6 263.4h0M1050.3 264.9h0M1034.2 260.9h0M1030.7 259.8h0" stroke="#8f1c1e" stroke-width="4.1" stroke-linecap="round" stroke-opacity="0.88"/>
<text x="674.5" y="41" font-size="47.5">B</text>
<text x="911.7" y="50.7" font-size="29.5" textLength="61.5" lengthAdjust="spacingAndGlyphs">CD9</text>
<defs><linearGradient id="cb" x1="0" y1="0" x2="0" y2="1"><stop offset="0" stop-color="#82191e"/><stop offset="0.07" stop-color="#cd281e"/><stop offset="0.16" stop-color="#eb5023"/><stop offset="0.26" stop-color="#faaf32"/><stop offset="0.35" stop-color="#ebe43c"/><stop offset="0.45" stop-color="#b9e15a"/><stop offset="0.55" stop-color="#82d7aa"/><stop offset="0.65" stop-color="#5ac8e1"/><stop offset="0.75" stop-color="#468cd2"/><stop offset="0.88" stop-color="#3e50b4"/><stop offset="1" stop-color="#302882"/></linearGradient></defs>
<rect x="807.2" y="253.1" width="22.8" height="110.5" fill="url(#cb)" stroke="none" stroke-width="1"/>
<text x="834.5" y="266.5" font-size="29.5" textLength="59.5" lengthAdjust="spacingAndGlyphs">0.98</text>
<text x="834.5" y="368" font-size="29.5" textLength="59.5" lengthAdjust="spacingAndGlyphs">0.02</text>
<text x="1233" y="40.4" font-size="47.5">D</text>
<text x="1467" y="50.6" font-size="28.5" textLength="270" lengthAdjust="spacingAndGlyphs">CD9 vs cluster9 sig</text>
<line x1="1319.7" y1="164.1" x2="1319.7" y2="361" stroke="#c9bfbf" stroke-width="1.5"/>
<line x1="1491.2" y1="164.1" x2="1491.2" y2="361" stroke="#c9bfbf" stroke-width="1.5"/>
<line x1="1561.2" y1="164.1" x2="1561.2" y2="361" stroke="#c9bfbf" stroke-width="1.5"/>
<line x1="1679.5" y1="164.1" x2="1679.5" y2="361" stroke="#c9bfbf" stroke-width="1.5"/>
<line x1="1683.2" y1="164.1" x2="1683.2" y2="361" stroke="#c9bfbf" stroke-width="1.5"/>
<line x1="1697.6" y1="164.1" x2="1697.6" y2="361" stroke="#c9bfbf" stroke-width="1.5"/>
<line x1="1719.8" y1="164.1" x2="1719.8" y2="361" stroke="#c9bfbf" stroke-width="1.5"/>
<line x1="1757.4" y1="164.1" x2="1757.4" y2="361" stroke="#c9bfbf" stroke-width="1.5"/>
<line x1="1741.7" y1="164.1" x2="1741.7" y2="361" stroke="#c9bfbf" stroke-width="1.5"/>
<line x1="1787.8" y1="164.1" x2="1787.8" y2="361" stroke="#c9bfbf" stroke-width="1.5"/>
<line x1="1783.8" y1="164.1" x2="1783.8" y2="361" stroke="#c9bfbf" stroke-width="1.5"/>
<line x1="1811" y1="164.1" x2="1811" y2="361" stroke="#c9bfbf" stroke-width="1.5"/>
<line x1="1829.8" y1="164.1" x2="1829.8" y2="361" stroke="#c9bfbf" stroke-width="1.5"/>
<line x1="1858" y1="164.1" x2="1858" y2="361" stroke="#c9bfbf" stroke-width="1.5"/>
<line x1="1646.1" y1="77" x2="1646.1" y2="361" stroke="#2a2020" stroke-width="1.5" stroke-dasharray="1.5,4.2"/>
<line x1="1371.9" y1="78.9" x2="1371.9" y2="362.2" stroke="#1a1010" stroke-width="2"/>
<line x1="1280" y1="361.2" x2="1922" y2="361.2" stroke="#1a1010" stroke-width="2"/>
<line x1="1359" y1="295.5" x2="1371.9" y2="295.5" stroke="#1a1010" stroke-width="2"/>
<text x="1357" y="306.4" font-size="30.5" text-anchor="end">1</text>
<line x1="1359" y1="229.8" x2="1371.9" y2="229.8" stroke="#1a1010" stroke-width="2"/>
<text x="1357" y="240.7" font-size="30.5" text-anchor="end">2</text>
<line x1="1359" y1="164.1" x2="1371.9" y2="164.1" stroke="#1a1010" stroke-width="2"/>
<text x="1357" y="175" font-size="30.5" text-anchor="end">3</text>
<line x1="1359" y1="98.4" x2="1371.9" y2="98.4" stroke="#1a1010" stroke-width="2"/>
<text x="1357" y="109.3" font-size="30.5" text-anchor="end">4</text>
<line x1="1371.9" y1="361.2" x2="1371.9" y2="374" stroke="#1a1010" stroke-width="2"/>
<text x="1371.9" y="397.6" font-size="24.3" text-anchor="middle">0.0</text>
<line x1="1554.87" y1="361.2" x2="1554.87" y2="374" stroke="#1a1010" stroke-width="2"/>
<text x="1554.87" y="397.6" font-size="24.3" text-anchor="middle">0.2</text>
<line x1="1737.83" y1="361.2" x2="1737.83" y2="374" stroke="#1a1010" stroke-width="2"/>
<text x="1737.83" y="397.6" font-size="24.3" text-anchor="middle">0.4</text>
<line x1="1920.8" y1="361.2" x2="1920.8" y2="374" stroke="#1a1010" stroke-width="2"/>
<text x="1920.8" y="397.6" font-size="24.3" text-anchor="middle">0.6</text>
<line x1="1646.35" y1="361.2" x2="1646.35" y2="374" stroke="#1a1010" stroke-width="2"/>
<text x="1501.3" y="428.7" font-size="30.5" textLength="306.2" lengthAdjust="spacingAndGlyphs">correlation coeffecient</text>
<text x="1408.5" y="222.5" font-size="28.5" text-anchor="middle" textLength="73" lengthAdjust="spacingAndGlyphs" transform="rotate(-90 1408.5 222.5)">-lg(P)</text>
<circle cx="1319.7" cy="164.1" r="10.1" fill="#c0c0c0" stroke="#111" stroke-width="2.5"/>
<circle cx="1491.2" cy="164.1" r="10.1" fill="#c0c0c0" stroke="#111" stroke-width="2.5"/>
<circle cx="1561.2" cy="164.1" r="10.1" fill="#c0c0c0" stroke="#111" stroke-width="2.5"/>
<circle cx="1679.5" cy="164.1" r="10.1" fill="#f58787" stroke="#111" stroke-width="2.5"/>
<circle cx="1683.2" cy="164.1" r="10.1" fill="#f58787" stroke="#111" stroke-width="2.5"/>
<circle cx="1697.6" cy="164.1" r="10.1" fill="#f58787" stroke="#111" stroke-width="2.5"/>
<circle cx="1719.8" cy="164.1" r="10.1" fill="#f58787" stroke="#111" stroke-width="2.5"/>
<circle cx="1757.4" cy="164.1" r="10.1" fill="#f58787" stroke="#111" stroke-width="2.5"/>
<circle cx="1741.7" cy="164.1" r="10.1" fill="#f58787" stroke="#111" stroke-width="2.5"/>
<circle cx="1787.8" cy="164.1" r="10.1" fill="#f58787" stroke="#111" stroke-width="2.5"/>
<circle cx="1783.8" cy="164.1" r="10.1" fill="#f58787" stroke="#111" stroke-width="2.5"/>
<circle cx="1811" cy="164.1" r="10.1" fill="#f58787" stroke="#111" stroke-width="2.5"/>
<circle cx="1829.8" cy="164.1" r="10.1" fill="#f58787" stroke="#111" stroke-width="2.5"/>
<circle cx="1858" cy="164.1" r="10.1" fill="#f58787" stroke="#111" stroke-width="2.5"/>
<text x="5" y="547" font-size="47.5">C</text>
<rect x="609.2" y="496.1" width="31.3" height="30.8" fill="#f8766d" stroke="none" stroke-width="1"/>
<text x="648.3" y="520.1" font-size="30.5" textLength="125.5" lengthAdjust="spacingAndGlyphs">CD9 high</text>
<rect x="810.1" y="496.1" width="30.8" height="30.8" fill="#3fc3c6" stroke="none" stroke-width="1"/>
<text x="853.7" y="520.1" font-size="30.5" textLength="114" lengthAdjust="spacingAndGlyphs">CD9 low</text>
<line x1="132.6" y1="545.9" x2="464.5" y2="545.9" stroke="#000" stroke-width="1.9"/>
<line x1="577" y1="545.9" x2="934.1" y2="545.9" stroke="#000" stroke-width="1.9"/>
<text x="485.3" y="557.4" font-size="29.5" textLength="69" lengthAdjust="spacingAndGlyphs">K562</text>
<line x1="120.6" y1="763.1" x2="440.5" y2="763.1" stroke="#000" stroke-width="1.9"/>
<line x1="628.2" y1="763.1" x2="935.4" y2="763.1" stroke="#000" stroke-width="1.9"/>
<text x="454.1" y="774.9" font-size="29.5" textLength="161" lengthAdjust="spacingAndGlyphs">MDAMB468</text>
<line x1="116.1" y1="584" x2="116.1" y2="719.6" stroke="#1a1010" stroke-width="2.1"/>
<line x1="105.7" y1="718.7" x2="964.9" y2="718.7" stroke="#1a1010" stroke-width="2.5"/>
<line x1="105.7" y1="584.8" x2="116.1" y2="584.8" stroke="#1a1010" stroke-width="2"/>
<text x="95.5" y="595.3" font-size="29.5" text-anchor="end">15</text>
<line x1="105.7" y1="618.2" x2="116.1" y2="618.2" stroke="#1a1010" stroke-width="2"/>
<text x="95.5" y="628.7" font-size="29.5" text-anchor="end">10</text>
<line x1="105.7" y1="651.9" x2="116.1" y2="651.9" stroke="#1a1010" stroke-width="2"/>
<text x="95.5" y="662.4" font-size="29.5" text-anchor="end">5</text>
<line x1="105.7" y1="685.3" x2="116.1" y2="685.3" stroke="#1a1010" stroke-width="2"/>
<text x="95.5" y="695.8" font-size="29.5" text-anchor="end">0</text>
<line x1="105.7" y1="718.7" x2="116.1" y2="718.7" stroke="#1a1010" stroke-width="2"/>
<text x="95.5" y="729.2" font-size="29.5" text-anchor="end">-5</text>
<line x1="117" y1="802" x2="117" y2="937.3" stroke="#1a1010" stroke-width="2.1"/>
<line x1="104" y1="936.3" x2="964.9" y2="936.3" stroke="#1a1010" stroke-width="2.5"/>
<line x1="104" y1="802.7" x2="117" y2="802.7" stroke="#1a1010" stroke-width="2"/>
<text x="95.5" y="813.2" font-size="29.5" text-anchor="end">10</text>
<line x1="104" y1="847.2" x2="117" y2="847.2" stroke="#1a1010" stroke-width="2"/>
<text x="95.5" y="857.7" font-size="29.5" text-anchor="end">5</text>
<line x1="104" y1="891.8" x2="117" y2="891.8" stroke="#1a1010" stroke-width="2"/>
<text x="95.5" y="902.3" font-size="29.5" text-anchor="end">0</text>
<line x1="104" y1="936.3" x2="117" y2="936.3" stroke="#1a1010" stroke-width="2"/>
<text x="95.5" y="946.8" font-size="29.5" text-anchor="end">-5</text>
<text x="50.2" y="727.2" font-size="30.5" text-anchor="middle" textLength="218.4" lengthAdjust="spacingAndGlyphs" transform="rotate(-90 50.2 727.2)">expression level</text>
<polygon points="166.4,592.53 167.4,596.7 168.4,605.05 168.91,611.73 173.92,615.07 180.6,620.08 184.77,625.09 188.11,630.1 190.62,636.78 191.12,643.47 189.78,646.81 188.95,651.82 187.28,656.83 185.61,663.51 182.27,668.52 175.59,675.2 171.41,678.54 170.58,683.55 166.4,687.72 166.4,687.72 162.22,683.55 161.39,678.54 157.21,675.2 150.53,668.52 147.19,663.51 145.52,656.83 143.85,651.82 143.02,646.81 141.68,643.47 142.18,636.78 144.69,630.1 148.03,625.09 152.2,620.08 158.88,615.07 163.89,611.73 164.4,605.05 165.4,596.7 166.4,592.53" fill="#f98581" stroke="none" stroke-width="1"/>
<line x1="143.05" y1="645.64" x2="189.75" y2="645.64" stroke="#000" stroke-width="2.5" stroke-dasharray="8.5,3.3"/>
<line x1="145.44" y1="632.11" x2="187.36" y2="632.11" stroke="#000" stroke-width="1.8" stroke-dasharray="1.6,3.5"/>
<line x1="147.61" y1="659.16" x2="185.19" y2="659.16" stroke="#000" stroke-width="1.8" stroke-dasharray="1.6,3.5"/>
<polygon points="242.2,600.04 242.27,601.71 242.34,666.85 243.04,670.19 244.71,675.2 252.22,680.21 260.57,686.89 267.25,693.24 262.24,696.91 250.55,703.59 244.71,708.6 242.2,713.61 242.2,713.61 239.69,708.6 233.85,703.59 222.16,696.91 217.15,693.24 223.83,686.89 232.18,680.21 239.69,675.2 241.36,670.19 242.06,666.85 242.13,601.71 242.2,600.04" fill="#a4e9d8" stroke="none" stroke-width="1"/>
<line x1="217.65" y1="693.24" x2="266.75" y2="693.24" stroke="#000" stroke-width="2.5" stroke-dasharray="8.5,3.3"/>
<line x1="224.45" y1="687.72" x2="259.95" y2="687.72" stroke="#000" stroke-width="1.8" stroke-dasharray="1.6,3.5"/>
<line x1="225.12" y1="697.75" x2="259.28" y2="697.75" stroke="#000" stroke-width="1.8" stroke-dasharray="1.6,3.5"/>
<polygon points="333.8,609.23 337.98,618.41 342.15,623.42 343.82,628.43 350.5,633.44 355.51,641.8 358.85,646.81 358.52,650.15 353.84,656.83 352.17,663.51 347.16,670.19 342.15,676.87 336.31,681.88 333.8,687.72 333.8,687.72 331.29,681.88 325.45,676.87 320.44,670.19 315.43,663.51 313.76,656.83 309.08,650.15 308.75,646.81 312.09,641.8 317.1,633.44 323.78,628.43 325.45,623.42 329.62,618.41 333.8,609.23" fill="#f98581" stroke="none" stroke-width="1"/>
<line x1="309.5" y1="649.31" x2="358.1" y2="649.31" stroke="#000" stroke-width="2.5" stroke-dasharray="8.5,3.3"/>
<line x1="315.39" y1="638.79" x2="352.21" y2="638.79" stroke="#000" stroke-width="1.8" stroke-dasharray="1.6,3.5"/>
<line x1="316.72" y1="662.67" x2="350.88" y2="662.67" stroke="#000" stroke-width="1.8" stroke-dasharray="1.6,3.5"/>
<polygon points="409.8,613.4 409.87,615.07 409.94,673.53 411.47,676.87 419.82,681.88 428.17,686.89 434.02,692.23 428.17,696.91 416.48,703.59 410.64,710.27 409.8,711.94 409.8,711.94 408.96,710.27 403.12,703.59 391.43,696.91 385.58,692.23 391.43,686.89 399.78,681.88 408.13,676.87 409.66,673.53 409.73,615.07 409.8,613.4" fill="#a4e9d8" stroke="none" stroke-width="1"/>
<line x1="386.08" y1="692.23" x2="433.52" y2="692.23" stroke="#000" stroke-width="2.5" stroke-dasharray="8.5,3.3"/>
<line x1="392.93" y1="686.89" x2="426.67" y2="686.89" stroke="#000" stroke-width="1.8" stroke-dasharray="1.6,3.5"/>
<line x1="392.51" y1="696.58" x2="427.09" y2="696.58" stroke="#000" stroke-width="1.8" stroke-dasharray="1.6,3.5"/>
<polygon points="505.4,589.19 507.91,596.7 509.58,603.38 509.58,610.06 515.42,615.07 520.43,620.08 521.27,625.09 521.27,630.1 526.28,636.78 530.45,645.14 527.11,650.15 525.44,658.5 522.1,665.18 515.42,671.86 508.74,680.21 505.4,686.05 505.4,686.05 502.06,680.21 495.38,671.86 488.7,665.18 485.36,658.5 483.69,650.15 480.35,645.14 484.52,636.78 489.53,630.1 489.53,625.09 490.37,620.08 495.38,615.07 501.22,610.06 501.22,603.38 502.89,596.7 505.4,589.19" fill="#f98581" stroke="none" stroke-width="1"/>
<line x1="481.18" y1="645.64" x2="529.62" y2="645.64" stroke="#000" stroke-width="2.5" stroke-dasharray="8.5,3.3"/>
<line x1="491.03" y1="629.77" x2="519.77" y2="629.77" stroke="#000" stroke-width="1.8" stroke-dasharray="1.6,3.5"/>
<line x1="487.03" y1="658.83" x2="523.77" y2="658.83" stroke="#000" stroke-width="1.8" stroke-dasharray="1.6,3.5"/>
<polygon points="581.1,596.7 581.17,598.37 581.24,660.17 581.94,663.51 584.44,673.53 591.12,680.21 599.47,686.89 605.32,692.73 602.81,696.91 592.79,703.59 584.44,710.27 581.1,715.28 581.1,715.28 577.76,710.27 569.41,703.59 559.39,696.91 556.88,692.73 562.73,686.89 571.08,680.21 577.76,673.53 580.26,663.51 580.96,660.17 581.03,598.37 581.1,596.7" fill="#a4e9d8" stroke="none" stroke-width="1"/>
<line x1="557.68" y1="693.24" x2="604.52" y2="693.24" stroke="#000" stroke-width="2.5" stroke-dasharray="8.5,3.3"/>
<line x1="562.56" y1="688.56" x2="599.64" y2="688.56" stroke="#000" stroke-width="1.8" stroke-dasharray="1.6,3.5"/>
<line x1="563.39" y1="698.58" x2="598.81" y2="698.58" stroke="#000" stroke-width="1.8" stroke-dasharray="1.6,3.5"/>
<polygon points="678.8,608.39 682.98,616.74 687.15,625.09 692.16,630.1 698.84,633.44 699.68,640.13 700.51,646.81 703.02,653.49 700.51,658.5 697.17,663.51 693.83,671.86 687.15,678.54 681.31,683.55 678.8,686.89 678.8,686.89 676.29,683.55 670.45,678.54 663.77,671.86 660.43,663.51 657.09,658.5 654.58,653.49 657.09,646.81 657.92,640.13 658.76,633.44 665.44,630.1 670.45,625.09 674.62,616.74 678.8,608.39" fill="#f98581" stroke="none" stroke-width="1"/>
<line x1="656.46" y1="649.81" x2="701.14" y2="649.81" stroke="#000" stroke-width="2.5" stroke-dasharray="8.5,3.3"/>
<line x1="659.78" y1="637.29" x2="697.82" y2="637.29" stroke="#000" stroke-width="1.8" stroke-dasharray="1.6,3.5"/>
<line x1="660.48" y1="661.34" x2="697.12" y2="661.34" stroke="#000" stroke-width="1.8" stroke-dasharray="1.6,3.5"/>
<polygon points="754.4,596.7 754.47,598.37 754.54,660.17 756.91,673.53 761.08,680.21 771.1,686.89 778.62,692.73 772.77,696.91 762.75,701.92 755.24,708.6 754.4,711.94 754.4,711.94 753.56,708.6 746.05,701.92 736.03,696.91 730.18,692.73 737.7,686.89 747.72,680.21 751.89,673.53 754.26,660.17 754.33,598.37 754.4,596.7" fill="#a4e9d8" stroke="none" stroke-width="1"/>
<line x1="730.92" y1="692.9" x2="777.88" y2="692.9" stroke="#000" stroke-width="2.5" stroke-dasharray="8.5,3.3"/>
<line x1="737.05" y1="688.56" x2="771.75" y2="688.56" stroke="#000" stroke-width="1.8" stroke-dasharray="1.6,3.5"/>
<line x1="737.06" y1="696.58" x2="771.74" y2="696.58" stroke="#000" stroke-width="1.8" stroke-dasharray="1.6,3.5"/>
<polygon points="849.8,607.25 850.74,612.88 853.56,617.58 860.13,622.28 870.47,626.97 873.29,630.73 872.35,634.49 870.94,641.07 871.88,645.76 874.23,651.4 873.29,657.98 871.41,664.55 866.71,669.25 861.07,673.95 855.44,678.65 851.21,683.34 849.8,686.63 849.8,686.63 848.39,683.34 844.16,678.65 838.53,673.95 832.89,669.25 828.19,664.55 826.31,657.98 825.37,651.4 827.72,645.76 828.66,641.07 827.25,634.49 826.31,630.73 829.13,626.97 839.47,622.28 846.04,617.58 848.86,612.88 849.8,607.25" fill="#f98581" stroke="none" stroke-width="1"/>
<line x1="826.66" y1="649.52" x2="872.94" y2="649.52" stroke="#000" stroke-width="2.5" stroke-dasharray="8.5,3.3"/>
<line x1="828.71" y1="634.3" x2="870.89" y2="634.3" stroke="#000" stroke-width="1.8" stroke-dasharray="1.6,3.5"/>
<line x1="828.89" y1="661.74" x2="870.71" y2="661.74" stroke="#000" stroke-width="1.8" stroke-dasharray="1.6,3.5"/>
<polygon points="925.7,600.67 925.78,601.61 925.83,669.25 927.58,673.95 931.34,678.65 939.79,683.34 946.37,688.04 950.6,692.27 947.31,695.56 939.79,700.26 931.34,704.95 927.11,709.65 925.7,712.47 925.7,712.47 924.29,709.65 920.06,704.95 911.61,700.26 904.09,695.56 900.8,692.27 905.03,688.04 911.61,683.34 920.06,678.65 923.82,673.95 925.57,669.25 925.62,601.61 925.7,600.67" fill="#a4e9d8" stroke="none" stroke-width="1"/>
<line x1="901.3" y1="692.27" x2="950.1" y2="692.27" stroke="#000" stroke-width="2.5" stroke-dasharray="8.5,3.3"/>
<line x1="907.19" y1="687.57" x2="944.21" y2="687.57" stroke="#000" stroke-width="1.8" stroke-dasharray="1.6,3.5"/>
<line x1="907.85" y1="696.97" x2="943.55" y2="696.97" stroke="#000" stroke-width="1.8" stroke-dasharray="1.6,3.5"/>
<polygon points="166.3,818.36 169.04,825.67 171.42,834.8 172.69,842.11 177.26,847.59 185.48,853.8 186.39,860.38 186.39,866.59 183.65,873.17 186.39,878.65 190.96,882.85 184.57,889.61 175.43,896.92 166.3,906.05 166.3,906.05 157.17,896.92 148.03,889.61 141.64,882.85 146.21,878.65 148.95,873.17 146.21,866.59 146.21,860.38 147.12,853.8 155.34,847.59 159.91,842.11 161.18,834.8 163.56,825.67 166.3,818.36" fill="#f98581" stroke="none" stroke-width="1"/>
<line x1="146.71" y1="866.59" x2="185.89" y2="866.59" stroke="#000" stroke-width="2.5" stroke-dasharray="8.5,3.3"/>
<line x1="148.62" y1="853.8" x2="183.98" y2="853.8" stroke="#000" stroke-width="1.8" stroke-dasharray="1.6,3.5"/>
<line x1="143.14" y1="882.85" x2="189.46" y2="882.85" stroke="#000" stroke-width="1.8" stroke-dasharray="1.6,3.5"/>
<polygon points="241.9,832.98 242,834.8 242.1,856.73 242.81,858.55 243.36,871.34 245.55,878.65 252.86,885.96 260.17,893.63 265.65,900.57 261.99,906.05 251.03,913.36 242.81,922.49 241.9,924.32 241.9,924.32 240.99,922.49 232.77,913.36 221.81,906.05 218.15,900.57 223.63,893.63 230.94,885.96 238.25,878.65 240.44,871.34 240.99,858.55 241.7,856.73 241.8,834.8 241.9,832.98" fill="#a4e9d8" stroke="none" stroke-width="1"/>
<line x1="218.65" y1="900.57" x2="265.15" y2="900.57" stroke="#000" stroke-width="2.5" stroke-dasharray="8.5,3.3"/>
<line x1="225.13" y1="893.63" x2="258.67" y2="893.63" stroke="#000" stroke-width="1.8" stroke-dasharray="1.6,3.5"/>
<line x1="223.31" y1="906.05" x2="260.49" y2="906.05" stroke="#000" stroke-width="1.8" stroke-dasharray="1.6,3.5"/>
<polygon points="333.5,806.49 339.89,816.54 348.11,827.5 358.16,838.82 351.77,847.59 349.94,855.81 349.94,864.03 351.77,871.34 352.68,877.73 349.94,889.61 342.63,898.74 333.5,909.7 333.5,909.7 324.37,898.74 317.06,889.61 314.32,877.73 315.23,871.34 317.06,864.03 317.06,855.81 315.23,847.59 308.84,838.82 318.89,827.5 327.11,816.54 333.5,806.49" fill="#f98581" stroke="none" stroke-width="1"/>
<line x1="317.56" y1="855.81" x2="349.44" y2="855.81" stroke="#000" stroke-width="2.5" stroke-dasharray="8.5,3.3"/>
<line x1="310.34" y1="838.82" x2="356.66" y2="838.82" stroke="#000" stroke-width="1.8" stroke-dasharray="1.6,3.5"/>
<line x1="315.82" y1="877.73" x2="351.18" y2="877.73" stroke="#000" stroke-width="1.8" stroke-dasharray="1.6,3.5"/>
<polygon points="409.6,820.19 409.7,822.02 409.8,862.21 411.43,871.34 415.99,882.3 422.39,889.61 427.87,895.09 434.26,901.67 429.69,907.88 416.91,918.84 409.6,929.8 409.6,929.8 402.29,918.84 389.51,907.88 384.94,901.67 391.33,895.09 396.81,889.61 403.21,882.3 407.77,871.34 409.4,862.21 409.5,822.02 409.6,820.19" fill="#a4e9d8" stroke="none" stroke-width="1"/>
<line x1="385.44" y1="901.67" x2="433.76" y2="901.67" stroke="#000" stroke-width="2.5" stroke-dasharray="8.5,3.3"/>
<line x1="392.83" y1="895.09" x2="426.37" y2="895.09" stroke="#000" stroke-width="1.8" stroke-dasharray="1.6,3.5"/>
<line x1="391.01" y1="907.88" x2="428.19" y2="907.88" stroke="#000" stroke-width="1.8" stroke-dasharray="1.6,3.5"/>
<polygon points="505.1,810.02 506.77,816.7 507.61,825.05 511.78,830.06 516.79,836.74 520.97,843.42 522.64,850.1 520.13,856.78 521.8,863.47 523.47,869.31 525.98,876.83 529.32,884.34 526.81,890.19 518.46,896.87 508.44,901.88 506.77,906.89 505.1,911.06 505.1,911.06 503.43,906.89 501.76,901.88 491.74,896.87 483.39,890.19 480.88,884.34 484.22,876.83 486.73,869.31 488.4,863.47 490.07,856.78 487.56,850.1 489.23,843.42 493.41,836.74 498.42,830.06 502.59,825.05 503.43,816.7 505.1,810.02" fill="#f98581" stroke="none" stroke-width="1"/>
<line x1="487.23" y1="869.31" x2="522.97" y2="869.31" stroke="#000" stroke-width="2.5" stroke-dasharray="8.5,3.3"/>
<line x1="489.06" y1="850.1" x2="521.14" y2="850.1" stroke="#000" stroke-width="1.8" stroke-dasharray="1.6,3.5"/>
<line x1="482.38" y1="884.34" x2="527.82" y2="884.34" stroke="#000" stroke-width="1.8" stroke-dasharray="1.6,3.5"/>
<polygon points="581.1,825.05 581.19,826.72 581.28,856.78 582.44,870.15 584.44,876.83 594.46,886.85 599.47,894.36 603.65,901.21 605.32,903.55 601.14,907.72 589.45,916.91 583.61,925.26 581.1,931.11 581.1,931.11 578.59,925.26 572.75,916.91 561.06,907.72 556.88,903.55 558.55,901.21 562.73,894.36 567.74,886.85 577.76,876.83 579.76,870.15 580.92,856.78 581.01,826.72 581.1,825.05" fill="#a4e9d8" stroke="none" stroke-width="1"/>
<line x1="559.05" y1="901.21" x2="603.15" y2="901.21" stroke="#000" stroke-width="2.5" stroke-dasharray="8.5,3.3"/>
<line x1="564.23" y1="894.36" x2="597.97" y2="894.36" stroke="#000" stroke-width="1.8" stroke-dasharray="1.6,3.5"/>
<line x1="562.56" y1="907.72" x2="599.64" y2="907.72" stroke="#000" stroke-width="1.8" stroke-dasharray="1.6,3.5"/>
<polygon points="678.8,828.39 683.81,836.74 692.16,846.76 700.51,857.29 697.17,863.47 691.33,871.82 698.84,878.5 703.02,884.34 698.84,890.19 687.15,898.54 682.14,903.55 678.8,908.56 678.8,908.56 675.46,903.55 670.45,898.54 658.76,890.19 654.58,884.34 658.76,878.5 666.27,871.82 660.43,863.47 657.09,857.29 665.44,846.76 673.79,836.74 678.8,828.39" fill="#f98581" stroke="none" stroke-width="1"/>
<line x1="666.77" y1="871.82" x2="690.83" y2="871.82" stroke="#000" stroke-width="2.5" stroke-dasharray="8.5,3.3"/>
<line x1="658.59" y1="857.29" x2="699.01" y2="857.29" stroke="#000" stroke-width="1.8" stroke-dasharray="1.6,3.5"/>
<line x1="656.08" y1="884.34" x2="701.52" y2="884.34" stroke="#000" stroke-width="1.8" stroke-dasharray="1.6,3.5"/>
<polygon points="754.4,808.35 754.49,810.02 754.58,856.78 756.07,876.83 759.41,886.85 767.76,893.53 772.77,898.54 777.78,904.89 776.11,910.23 766.09,916.91 756.91,926.93 754.4,933.61 754.4,933.61 751.89,926.93 742.71,916.91 732.69,910.23 731.02,904.89 736.03,898.54 741.04,893.53 749.39,886.85 752.73,876.83 754.22,856.78 754.31,810.02 754.4,808.35" fill="#a4e9d8" stroke="none" stroke-width="1"/>
<line x1="731.52" y1="904.89" x2="777.28" y2="904.89" stroke="#000" stroke-width="2.5" stroke-dasharray="8.5,3.3"/>
<line x1="737.53" y1="898.54" x2="771.27" y2="898.54" stroke="#000" stroke-width="1.8" stroke-dasharray="1.6,3.5"/>
<line x1="734.19" y1="910.23" x2="774.61" y2="910.23" stroke="#000" stroke-width="1.8" stroke-dasharray="1.6,3.5"/>
<polygon points="849.9,812.53 850.74,820.88 851.47,831.32 856.16,836.53 865.56,843.84 870.78,849.06 871.82,855.32 870.25,860.54 868.69,865.76 869.21,869.42 869.73,873.07 871.82,879.33 874.43,884.55 872.86,888.73 865.56,893.95 856.16,899.16 850.94,904.38 849.9,912.73 849.9,912.73 848.86,904.38 843.64,899.16 834.24,893.95 826.94,888.73 825.37,884.55 827.98,879.33 830.07,873.07 830.59,869.42 831.11,865.76 829.55,860.54 827.98,855.32 829.02,849.06 834.24,843.84 843.64,836.53 848.33,831.32 849.06,820.88 849.9,812.53" fill="#f98581" stroke="none" stroke-width="1"/>
<line x1="831.09" y1="869.42" x2="868.71" y2="869.42" stroke="#000" stroke-width="2.5" stroke-dasharray="8.5,3.3"/>
<line x1="829.48" y1="855.32" x2="870.32" y2="855.32" stroke="#000" stroke-width="1.8" stroke-dasharray="1.6,3.5"/>
<line x1="826.87" y1="884.55" x2="872.93" y2="884.55" stroke="#000" stroke-width="1.8" stroke-dasharray="1.6,3.5"/>
<polygon points="926.1,827.14 926.19,828.18 926.24,857.41 926.39,862.63 927.67,873.07 932.36,883.51 938.63,888.73 943.85,893.95 950.11,900.21 944.89,906.47 936.54,912.73 929.23,920.04 926.1,927.35 926.1,927.35 922.97,920.04 915.66,912.73 907.31,906.47 902.09,900.21 908.35,893.95 913.57,888.73 919.84,883.51 924.53,873.07 925.81,862.63 925.96,857.41 926.01,828.18 926.1,827.14" fill="#a4e9d8" stroke="none" stroke-width="1"/>
<line x1="902.59" y1="900.21" x2="949.61" y2="900.21" stroke="#000" stroke-width="2.5" stroke-dasharray="8.5,3.3"/>
<line x1="909.85" y1="893.95" x2="942.35" y2="893.95" stroke="#000" stroke-width="1.8" stroke-dasharray="1.6,3.5"/>
<line x1="908.81" y1="906.47" x2="943.39" y2="906.47" stroke="#000" stroke-width="1.8" stroke-dasharray="1.6,3.5"/>
<line x1="167.9" y1="584.8" x2="242.2" y2="584.8" stroke="#000" stroke-width="1.9"/>
<text x="204.8" y="589.2" font-size="34" text-anchor="middle">****</text>
<line x1="167.9" y1="804.6" x2="242.2" y2="804.6" stroke="#000" stroke-width="1.9"/>
<text x="204.8" y="809.3" font-size="34" text-anchor="middle">****</text>
<line x1="335.3" y1="584.8" x2="409.8" y2="584.8" stroke="#000" stroke-width="1.9"/>
<text x="372.3" y="589.2" font-size="34" text-anchor="middle">****</text>
<line x1="335.3" y1="804.6" x2="409.8" y2="804.6" stroke="#000" stroke-width="1.9"/>
<text x="372.3" y="809.3" font-size="34" text-anchor="middle">****</text>
<line x1="506.9" y1="584.8" x2="581.1" y2="584.8" stroke="#000" stroke-width="1.9"/>
<text x="543.75" y="589.2" font-size="34" text-anchor="middle">****</text>
<line x1="506.9" y1="804.6" x2="581.1" y2="804.6" stroke="#000" stroke-width="1.9"/>
<text x="543.75" y="809.3" font-size="34" text-anchor="middle">****</text>
<line x1="680.3" y1="584.8" x2="754.4" y2="584.8" stroke="#000" stroke-width="1.9"/>
<text x="717.1" y="589.2" font-size="34" text-anchor="middle">****</text>
<line x1="680.3" y1="804.6" x2="754.4" y2="804.6" stroke="#000" stroke-width="1.9"/>
<text x="717.1" y="809.3" font-size="34" text-anchor="middle">****</text>
<line x1="851.3" y1="584.8" x2="925.7" y2="584.8" stroke="#000" stroke-width="1.9"/>
<text x="888.25" y="589.2" font-size="34" text-anchor="middle">****</text>
<line x1="851.3" y1="804.6" x2="925.7" y2="804.6" stroke="#000" stroke-width="1.9"/>
<text x="888.25" y="809.3" font-size="34" text-anchor="middle">****</text>
<text x="122.3" y="977.3" font-size="30.5" textLength="140.5" lengthAdjust="spacingAndGlyphs">MA1123.2</text>
<text x="292.8" y="977.3" font-size="30.5" textLength="140.5" lengthAdjust="spacingAndGlyphs">MA0511.2</text>
<text x="466.5" y="977.3" font-size="30.5" textLength="140.5" lengthAdjust="spacingAndGlyphs">MA1558.1</text>
<text x="643.1" y="977.3" font-size="30.5" textLength="140.5" lengthAdjust="spacingAndGlyphs">MA0103.3</text>
<text x="816.6" y="977.3" font-size="30.5" textLength="140.5" lengthAdjust="spacingAndGlyphs">MA0143.4</text>
<text x="1069.5" y="546" font-size="47.5">E</text>
<text x="1513" y="560" font-size="28.5" textLength="59" lengthAdjust="spacingAndGlyphs">CD9</text>
<rect x="1121.3" y="579.9" width="393.8" height="330.3" fill="none" stroke="#111" stroke-width="1.6"/>
<line x1="1114" y1="898" x2="1121.3" y2="898" stroke="#111" stroke-width="1.5"/>
<text x="1104.5" y="898" font-size="20.5" text-anchor="middle" transform="rotate(-90 1104.5 898)">0.0</text>
<line x1="1114" y1="836.94" x2="1121.3" y2="836.94" stroke="#111" stroke-width="1.5"/>
<text x="1104.5" y="836.94" font-size="20.5" text-anchor="middle" transform="rotate(-90 1104.5 836.94)">0.2</text>
<line x1="1114" y1="775.88" x2="1121.3" y2="775.88" stroke="#111" stroke-width="1.5"/>
<text x="1104.5" y="775.88" font-size="20.5" text-anchor="middle" transform="rotate(-90 1104.5 775.88)">0.4</text>
<line x1="1114" y1="714.82" x2="1121.3" y2="714.82" stroke="#111" stroke-width="1.5"/>
<text x="1104.5" y="714.82" font-size="20.5" text-anchor="middle" transform="rotate(-90 1104.5 714.82)">0.6</text>
<line x1="1114" y1="653.76" x2="1121.3" y2="653.76" stroke="#111" stroke-width="1.5"/>
<text x="1104.5" y="653.76" font-size="20.5" text-anchor="middle" transform="rotate(-90 1104.5 653.76)">0.8</text>
<line x1="1114" y1="592.7" x2="1121.3" y2="592.7" stroke="#111" stroke-width="1.5"/>
<text x="1104.5" y="592.7" font-size="20.5" text-anchor="middle" transform="rotate(-90 1104.5 592.7)">1.0</text>
<line x1="1136.2" y1="910.2" x2="1136.2" y2="918.3" stroke="#111" stroke-width="1.5"/>
<text x="1136.2" y="936" font-size="18.5" text-anchor="middle">0</text>
<line x1="1259.26" y1="910.2" x2="1259.26" y2="918.3" stroke="#111" stroke-width="1.5"/>
<text x="1259.26" y="936" font-size="18.5" text-anchor="middle">50</text>
<line x1="1382.32" y1="910.2" x2="1382.32" y2="918.3" stroke="#111" stroke-width="1.5"/>
<text x="1382.32" y="936" font-size="18.5" text-anchor="middle">100</text>
<line x1="1505.38" y1="910.2" x2="1505.38" y2="918.3" stroke="#111" stroke-width="1.5"/>
<text x="1505.38" y="936" font-size="18.5" text-anchor="middle">150</text>
<text x="1075.3" y="740.5" font-size="29" text-anchor="middle" textLength="135.7" lengthAdjust="spacingAndGlyphs" transform="rotate(-90 1075.3 740.5)">Probability</text>
<polyline points="1136.24,592.09 1142.48,592.09 1142.48,600.23 1160.13,600.23 1160.13,604.84 1164.2,604.84 1164.2,608.91 1167.45,608.91 1167.45,614.34 1171.8,614.34 1171.8,619.77 1173.7,619.77 1173.7,623.84 1175.87,623.84 1175.87,628.73 1207.62,628.73 1207.62,643.65 1224.72,643.65 1224.72,650.98 1227.98,650.98 1227.98,657.77 1232.86,657.77 1232.86,661.3 1237.47,661.3 1237.47,665.91 1251.86,665.91 1251.86,671.34 1253.76,671.34 1253.76,677.58 1255.12,677.58 1255.12,688.98 1382.13,688.98 1382.13,718.83 1472.24,718.83" fill="none" stroke="#111" stroke-width="1.9" stroke-linejoin="miter"/>
<line x1="1241.55" y1="661.91" x2="1241.55" y2="669.91" stroke="#111" stroke-width="1.4"/>
<line x1="1248.33" y1="661.91" x2="1248.33" y2="669.91" stroke="#111" stroke-width="1.4"/>
<line x1="1252.4" y1="667.34" x2="1252.4" y2="675.34" stroke="#111" stroke-width="1.4"/>
<line x1="1260" y1="684.98" x2="1260" y2="692.98" stroke="#111" stroke-width="1.4"/>
<line x1="1269.5" y1="684.98" x2="1269.5" y2="692.98" stroke="#111" stroke-width="1.4"/>
<line x1="1271.4" y1="684.98" x2="1271.4" y2="692.98" stroke="#111" stroke-width="1.4"/>
<line x1="1276.83" y1="684.98" x2="1276.83" y2="692.98" stroke="#111" stroke-width="1.4"/>
<line x1="1290.94" y1="684.98" x2="1290.94" y2="692.98" stroke="#111" stroke-width="1.4"/>
<line x1="1310.75" y1="684.98" x2="1310.75" y2="692.98" stroke="#111" stroke-width="1.4"/>
<line x1="1322.97" y1="684.98" x2="1322.97" y2="692.98" stroke="#111" stroke-width="1.4"/>
<line x1="1340.61" y1="684.98" x2="1340.61" y2="692.98" stroke="#111" stroke-width="1.4"/>
<line x1="1347.39" y1="684.98" x2="1347.39" y2="692.98" stroke="#111" stroke-width="1.4"/>
<line x1="1358.25" y1="684.98" x2="1358.25" y2="692.98" stroke="#111" stroke-width="1.4"/>
<line x1="1360.42" y1="684.98" x2="1360.42" y2="692.98" stroke="#111" stroke-width="1.4"/>
<line x1="1366.39" y1="684.98" x2="1366.39" y2="692.98" stroke="#111" stroke-width="1.4"/>
<line x1="1378.06" y1="684.98" x2="1378.06" y2="692.98" stroke="#111" stroke-width="1.4"/>
<line x1="1381.32" y1="684.98" x2="1381.32" y2="692.98" stroke="#111" stroke-width="1.4"/>
<line x1="1404.39" y1="714.83" x2="1404.39" y2="722.83" stroke="#111" stroke-width="1.4"/>
<line x1="1408.46" y1="714.83" x2="1408.46" y2="722.83" stroke="#111" stroke-width="1.4"/>
<line x1="1431.53" y1="714.83" x2="1431.53" y2="722.83" stroke="#111" stroke-width="1.4"/>
<line x1="1433.43" y1="714.83" x2="1433.43" y2="722.83" stroke="#111" stroke-width="1.4"/>
<line x1="1461.38" y1="714.83" x2="1461.38" y2="722.83" stroke="#111" stroke-width="1.4"/>
<line x1="1468.16" y1="714.83" x2="1468.16" y2="722.83" stroke="#111" stroke-width="1.4"/>
<polyline points="1136.24,605.39 1138.41,605.39 1138.41,619.77 1160.13,619.77 1160.13,645.55 1162.3,645.55 1162.3,659.12 1168.27,659.12 1168.27,685.45 1177.77,685.45 1177.77,698.48 1192.69,698.48 1192.69,712.05 1194.05,712.05 1194.05,725.62 1202.19,725.62 1202.19,738.37 1230.69,738.37 1230.69,753.3 1274.11,753.3 1274.11,771.21 1308.04,771.21 1308.04,789.4 1372.36,789.4 1372.36,825.22 1373.99,825.22 1373.99,861.32 1501.55,861.32" fill="none" stroke="#f0401f" stroke-width="1.9" stroke-linejoin="miter"/>
<line x1="1229.33" y1="734.37" x2="1229.33" y2="742.37" stroke="#f0401f" stroke-width="1.4"/>
<line x1="1236.12" y1="749.3" x2="1236.12" y2="757.3" stroke="#f0401f" stroke-width="1.4"/>
<line x1="1259.19" y1="749.3" x2="1259.19" y2="757.3" stroke="#f0401f" stroke-width="1.4"/>
<line x1="1333.28" y1="785.4" x2="1333.28" y2="793.4" stroke="#f0401f" stroke-width="1.4"/>
<line x1="1337.89" y1="785.4" x2="1337.89" y2="793.4" stroke="#f0401f" stroke-width="1.4"/>
<line x1="1344.68" y1="785.4" x2="1344.68" y2="793.4" stroke="#f0401f" stroke-width="1.4"/>
<line x1="1500.73" y1="857.32" x2="1500.73" y2="865.32" stroke="#f0401f" stroke-width="1.4"/>
<text x="1183.2" y="615.7" font-size="30" textLength="327" lengthAdjust="spacingAndGlyphs">HR = 3.02 (1.47 − 6.23)</text>
<text x="1246.4" y="652.9" font-size="30" textLength="261.1" lengthAdjust="spacingAndGlyphs">logrank P = 0.0017</text>
<text x="1139.8" y="835.5" font-size="30" textLength="153.3" lengthAdjust="spacingAndGlyphs">Expression</text>
<line x1="1145.2" y1="855.9" x2="1177.8" y2="855.9" stroke="#111" stroke-width="1.6"/>
<text x="1192.7" y="866.7" font-size="30" textLength="44.8" lengthAdjust="spacingAndGlyphs">low</text>
<line x1="1145.2" y1="883.8" x2="1177.8" y2="883.8" stroke="#f0401f" stroke-width="1.6"/>
<text x="1192.7" y="893.9" font-size="30" textLength="57" lengthAdjust="spacingAndGlyphs">high</text>
<text x="1346" y="895.2" font-size="30" textLength="154.7" lengthAdjust="spacingAndGlyphs">Basal n=65</text>
<rect x="1568.6" y="581.9" width="394.6" height="330.2" fill="none" stroke="#111" stroke-width="1.6"/>
<line x1="1561.8" y1="899.2" x2="1568.6" y2="899.2" stroke="#111" stroke-width="1.5"/>
<text x="1554.1" y="899.2" font-size="20.5" text-anchor="middle" transform="rotate(-90 1554.1 899.2)">0.0</text>
<line x1="1561.8" y1="838.1" x2="1568.6" y2="838.1" stroke="#111" stroke-width="1.5"/>
<text x="1554.1" y="838.1" font-size="20.5" text-anchor="middle" transform="rotate(-90 1554.1 838.1)">0.2</text>
<line x1="1561.8" y1="777" x2="1568.6" y2="777" stroke="#111" stroke-width="1.5"/>
<text x="1554.1" y="777" font-size="20.5" text-anchor="middle" transform="rotate(-90 1554.1 777)">0.4</text>
<line x1="1561.8" y1="715.9" x2="1568.6" y2="715.9" stroke="#111" stroke-width="1.5"/>
<text x="1554.1" y="715.9" font-size="20.5" text-anchor="middle" transform="rotate(-90 1554.1 715.9)">0.6</text>
<line x1="1561.8" y1="654.8" x2="1568.6" y2="654.8" stroke="#111" stroke-width="1.5"/>
<text x="1554.1" y="654.8" font-size="20.5" text-anchor="middle" transform="rotate(-90 1554.1 654.8)">0.8</text>
<line x1="1561.8" y1="593.7" x2="1568.6" y2="593.7" stroke="#111" stroke-width="1.5"/>
<text x="1554.1" y="593.7" font-size="20.5" text-anchor="middle" transform="rotate(-90 1554.1 593.7)">1.0</text>
<line x1="1584.3" y1="912.1" x2="1584.3" y2="920" stroke="#111" stroke-width="1.5"/>
<text x="1584.3" y="937.6" font-size="18.5" text-anchor="middle">0</text>
<line x1="1655.2" y1="912.1" x2="1655.2" y2="920" stroke="#111" stroke-width="1.5"/>
<text x="1655.2" y="937.6" font-size="18.5" text-anchor="middle">50</text>
<line x1="1726.1" y1="912.1" x2="1726.1" y2="920" stroke="#111" stroke-width="1.5"/>
<text x="1726.1" y="937.6" font-size="18.5" text-anchor="middle">100</text>
<line x1="1797" y1="912.1" x2="1797" y2="920" stroke="#111" stroke-width="1.5"/>
<text x="1797" y="937.6" font-size="18.5" text-anchor="middle">150</text>
<line x1="1867.9" y1="912.1" x2="1867.9" y2="920" stroke="#111" stroke-width="1.5"/>
<text x="1867.9" y="937.6" font-size="18.5" text-anchor="middle">200</text>
<line x1="1938.8" y1="912.1" x2="1938.8" y2="920" stroke="#111" stroke-width="1.5"/>
<text x="1938.8" y="937.6" font-size="18.5" text-anchor="middle">250</text>
<polyline points="1584.26,593.71 1619.89,593.71 1619.89,600.56 1624,600.56 1624,607.41 1629.48,607.41 1629.48,615.09 1643.18,615.09 1643.18,619.75 1645.92,619.75 1645.92,623.86 1648.66,623.86 1648.66,630.16 1655.51,630.16 1655.51,637.01 1724.01,637.01 1724.01,640.3 1725.38,640.3 1725.38,644.41 1729.49,644.41 1729.49,649.34 1764.56,649.34 1764.56,676.74 1899.38,676.74" fill="none" stroke="#111" stroke-width="1.9" stroke-linejoin="miter"/>
<line x1="1644.55" y1="615.75" x2="1644.55" y2="623.75" stroke="#111" stroke-width="1.4"/>
<line x1="1669.21" y1="633.01" x2="1669.21" y2="641.01" stroke="#111" stroke-width="1.4"/>
<line x1="1694.69" y1="633.01" x2="1694.69" y2="641.01" stroke="#111" stroke-width="1.4"/>
<line x1="1699.35" y1="633.01" x2="1699.35" y2="641.01" stroke="#111" stroke-width="1.4"/>
<line x1="1706.2" y1="633.01" x2="1706.2" y2="641.01" stroke="#111" stroke-width="1.4"/>
<line x1="1711.68" y1="633.01" x2="1711.68" y2="641.01" stroke="#111" stroke-width="1.4"/>
<line x1="1718.53" y1="633.01" x2="1718.53" y2="641.01" stroke="#111" stroke-width="1.4"/>
<line x1="1721.27" y1="633.01" x2="1721.27" y2="641.01" stroke="#111" stroke-width="1.4"/>
<line x1="1722.64" y1="633.01" x2="1722.64" y2="641.01" stroke="#111" stroke-width="1.4"/>
<line x1="1734.97" y1="645.34" x2="1734.97" y2="653.34" stroke="#111" stroke-width="1.4"/>
<line x1="1743.19" y1="645.34" x2="1743.19" y2="653.34" stroke="#111" stroke-width="1.4"/>
<line x1="1747.3" y1="645.34" x2="1747.3" y2="653.34" stroke="#111" stroke-width="1.4"/>
<line x1="1751.41" y1="645.34" x2="1751.41" y2="653.34" stroke="#111" stroke-width="1.4"/>
<line x1="1756.34" y1="645.34" x2="1756.34" y2="653.34" stroke="#111" stroke-width="1.4"/>
<line x1="1758.26" y1="645.34" x2="1758.26" y2="653.34" stroke="#111" stroke-width="1.4"/>
<line x1="1774.15" y1="672.74" x2="1774.15" y2="680.74" stroke="#111" stroke-width="1.4"/>
<line x1="1800.18" y1="672.74" x2="1800.18" y2="680.74" stroke="#111" stroke-width="1.4"/>
<line x1="1802.1" y1="672.74" x2="1802.1" y2="680.74" stroke="#111" stroke-width="1.4"/>
<line x1="1847.31" y1="672.74" x2="1847.31" y2="680.74" stroke="#111" stroke-width="1.4"/>
<line x1="1852.79" y1="672.74" x2="1852.79" y2="680.74" stroke="#111" stroke-width="1.4"/>
<line x1="1897.46" y1="672.74" x2="1897.46" y2="680.74" stroke="#111" stroke-width="1.4"/>
<polyline points="1584.26,593.71 1597.97,593.71 1597.97,600.56 1602.08,600.56 1602.08,606.04 1608.38,606.04 1608.38,610.15 1611.67,610.15 1611.67,622.49 1617.15,622.49 1617.15,629.34 1621.26,629.34 1621.26,644.41 1625.37,644.41 1625.37,649.89 1630.85,649.89 1630.85,660.85 1636.33,660.85 1636.33,668.52 1647.84,668.52 1647.84,671.81 1651.4,671.81 1651.4,677.29 1655.51,677.29 1655.51,686.88 1659.62,686.88 1659.62,692.36 1666.47,692.36 1666.47,699.21 1671.95,699.21 1671.95,703.32 1677.43,703.32 1677.43,706.88 1688.39,706.88 1688.39,708.8 1691.13,708.8 1691.13,710.99 1794.7,710.99 1794.7,713.46 1797.99,713.46 1797.99,721.13 1948.7,721.13" fill="none" stroke="#f0401f" stroke-width="1.9" stroke-linejoin="miter"/>
<line x1="1608.38" y1="606.15" x2="1608.38" y2="614.15" stroke="#f0401f" stroke-width="1.4"/>
<line x1="1659.62" y1="688.36" x2="1659.62" y2="696.36" stroke="#f0401f" stroke-width="1.4"/>
<line x1="1660.99" y1="688.36" x2="1660.99" y2="696.36" stroke="#f0401f" stroke-width="1.4"/>
<line x1="1670.58" y1="695.21" x2="1670.58" y2="703.21" stroke="#f0401f" stroke-width="1.4"/>
<line x1="1689.76" y1="704.8" x2="1689.76" y2="712.8" stroke="#f0401f" stroke-width="1.4"/>
<line x1="1691.13" y1="706.99" x2="1691.13" y2="714.99" stroke="#f0401f" stroke-width="1.4"/>
<line x1="1693.87" y1="706.99" x2="1693.87" y2="714.99" stroke="#f0401f" stroke-width="1.4"/>
<line x1="1696.61" y1="706.99" x2="1696.61" y2="714.99" stroke="#f0401f" stroke-width="1.4"/>
<line x1="1699.35" y1="706.99" x2="1699.35" y2="714.99" stroke="#f0401f" stroke-width="1.4"/>
<line x1="1704.83" y1="706.99" x2="1704.83" y2="714.99" stroke="#f0401f" stroke-width="1.4"/>
<line x1="1710.31" y1="706.99" x2="1710.31" y2="714.99" stroke="#f0401f" stroke-width="1.4"/>
<line x1="1721.27" y1="706.99" x2="1721.27" y2="714.99" stroke="#f0401f" stroke-width="1.4"/>
<line x1="1729.49" y1="706.99" x2="1729.49" y2="714.99" stroke="#f0401f" stroke-width="1.4"/>
<line x1="1736.34" y1="706.99" x2="1736.34" y2="714.99" stroke="#f0401f" stroke-width="1.4"/>
<line x1="1741.82" y1="706.99" x2="1741.82" y2="714.99" stroke="#f0401f" stroke-width="1.4"/>
<line x1="1751.41" y1="706.99" x2="1751.41" y2="714.99" stroke="#f0401f" stroke-width="1.4"/>
<line x1="1759.63" y1="706.99" x2="1759.63" y2="714.99" stroke="#f0401f" stroke-width="1.4"/>
<line x1="1762.37" y1="706.99" x2="1762.37" y2="714.99" stroke="#f0401f" stroke-width="1.4"/>
<line x1="1765.11" y1="706.99" x2="1765.11" y2="714.99" stroke="#f0401f" stroke-width="1.4"/>
<line x1="1767.85" y1="706.99" x2="1767.85" y2="714.99" stroke="#f0401f" stroke-width="1.4"/>
<line x1="1778.81" y1="706.99" x2="1778.81" y2="714.99" stroke="#f0401f" stroke-width="1.4"/>
<line x1="1799.36" y1="717.13" x2="1799.36" y2="725.13" stroke="#f0401f" stroke-width="1.4"/>
<line x1="1804.84" y1="717.13" x2="1804.84" y2="725.13" stroke="#f0401f" stroke-width="1.4"/>
<line x1="1817.17" y1="717.13" x2="1817.17" y2="725.13" stroke="#f0401f" stroke-width="1.4"/>
<line x1="1824.02" y1="717.13" x2="1824.02" y2="725.13" stroke="#f0401f" stroke-width="1.4"/>
<line x1="1833.61" y1="717.13" x2="1833.61" y2="725.13" stroke="#f0401f" stroke-width="1.4"/>
<line x1="1844.57" y1="717.13" x2="1844.57" y2="725.13" stroke="#f0401f" stroke-width="1.4"/>
<line x1="1855.54" y1="717.13" x2="1855.54" y2="725.13" stroke="#f0401f" stroke-width="1.4"/>
<line x1="1858.28" y1="717.13" x2="1858.28" y2="725.13" stroke="#f0401f" stroke-width="1.4"/>
<line x1="1863.76" y1="717.13" x2="1863.76" y2="725.13" stroke="#f0401f" stroke-width="1.4"/>
<line x1="1866.5" y1="717.13" x2="1866.5" y2="725.13" stroke="#f0401f" stroke-width="1.4"/>
<line x1="1899.38" y1="717.13" x2="1899.38" y2="725.13" stroke="#f0401f" stroke-width="1.4"/>
<line x1="1915.82" y1="717.13" x2="1915.82" y2="725.13" stroke="#f0401f" stroke-width="1.4"/>
<line x1="1948.7" y1="717.13" x2="1948.7" y2="725.13" stroke="#f0401f" stroke-width="1.4"/>
<text x="1617.7" y="758.1" font-size="30" textLength="328.3" lengthAdjust="spacingAndGlyphs">HR = 2.37 (1.09 − 5.16)</text>
<text x="1700.7" y="792.4" font-size="30" textLength="243.9" lengthAdjust="spacingAndGlyphs">logrank P = 0.024</text>
<text x="1580.2" y="839" font-size="30" textLength="153.4" lengthAdjust="spacingAndGlyphs">Expression</text>
<line x1="1585.6" y1="859.5" x2="1617.1" y2="859.5" stroke="#111" stroke-width="1.6"/>
<text x="1632.2" y="870.5" font-size="30" textLength="44.8" lengthAdjust="spacingAndGlyphs">low</text>
<line x1="1585.6" y1="887.5" x2="1617.1" y2="887.5" stroke="#f0401f" stroke-width="1.6"/>
<text x="1632.2" y="897.9" font-size="30" textLength="57" lengthAdjust="spacingAndGlyphs">high</text>
<text x="1778.8" y="899.2" font-size="30" textLength="174" lengthAdjust="spacingAndGlyphs">Basal n=126</text>
<text x="10.5" y="1038.9" font-size="47.5">F</text>
<line x1="149.2" y1="1075.7" x2="149.2" y2="1375" stroke="#1a1010" stroke-width="2"/>
<line x1="134.2" y1="1374" x2="446.5" y2="1374" stroke="#1a1010" stroke-width="2"/>
<line x1="134.2" y1="1075.7" x2="149.2" y2="1075.7" stroke="#1a1010" stroke-width="2"/>
<text x="0" y="0" font-size="29.5" transform="translate(131.5 1086.2) scale(1 1.11)" text-anchor="end">3</text>
<line x1="134.2" y1="1175.3" x2="149.2" y2="1175.3" stroke="#1a1010" stroke-width="2"/>
<text x="0" y="0" font-size="29.5" transform="translate(131.5 1185.8) scale(1 1.11)" text-anchor="end">2</text>
<line x1="134.2" y1="1274.5" x2="149.2" y2="1274.5" stroke="#1a1010" stroke-width="2"/>
<text x="0" y="0" font-size="29.5" transform="translate(131.5 1285) scale(1 1.11)" text-anchor="end">1</text>
<line x1="134.2" y1="1374" x2="149.2" y2="1374" stroke="#1a1010" stroke-width="2"/>
<text x="0" y="0" font-size="29.5" transform="translate(131.5 1384.5) scale(1 1.11)" text-anchor="end">0</text>
<line x1="149.2" y1="1374" x2="149.2" y2="1386.5" stroke="#1a1010" stroke-width="2"/>
<text x="0" y="0" font-size="29.5" transform="translate(149.2 1418.3) scale(1 1.11)" text-anchor="middle">0</text>
<line x1="297.6" y1="1374" x2="297.6" y2="1386.5" stroke="#1a1010" stroke-width="2"/>
<text x="0" y="0" font-size="29.5" transform="translate(297.6 1418.3) scale(1 1.11)" text-anchor="middle">5</text>
<line x1="446.5" y1="1374" x2="446.5" y2="1386.5" stroke="#1a1010" stroke-width="2"/>
<text x="0" y="0" font-size="29.5" transform="translate(446.5 1418.3) scale(1 1.11)" text-anchor="middle">10</text>
<text x="0" y="0" font-size="30" transform="translate(297.8 1465.6) scale(1 1.11)" text-anchor="middle">days</text>
<text x="0" y="0" font-size="30.5" transform="translate(94 1224.9) rotate(-90) scale(1 1.11)" text-anchor="middle" textLength="330.7" lengthAdjust="spacingAndGlyphs">Relative stemness score</text>
<polyline points="149.2,1274.9 267.6,1143 387.1,1142.2 446.5,1124.2" fill="none" stroke="#f7921f" stroke-width="1.8"/>
<line x1="149.2" y1="1266" x2="149.2" y2="1284" stroke="#f7921f" stroke-width="1.8"/>
<line x1="143.7" y1="1266" x2="154.7" y2="1266" stroke="#f7921f" stroke-width="1.8"/>
<line x1="143.7" y1="1284" x2="154.7" y2="1284" stroke="#f7921f" stroke-width="1.8"/>
<line x1="267.6" y1="1131" x2="267.6" y2="1153.5" stroke="#f7921f" stroke-width="1.8"/>
<line x1="262.1" y1="1131" x2="273.1" y2="1131" stroke="#f7921f" stroke-width="1.8"/>
<line x1="262.1" y1="1153.5" x2="273.1" y2="1153.5" stroke="#f7921f" stroke-width="1.8"/>
<line x1="387.1" y1="1124.5" x2="387.1" y2="1159" stroke="#f7921f" stroke-width="1.8"/>
<line x1="381.6" y1="1124.5" x2="392.6" y2="1124.5" stroke="#f7921f" stroke-width="1.8"/>
<line x1="381.6" y1="1159" x2="392.6" y2="1159" stroke="#f7921f" stroke-width="1.8"/>
<line x1="446.5" y1="1106.5" x2="446.5" y2="1141" stroke="#f7921f" stroke-width="1.8"/>
<line x1="441" y1="1106.5" x2="452" y2="1106.5" stroke="#f7921f" stroke-width="1.8"/>
<line x1="441" y1="1141" x2="452" y2="1141" stroke="#f7921f" stroke-width="1.8"/>
<rect x="143.45" y="1269.15" width="11.5" height="11.5" fill="#f7921f" stroke="none" stroke-width="1"/>
<rect x="261.85" y="1137.25" width="11.5" height="11.5" fill="#f7921f" stroke="none" stroke-width="1"/>
<rect x="381.35" y="1136.45" width="11.5" height="11.5" fill="#f7921f" stroke="none" stroke-width="1"/>
<rect x="440.75" y="1118.45" width="11.5" height="11.5" fill="#f7921f" stroke="none" stroke-width="1"/>
<polyline points="149.2,1296.3 267.6,1147.8 387.1,1191.8 446.5,1218.1" fill="none" stroke="#33923a" stroke-width="1.8"/>
<line x1="149.2" y1="1266.2" x2="149.2" y2="1324.5" stroke="#33923a" stroke-width="1.8"/>
<line x1="143.7" y1="1266.2" x2="154.7" y2="1266.2" stroke="#33923a" stroke-width="1.8"/>
<line x1="143.7" y1="1324.5" x2="154.7" y2="1324.5" stroke="#33923a" stroke-width="1.8"/>
<line x1="267.6" y1="1140" x2="267.6" y2="1155" stroke="#33923a" stroke-width="1.8"/>
<line x1="262.1" y1="1140" x2="273.1" y2="1140" stroke="#33923a" stroke-width="1.8"/>
<line x1="262.1" y1="1155" x2="273.1" y2="1155" stroke="#33923a" stroke-width="1.8"/>
<line x1="387.1" y1="1176.8" x2="387.1" y2="1206" stroke="#33923a" stroke-width="1.8"/>
<line x1="381.6" y1="1176.8" x2="392.6" y2="1176.8" stroke="#33923a" stroke-width="1.8"/>
<line x1="381.6" y1="1206" x2="392.6" y2="1206" stroke="#33923a" stroke-width="1.8"/>
<line x1="446.5" y1="1205" x2="446.5" y2="1231" stroke="#33923a" stroke-width="1.8"/>
<line x1="441" y1="1205" x2="452" y2="1205" stroke="#33923a" stroke-width="1.8"/>
<line x1="441" y1="1231" x2="452" y2="1231" stroke="#33923a" stroke-width="1.8"/>
<circle cx="149.2" cy="1296.3" r="5.75" fill="#33923a" stroke="none" stroke-width="1"/>
<circle cx="267.6" cy="1147.8" r="5.75" fill="#33923a" stroke="none" stroke-width="1"/>
<circle cx="387.1" cy="1191.8" r="5.75" fill="#33923a" stroke="none" stroke-width="1"/>
<circle cx="446.5" cy="1218.1" r="5.75" fill="#33923a" stroke="none" stroke-width="1"/>
<line x1="496" y1="1165.9" x2="529" y2="1165.9" stroke="#33923a" stroke-width="1.8"/>
<circle cx="512.2" cy="1165.9" r="5.75" fill="#33923a" stroke="none" stroke-width="1"/>
<text x="0" y="0" font-size="30" transform="translate(548.7 1176.8) scale(1 1.11)" textLength="167.3" lengthAdjust="spacingAndGlyphs">shCON_JQ1</text>
<line x1="496" y1="1200.5" x2="529" y2="1200.5" stroke="#f7921f" stroke-width="1.8"/>
<rect x="506.7" y="1195" width="11" height="11" fill="#f7921f" stroke="none" stroke-width="1"/>
<text x="0" y="0" font-size="30" transform="translate(548.7 1211.4) scale(1 1.11)" textLength="167.3" lengthAdjust="spacingAndGlyphs">shCD9_JQ1</text>
<text x="677" y="1038.9" font-size="47.5">G</text>
<line x1="836.6" y1="1065.2" x2="836.6" y2="1364.9" stroke="#1a1010" stroke-width="2"/>
<line x1="821.6" y1="1363.9" x2="1134.3" y2="1363.9" stroke="#1a1010" stroke-width="2"/>
<line x1="821.6" y1="1065.9" x2="836.6" y2="1065.9" stroke="#1a1010" stroke-width="2"/>
<text x="0" y="0" font-size="29.5" transform="translate(818.5 1076.4) scale(1 1.11)" text-anchor="end">15</text>
<line x1="821.6" y1="1165.1" x2="836.6" y2="1165.1" stroke="#1a1010" stroke-width="2"/>
<text x="0" y="0" font-size="29.5" transform="translate(818.5 1175.6) scale(1 1.11)" text-anchor="end">10</text>
<line x1="821.6" y1="1264.3" x2="836.6" y2="1264.3" stroke="#1a1010" stroke-width="2"/>
<text x="0" y="0" font-size="29.5" transform="translate(818.5 1274.8) scale(1 1.11)" text-anchor="end">5</text>
<line x1="821.6" y1="1363.9" x2="836.6" y2="1363.9" stroke="#1a1010" stroke-width="2"/>
<text x="0" y="0" font-size="29.5" transform="translate(818.5 1374.4) scale(1 1.11)" text-anchor="end">0</text>
<line x1="836.6" y1="1363.9" x2="836.6" y2="1376.4" stroke="#1a1010" stroke-width="2"/>
<text x="0" y="0" font-size="29.5" transform="translate(836.6 1409) scale(1 1.11)" text-anchor="middle">0</text>
<line x1="985.4" y1="1363.9" x2="985.4" y2="1376.4" stroke="#1a1010" stroke-width="2"/>
<text x="0" y="0" font-size="29.5" transform="translate(985.4 1409) scale(1 1.11)" text-anchor="middle">5</text>
<line x1="1134.3" y1="1363.9" x2="1134.3" y2="1376.4" stroke="#1a1010" stroke-width="2"/>
<text x="0" y="0" font-size="29.5" transform="translate(1134.3 1409) scale(1 1.11)" text-anchor="middle">10</text>
<text x="0" y="0" font-size="30" transform="translate(985.4 1465.6) scale(1 1.11)" text-anchor="middle">days</text>
<text x="0" y="0" font-size="30.5" transform="translate(763.3 1219.3) rotate(-90) scale(1 1.11)" text-anchor="middle" textLength="330.7" lengthAdjust="spacingAndGlyphs">Relative stemness score</text>
<polyline points="836.6,1343.3 956.1,1124.2 1074.5,1145.2 1134.3,1079.4" fill="none" stroke="#ea4a2c" stroke-width="1.8"/>
<line x1="956.1" y1="1117.8" x2="956.1" y2="1129.5" stroke="#ea4a2c" stroke-width="1.8"/>
<line x1="950.6" y1="1117.8" x2="961.6" y2="1117.8" stroke="#ea4a2c" stroke-width="1.8"/>
<line x1="950.6" y1="1129.5" x2="961.6" y2="1129.5" stroke="#ea4a2c" stroke-width="1.8"/>
<line x1="1074.5" y1="1136.6" x2="1074.5" y2="1153.5" stroke="#ea4a2c" stroke-width="1.8"/>
<line x1="1069" y1="1136.6" x2="1080" y2="1136.6" stroke="#ea4a2c" stroke-width="1.8"/>
<line x1="1069" y1="1153.5" x2="1080" y2="1153.5" stroke="#ea4a2c" stroke-width="1.8"/>
<polygon points="836.6,1338.8 841.1,1343.3 836.6,1347.8 832.1,1343.3" fill="#ea4a2c" stroke="none" stroke-width="1"/>
<polygon points="956.1,1119.7 960.6,1124.2 956.1,1128.7 951.6,1124.2" fill="#ea4a2c" stroke="none" stroke-width="1"/>
<polygon points="1074.5,1140.7 1079,1145.2 1074.5,1149.7 1070,1145.2" fill="#ea4a2c" stroke="none" stroke-width="1"/>
<polygon points="1134.3,1074.9 1138.8,1079.4 1134.3,1083.9 1129.8,1079.4" fill="#ea4a2c" stroke="none" stroke-width="1"/>
<polyline points="836.6,1342 956.1,1255 1074.5,1247.4 1134.3,1154.2" fill="none" stroke="#4a90d8" stroke-width="1.8"/>
<line x1="956.1" y1="1249.3" x2="956.1" y2="1263.6" stroke="#4a90d8" stroke-width="1.8"/>
<line x1="950.6" y1="1249.3" x2="961.6" y2="1249.3" stroke="#4a90d8" stroke-width="1.8"/>
<line x1="950.6" y1="1263.6" x2="961.6" y2="1263.6" stroke="#4a90d8" stroke-width="1.8"/>
<line x1="1074.5" y1="1238" x2="1074.5" y2="1258" stroke="#4a90d8" stroke-width="1.8"/>
<line x1="1069" y1="1238" x2="1080" y2="1238" stroke="#4a90d8" stroke-width="1.8"/>
<line x1="1069" y1="1258" x2="1080" y2="1258" stroke="#4a90d8" stroke-width="1.8"/>
<polygon points="836.6,1348.05 842.65,1337.38 830.55,1337.38" fill="#4a90d8" stroke="none" stroke-width="1"/>
<polygon points="956.1,1261.05 962.15,1250.38 950.05,1250.38" fill="#4a90d8" stroke="none" stroke-width="1"/>
<polygon points="1074.5,1253.45 1080.55,1242.78 1068.45,1242.78" fill="#4a90d8" stroke="none" stroke-width="1"/>
<polygon points="1134.3,1160.25 1140.35,1149.58 1128.25,1149.58" fill="#4a90d8" stroke="none" stroke-width="1"/>
<polyline points="836.6,1343.3 956.1,1161 1074.5,1183.5 1134.3,1211.7" fill="none" stroke="#33923a" stroke-width="1.8"/>
<line x1="956.1" y1="1149" x2="956.1" y2="1173" stroke="#33923a" stroke-width="1.8"/>
<line x1="950.6" y1="1149" x2="961.6" y2="1149" stroke="#33923a" stroke-width="1.8"/>
<line x1="950.6" y1="1173" x2="961.6" y2="1173" stroke="#33923a" stroke-width="1.8"/>
<circle cx="836.6" cy="1343.3" r="5.75" fill="#33923a" stroke="none" stroke-width="1"/>
<circle cx="956.1" cy="1161" r="5.75" fill="#33923a" stroke="none" stroke-width="1"/>
<circle cx="1074.5" cy="1183.5" r="5.75" fill="#33923a" stroke="none" stroke-width="1"/>
<circle cx="1134.3" cy="1211.7" r="5.75" fill="#33923a" stroke="none" stroke-width="1"/>
<line x1="1163.6" y1="1133.9" x2="1188" y2="1133.9" stroke="#33923a" stroke-width="1.8"/>
<circle cx="1175.8" cy="1133.9" r="5.5" fill="#33923a" stroke="none" stroke-width="1"/>
<text x="0" y="0" font-size="30" transform="translate(1203.8 1144.1) scale(1 1.11)" textLength="51" lengthAdjust="spacingAndGlyphs">JQ1</text>
<line x1="1163.6" y1="1183.5" x2="1188" y2="1183.5" stroke="#4a90d8" stroke-width="1.8"/>
<polygon points="1175.8,1189 1181.3,1179.3 1170.3,1179.3" fill="#4a90d8" stroke="none" stroke-width="1"/>
<text x="0" y="0" font-size="30" transform="translate(1203.8 1193.7) scale(1 1.11)" textLength="77" lengthAdjust="spacingAndGlyphs">aCD9</text>
<line x1="1163.6" y1="1232.4" x2="1188" y2="1232.4" stroke="#ea4a2c" stroke-width="1.8"/>
<polygon points="1175.8,1228.15 1180.05,1232.4 1175.8,1236.65 1171.55,1232.4" fill="#ea4a2c" stroke="none" stroke-width="1"/>
<text x="0" y="0" font-size="30" transform="translate(1203.8 1242.6) scale(1 1.11)" textLength="147.7" lengthAdjust="spacingAndGlyphs">aCD9_JQ1</text>
<text x="1351.8" y="1038.9" font-size="47.5">H</text>
<text x="0" y="0" font-size="29.5" transform="translate(1575 1052.6) scale(1 1.11)" textLength="118.8" lengthAdjust="spacingAndGlyphs">SUM149</text>
<line x1="1485.2" y1="1055.8" x2="1485.2" y2="1354.3" stroke="#1a1010" stroke-width="2"/>
<line x1="1470.7" y1="1353.3" x2="1783" y2="1353.3" stroke="#1a1010" stroke-width="2"/>
<line x1="1470.2" y1="1081.5" x2="1485.2" y2="1081.5" stroke="#1a1010" stroke-width="2"/>
<text x="0" y="0" font-size="29.5" transform="translate(1469 1092) scale(1 1.11)" text-anchor="end">100</text>
<line x1="1470.2" y1="1217.3" x2="1485.2" y2="1217.3" stroke="#1a1010" stroke-width="2"/>
<text x="0" y="0" font-size="29.5" transform="translate(1469 1227.8) scale(1 1.11)" text-anchor="end">50</text>
<line x1="1470.2" y1="1353.3" x2="1485.2" y2="1353.3" stroke="#1a1010" stroke-width="2"/>
<text x="0" y="0" font-size="29.5" transform="translate(1469 1363.8) scale(1 1.11)" text-anchor="end">0</text>
<line x1="1555.8" y1="1353.3" x2="1555.8" y2="1366.3" stroke="#1a1010" stroke-width="2"/>
<text x="0" y="0" font-size="29.5" transform="translate(1555.8 1400.9) scale(1 1.11)" text-anchor="middle">100</text>
<line x1="1689.7" y1="1353.3" x2="1689.7" y2="1366.3" stroke="#1a1010" stroke-width="2"/>
<text x="0" y="0" font-size="29.5" transform="translate(1689.7 1400.9) scale(1 1.11)" text-anchor="middle">1000</text>
<text x="0" y="0" font-size="30" transform="translate(1551 1452.2) scale(1 1.11)" textLength="125.2" lengthAdjust="spacingAndGlyphs">JQ1 (nM)</text>
<text x="0" y="0" font-size="30" transform="translate(1408.8 1194.6) rotate(-90) scale(1 1.11)" text-anchor="middle" textLength="223.2" lengthAdjust="spacingAndGlyphs">Cell Viability (%)</text>
<polyline points="1499.6,1112 1541.4,1128.7 1580.8,1150.5 1621.6,1179.4 1661.1,1201.8 1702.5,1216.3 1742,1224.3" fill="none" stroke="#f5951f" stroke-width="1.8"/>
<line x1="1499.6" y1="1102" x2="1499.6" y2="1120" stroke="#f5951f" stroke-width="1.8"/>
<line x1="1494.1" y1="1102" x2="1505.1" y2="1102" stroke="#f5951f" stroke-width="1.8"/>
<line x1="1494.1" y1="1120" x2="1505.1" y2="1120" stroke="#f5951f" stroke-width="1.8"/>
<line x1="1541.4" y1="1124" x2="1541.4" y2="1134" stroke="#f5951f" stroke-width="1.8"/>
<line x1="1535.9" y1="1124" x2="1546.9" y2="1124" stroke="#f5951f" stroke-width="1.8"/>
<line x1="1535.9" y1="1134" x2="1546.9" y2="1134" stroke="#f5951f" stroke-width="1.8"/>
<line x1="1580.8" y1="1140.9" x2="1580.8" y2="1161.7" stroke="#f5951f" stroke-width="1.8"/>
<line x1="1575.3" y1="1140.9" x2="1586.3" y2="1140.9" stroke="#f5951f" stroke-width="1.8"/>
<line x1="1575.3" y1="1161.7" x2="1586.3" y2="1161.7" stroke="#f5951f" stroke-width="1.8"/>
<line x1="1621.6" y1="1175" x2="1621.6" y2="1184" stroke="#f5951f" stroke-width="1.8"/>
<line x1="1616.1" y1="1175" x2="1627.1" y2="1175" stroke="#f5951f" stroke-width="1.8"/>
<line x1="1616.1" y1="1184" x2="1627.1" y2="1184" stroke="#f5951f" stroke-width="1.8"/>
<line x1="1661.1" y1="1198" x2="1661.1" y2="1206" stroke="#f5951f" stroke-width="1.8"/>
<line x1="1655.6" y1="1198" x2="1666.6" y2="1198" stroke="#f5951f" stroke-width="1.8"/>
<line x1="1655.6" y1="1206" x2="1666.6" y2="1206" stroke="#f5951f" stroke-width="1.8"/>
<line x1="1702.5" y1="1212" x2="1702.5" y2="1220" stroke="#f5951f" stroke-width="1.8"/>
<line x1="1697" y1="1212" x2="1708" y2="1212" stroke="#f5951f" stroke-width="1.8"/>
<line x1="1697" y1="1220" x2="1708" y2="1220" stroke="#f5951f" stroke-width="1.8"/>
<line x1="1742" y1="1220" x2="1742" y2="1229" stroke="#f5951f" stroke-width="1.8"/>
<line x1="1736.5" y1="1220" x2="1747.5" y2="1220" stroke="#f5951f" stroke-width="1.8"/>
<line x1="1736.5" y1="1229" x2="1747.5" y2="1229" stroke="#f5951f" stroke-width="1.8"/>
<polygon points="1499.6,1118.88 1506.47,1106.75 1492.72,1106.75" fill="#f5951f" stroke="none" stroke-width="1"/>
<polygon points="1541.4,1135.58 1548.28,1123.45 1534.53,1123.45" fill="#f5951f" stroke="none" stroke-width="1"/>
<polygon points="1580.8,1157.38 1587.67,1145.25 1573.92,1145.25" fill="#f5951f" stroke="none" stroke-width="1"/>
<polygon points="1621.6,1186.28 1628.47,1174.15 1614.72,1174.15" fill="#f5951f" stroke="none" stroke-width="1"/>
<polygon points="1661.1,1208.67 1667.97,1196.55 1654.22,1196.55" fill="#f5951f" stroke="none" stroke-width="1"/>
<polygon points="1702.5,1223.17 1709.38,1211.05 1695.62,1211.05" fill="#f5951f" stroke="none" stroke-width="1"/>
<polygon points="1742,1231.17 1748.88,1219.05 1735.12,1219.05" fill="#f5951f" stroke="none" stroke-width="1"/>
<polyline points="1499.6,1141.8 1541.4,1182.6 1580.8,1235.6 1621.6,1243.6 1661.1,1276.6 1702.5,1283.7 1742,1286.9" fill="none" stroke="#f5951f" stroke-width="1.8"/>
<line x1="1499.6" y1="1130" x2="1499.6" y2="1152" stroke="#f5951f" stroke-width="1.8"/>
<line x1="1494.1" y1="1130" x2="1505.1" y2="1130" stroke="#f5951f" stroke-width="1.8"/>
<line x1="1494.1" y1="1152" x2="1505.1" y2="1152" stroke="#f5951f" stroke-width="1.8"/>
<line x1="1541.4" y1="1173" x2="1541.4" y2="1190.6" stroke="#f5951f" stroke-width="1.8"/>
<line x1="1535.9" y1="1173" x2="1546.9" y2="1173" stroke="#f5951f" stroke-width="1.8"/>
<line x1="1535.9" y1="1190.6" x2="1546.9" y2="1190.6" stroke="#f5951f" stroke-width="1.8"/>
<line x1="1580.8" y1="1221.1" x2="1580.8" y2="1246.8" stroke="#f5951f" stroke-width="1.8"/>
<line x1="1575.3" y1="1221.1" x2="1586.3" y2="1221.1" stroke="#f5951f" stroke-width="1.8"/>
<line x1="1575.3" y1="1246.8" x2="1586.3" y2="1246.8" stroke="#f5951f" stroke-width="1.8"/>
<line x1="1621.6" y1="1237" x2="1621.6" y2="1251" stroke="#f5951f" stroke-width="1.8"/>
<line x1="1616.1" y1="1237" x2="1627.1" y2="1237" stroke="#f5951f" stroke-width="1.8"/>
<line x1="1616.1" y1="1251" x2="1627.1" y2="1251" stroke="#f5951f" stroke-width="1.8"/>
<line x1="1661.1" y1="1269" x2="1661.1" y2="1281" stroke="#f5951f" stroke-width="1.8"/>
<line x1="1655.6" y1="1269" x2="1666.6" y2="1269" stroke="#f5951f" stroke-width="1.8"/>
<line x1="1655.6" y1="1281" x2="1666.6" y2="1281" stroke="#f5951f" stroke-width="1.8"/>
<line x1="1702.5" y1="1280" x2="1702.5" y2="1289" stroke="#f5951f" stroke-width="1.8"/>
<line x1="1697" y1="1280" x2="1708" y2="1280" stroke="#f5951f" stroke-width="1.8"/>
<line x1="1697" y1="1289" x2="1708" y2="1289" stroke="#f5951f" stroke-width="1.8"/>
<line x1="1742" y1="1282" x2="1742" y2="1292" stroke="#f5951f" stroke-width="1.8"/>
<line x1="1736.5" y1="1282" x2="1747.5" y2="1282" stroke="#f5951f" stroke-width="1.8"/>
<line x1="1736.5" y1="1292" x2="1747.5" y2="1292" stroke="#f5951f" stroke-width="1.8"/>
<polygon points="1499.6,1134.92 1506.47,1147.05 1492.72,1147.05" fill="#f5951f" stroke="none" stroke-width="1"/>
<polygon points="1541.4,1175.72 1548.28,1187.85 1534.53,1187.85" fill="#f5951f" stroke="none" stroke-width="1"/>
<polygon points="1580.8,1228.72 1587.67,1240.85 1573.92,1240.85" fill="#f5951f" stroke="none" stroke-width="1"/>
<polygon points="1621.6,1236.72 1628.47,1248.85 1614.72,1248.85" fill="#f5951f" stroke="none" stroke-width="1"/>
<polygon points="1661.1,1269.72 1667.97,1281.85 1654.22,1281.85" fill="#f5951f" stroke="none" stroke-width="1"/>
<polygon points="1702.5,1276.83 1709.38,1288.95 1695.62,1288.95" fill="#f5951f" stroke="none" stroke-width="1"/>
<polygon points="1742,1280.03 1748.88,1292.15 1735.12,1292.15" fill="#f5951f" stroke="none" stroke-width="1"/>
<polyline points="1499.6,1141.8 1541.4,1157.6 1580.8,1197.7 1621.6,1223.4 1661.1,1246.8 1702.5,1266.7 1742,1270.2" fill="none" stroke="#f5951f" stroke-width="1.8"/>
<line x1="1499.6" y1="1103.3" x2="1499.6" y2="1171.4" stroke="#f5951f" stroke-width="1.8"/>
<line x1="1494.1" y1="1103.3" x2="1505.1" y2="1103.3" stroke="#f5951f" stroke-width="1.8"/>
<line x1="1494.1" y1="1171.4" x2="1505.1" y2="1171.4" stroke="#f5951f" stroke-width="1.8"/>
<line x1="1541.4" y1="1133" x2="1541.4" y2="1183" stroke="#f5951f" stroke-width="1.8"/>
<line x1="1535.9" y1="1133" x2="1546.9" y2="1133" stroke="#f5951f" stroke-width="1.8"/>
<line x1="1535.9" y1="1183" x2="1546.9" y2="1183" stroke="#f5951f" stroke-width="1.8"/>
<line x1="1580.8" y1="1181" x2="1580.8" y2="1211.5" stroke="#f5951f" stroke-width="1.8"/>
<line x1="1575.3" y1="1181" x2="1586.3" y2="1181" stroke="#f5951f" stroke-width="1.8"/>
<line x1="1575.3" y1="1211.5" x2="1586.3" y2="1211.5" stroke="#f5951f" stroke-width="1.8"/>
<line x1="1621.6" y1="1209.2" x2="1621.6" y2="1237.2" stroke="#f5951f" stroke-width="1.8"/>
<line x1="1616.1" y1="1209.2" x2="1627.1" y2="1209.2" stroke="#f5951f" stroke-width="1.8"/>
<line x1="1616.1" y1="1237.2" x2="1627.1" y2="1237.2" stroke="#f5951f" stroke-width="1.8"/>
<line x1="1661.1" y1="1238.8" x2="1661.1" y2="1254.8" stroke="#f5951f" stroke-width="1.8"/>
<line x1="1655.6" y1="1238.8" x2="1666.6" y2="1238.8" stroke="#f5951f" stroke-width="1.8"/>
<line x1="1655.6" y1="1254.8" x2="1666.6" y2="1254.8" stroke="#f5951f" stroke-width="1.8"/>
<line x1="1702.5" y1="1253.8" x2="1702.5" y2="1278.9" stroke="#f5951f" stroke-width="1.8"/>
<line x1="1697" y1="1253.8" x2="1708" y2="1253.8" stroke="#f5951f" stroke-width="1.8"/>
<line x1="1697" y1="1278.9" x2="1708" y2="1278.9" stroke="#f5951f" stroke-width="1.8"/>
<line x1="1742" y1="1258" x2="1742" y2="1282.1" stroke="#f5951f" stroke-width="1.8"/>
<line x1="1736.5" y1="1258" x2="1747.5" y2="1258" stroke="#f5951f" stroke-width="1.8"/>
<line x1="1736.5" y1="1282.1" x2="1747.5" y2="1282.1" stroke="#f5951f" stroke-width="1.8"/>
<rect x="1493.35" y="1135.55" width="12.5" height="12.5" fill="#f5951f" stroke="none" stroke-width="1"/>
<rect x="1535.15" y="1151.35" width="12.5" height="12.5" fill="#f5951f" stroke="none" stroke-width="1"/>
<rect x="1574.55" y="1191.45" width="12.5" height="12.5" fill="#f5951f" stroke="none" stroke-width="1"/>
<rect x="1615.35" y="1217.15" width="12.5" height="12.5" fill="#f5951f" stroke="none" stroke-width="1"/>
<rect x="1654.85" y="1240.55" width="12.5" height="12.5" fill="#f5951f" stroke="none" stroke-width="1"/>
<rect x="1696.25" y="1260.45" width="12.5" height="12.5" fill="#f5951f" stroke="none" stroke-width="1"/>
<rect x="1735.75" y="1263.95" width="12.5" height="12.5" fill="#f5951f" stroke="none" stroke-width="1"/>
<polyline points="1499.6,1087.9 1541.4,1092.1 1580.8,1113.6 1621.6,1132.8 1661.1,1139.3 1702.5,1155.3 1742,1162.7" fill="none" stroke="#33923a" stroke-width="1.8"/>
<line x1="1541.4" y1="1082.4" x2="1541.4" y2="1100.7" stroke="#33923a" stroke-width="1.8"/>
<line x1="1535.9" y1="1082.4" x2="1546.9" y2="1082.4" stroke="#33923a" stroke-width="1.8"/>
<line x1="1535.9" y1="1100.7" x2="1546.9" y2="1100.7" stroke="#33923a" stroke-width="1.8"/>
<line x1="1580.8" y1="1099.1" x2="1580.8" y2="1127.4" stroke="#33923a" stroke-width="1.8"/>
<line x1="1575.3" y1="1099.1" x2="1586.3" y2="1099.1" stroke="#33923a" stroke-width="1.8"/>
<line x1="1575.3" y1="1127.4" x2="1586.3" y2="1127.4" stroke="#33923a" stroke-width="1.8"/>
<line x1="1621.6" y1="1113.6" x2="1621.6" y2="1152.1" stroke="#33923a" stroke-width="1.8"/>
<line x1="1616.1" y1="1113.6" x2="1627.1" y2="1113.6" stroke="#33923a" stroke-width="1.8"/>
<line x1="1616.1" y1="1152.1" x2="1627.1" y2="1152.1" stroke="#33923a" stroke-width="1.8"/>
<line x1="1661.1" y1="1117.8" x2="1661.1" y2="1161.7" stroke="#33923a" stroke-width="1.8"/>
<line x1="1655.6" y1="1117.8" x2="1666.6" y2="1117.8" stroke="#33923a" stroke-width="1.8"/>
<line x1="1655.6" y1="1161.7" x2="1666.6" y2="1161.7" stroke="#33923a" stroke-width="1.8"/>
<line x1="1742" y1="1137" x2="1742" y2="1188" stroke="#33923a" stroke-width="1.8"/>
<line x1="1736.5" y1="1137" x2="1747.5" y2="1137" stroke="#33923a" stroke-width="1.8"/>
<line x1="1736.5" y1="1188" x2="1747.5" y2="1188" stroke="#33923a" stroke-width="1.8"/>
<circle cx="1499.6" cy="1087.9" r="6.5" fill="#33923a" stroke="none" stroke-width="1"/>
<circle cx="1541.4" cy="1092.1" r="6.5" fill="#33923a" stroke="none" stroke-width="1"/>
<circle cx="1580.8" cy="1113.6" r="6.5" fill="#33923a" stroke="none" stroke-width="1"/>
<circle cx="1621.6" cy="1132.8" r="6.5" fill="#33923a" stroke="none" stroke-width="1"/>
<circle cx="1661.1" cy="1139.3" r="6.5" fill="#33923a" stroke="none" stroke-width="1"/>
<circle cx="1702.5" cy="1155.3" r="6.5" fill="#33923a" stroke="none" stroke-width="1"/>
<circle cx="1742" cy="1162.7" r="6.5" fill="#33923a" stroke="none" stroke-width="1"/>
<line x1="1788.5" y1="1095.9" x2="1812.6" y2="1095.9" stroke="#33923a" stroke-width="1.8"/>
<circle cx="1800.5" cy="1095.9" r="5.25" fill="#33923a" stroke="none" stroke-width="1"/>
<text x="0" y="0" font-size="30" transform="translate(1831.8 1106.2) scale(1 1.11)">sh_CON</text>
<line x1="1788.5" y1="1149.5" x2="1812.6" y2="1149.5" stroke="#f5951f" stroke-width="1.8"/>
<rect x="1795.25" y="1144.25" width="10.5" height="10.5" fill="#f5951f" stroke="none" stroke-width="1"/>
<text x="0" y="0" font-size="30" transform="translate(1831.8 1160.1) scale(1 1.11)">sh_CD9-1</text>
<line x1="1788.5" y1="1203.5" x2="1812.6" y2="1203.5" stroke="#f5951f" stroke-width="1.8"/>
<polygon points="1800.5,1197.72 1806.28,1207.91 1794.72,1207.91" fill="#f5951f" stroke="none" stroke-width="1"/>
<text x="0" y="0" font-size="30" transform="translate(1831.8 1213.7) scale(1 1.11)">sh_CD9-2</text>
<line x1="1788.5" y1="1255.5" x2="1812.6" y2="1255.5" stroke="#f5951f" stroke-width="1.8"/>
<polygon points="1800.5,1261.28 1806.28,1251.09 1794.72,1251.09" fill="#f5951f" stroke="none" stroke-width="1"/>
<text x="0" y="0" font-size="30" transform="translate(1831.8 1266) scale(1 1.11)">sh_CD9-3</text>
<line x1="1815.8" y1="1220.5" x2="1825.4" y2="1220.5" stroke="#ddd" stroke-width="1"/>
<text x="5.5" y="1527" font-size="47.5">I</text>
<text x="417.2" y="1517.6" font-size="30" textLength="214.5" lengthAdjust="spacingAndGlyphs">SUM149 clones</text>
<line x1="154" y1="1573.2" x2="154" y2="1887" stroke="#1a1010" stroke-width="2"/>
<line x1="139.1" y1="1871.9" x2="452.1" y2="1871.9" stroke="#1a1010" stroke-width="2"/>
<line x1="139.1" y1="1573.2" x2="154" y2="1573.2" stroke="#1a1010" stroke-width="2"/>
<text x="133.5" y="1583.5" font-size="29.5" text-anchor="end">200</text>
<line x1="139.1" y1="1648.2" x2="154" y2="1648.2" stroke="#1a1010" stroke-width="2"/>
<text x="133.5" y="1658.5" font-size="29.5" text-anchor="end">150</text>
<line x1="139.1" y1="1723" x2="154" y2="1723" stroke="#1a1010" stroke-width="2"/>
<text x="133.5" y="1733.3" font-size="29.5" text-anchor="end">100</text>
<line x1="139.1" y1="1797.7" x2="154" y2="1797.7" stroke="#1a1010" stroke-width="2"/>
<text x="133.5" y="1808" font-size="29.5" text-anchor="end">50</text>
<line x1="139.1" y1="1871.9" x2="154" y2="1871.9" stroke="#1a1010" stroke-width="2"/>
<text x="133.5" y="1882.2" font-size="29.5" text-anchor="end">0</text>
<line x1="154" y1="1871.9" x2="154" y2="1886.7" stroke="#1a1010" stroke-width="2"/>
<text x="154" y="1918.1" font-size="29.5" text-anchor="middle">0</text>
<line x1="253.4" y1="1871.9" x2="253.4" y2="1886.7" stroke="#1a1010" stroke-width="2"/>
<text x="253.4" y="1918.1" font-size="29.5" text-anchor="middle">100</text>
<line x1="352.7" y1="1871.9" x2="352.7" y2="1886.7" stroke="#1a1010" stroke-width="2"/>
<text x="352.7" y="1918.1" font-size="29.5" text-anchor="middle">200</text>
<line x1="452.1" y1="1871.9" x2="452.1" y2="1886.7" stroke="#1a1010" stroke-width="2"/>
<text x="452.1" y="1918.1" font-size="29.5" text-anchor="middle">300</text>
<text x="61.8" y="1730.7" font-size="30" text-anchor="middle" textLength="267.3" lengthAdjust="spacingAndGlyphs" transform="rotate(-90 61.8 1730.7)">Cell viability (%)/par</text>
<text x="408.8" y="1968.3" font-size="30" textLength="266.3" lengthAdjust="spacingAndGlyphs">CD9 expression/par</text>
<polygon points="425,1608 435,1618 425,1628 415,1618" fill="#000" stroke="none" stroke-width="1"/>
<rect x="346" y="1649.9" width="19" height="19" fill="#000" stroke="none" stroke-width="1"/>
<polygon points="394.7,1689 404.7,1671 384.7,1671" fill="#000" stroke="none" stroke-width="1"/>
<polygon points="350,1693.4 360,1711.4 340,1711.4" fill="#000" stroke="none" stroke-width="1"/>
<line x1="204.9" y1="1680.5" x2="223.9" y2="1680.5" stroke="#000" stroke-width="2.1"/>
<line x1="214.4" y1="1671" x2="214.4" y2="1690" stroke="#000" stroke-width="2.1"/>
<circle cx="215.2" cy="1718.6" r="4.59" fill="none" stroke="#000" stroke-width="2.1"/>
<line x1="215.2" y1="1723.19" x2="215.2" y2="1730.5" stroke="#000" stroke-width="2.1"/>
<line x1="210.95" y1="1726.93" x2="219.45" y2="1726.93" stroke="#000" stroke-width="2.1"/>
<circle cx="253.4" cy="1723.2" r="7.41" fill="#000" stroke="none" stroke-width="1"/>
<circle cx="275.3" cy="1723.2" r="8.85" fill="none" stroke="#000" stroke-width="2.1"/>
<line x1="269.04" y1="1716.94" x2="281.56" y2="1729.46" stroke="#000" stroke-width="2.1"/>
<line x1="269.04" y1="1729.46" x2="281.56" y2="1716.94" stroke="#000" stroke-width="2.1"/>
<rect x="172.5" y="1736" width="17.8" height="17.8" fill="none" stroke="#000" stroke-width="2.1"/>
<line x1="172.5" y1="1736" x2="190.3" y2="1753.8" stroke="#000" stroke-width="2.1"/>
<line x1="172.5" y1="1753.8" x2="190.3" y2="1736" stroke="#000" stroke-width="2.1"/>
<polygon points="240,1744.9 235,1751.65 225,1751.65 220,1744.9 225,1738.15 235,1738.15" fill="none" stroke="#000" stroke-width="2.1"/>
<line x1="220" y1="1744.9" x2="240" y2="1744.9" stroke="#000" stroke-width="1.68"/>
<line x1="225" y1="1738.15" x2="235" y2="1751.65" stroke="#000" stroke-width="1.68"/>
<line x1="235" y1="1738.15" x2="225" y2="1751.65" stroke="#000" stroke-width="1.68"/>
<polygon points="178.8,1757.8 187.5,1766.5 178.8,1775.2 170.1,1766.5" fill="none" stroke="#000" stroke-width="2.1"/>
<line x1="221" y1="1787.6" x2="239" y2="1787.6" stroke="#000" stroke-width="2.1"/>
<line x1="223.64" y1="1781.24" x2="236.36" y2="1793.96" stroke="#000" stroke-width="2.1"/>
<line x1="230" y1="1778.6" x2="230" y2="1796.6" stroke="#000" stroke-width="2.1"/>
<line x1="236.36" y1="1781.24" x2="223.64" y2="1793.96" stroke="#000" stroke-width="2.1"/>
<polygon points="244.3,1779.1 246.4,1784.71 252.38,1784.97 247.7,1788.7 249.3,1794.48 244.3,1791.17 239.3,1794.48 240.9,1788.7 236.22,1784.97 242.2,1784.71" fill="#000" stroke="none" stroke-width="1"/>
<line x1="251.25" y1="1778.6" x2="264.75" y2="1796.6" stroke="#000" stroke-width="2.1"/>
<line x1="251.25" y1="1796.6" x2="264.75" y2="1778.6" stroke="#000" stroke-width="2.1"/>
<polygon points="210.7,1801.8 219.15,1816.8 202.25,1816.8" fill="none" stroke="#000" stroke-width="2.1"/>
<polygon points="215.2,1816.3 223.65,1801.3 206.75,1801.3" fill="none" stroke="#000" stroke-width="2.1"/>
<circle cx="206.6" cy="1830.4" r="4.76" fill="none" stroke="#000" stroke-width="2.1"/>
<line x1="209.93" y1="1827.07" x2="217.65" y2="1819.35" stroke="#000" stroke-width="2.1"/>
<line x1="211.7" y1="1819.35" x2="217.65" y2="1819.35" stroke="#000" stroke-width="2.1"/>
<line x1="217.65" y1="1819.35" x2="217.65" y2="1825.3" stroke="#000" stroke-width="2.1"/>
<line x1="192.1" y1="1830.8" x2="192.1" y2="1838.8" stroke="#000" stroke-width="2.73"/>
<circle cx="254" cy="1830.3" r="8.7" fill="none" stroke="#000" stroke-width="2.1"/>
<rect x="252.05" y="1828.35" width="3.9" height="3.9" fill="#000" stroke="none" stroke-width="1"/>
<circle cx="275.3" cy="1808.6" r="8.7" fill="none" stroke="#000" stroke-width="2.1"/>
<rect x="192.35" y="1842.75" width="17.3" height="17.3" fill="none" stroke="#000" stroke-width="2.1"/>
<rect x="198.87" y="1849.27" width="4.27" height="4.27" fill="#000" stroke="none" stroke-width="1"/>
<rect x="227.05" y="1842.75" width="17.3" height="17.3" fill="none" stroke="#000" stroke-width="2.1"/>
<line x1="187.9" y1="1862.8" x2="187.9" y2="1880" stroke="#1a1010" stroke-width="2"/>
<line x1="610.7" y1="1572.6" x2="610.7" y2="1886" stroke="#1a1010" stroke-width="2"/>
<line x1="595.5" y1="1870.8" x2="909.1" y2="1870.8" stroke="#1a1010" stroke-width="2"/>
<line x1="595.5" y1="1572.6" x2="610.7" y2="1572.6" stroke="#1a1010" stroke-width="2"/>
<text x="592" y="1582.9" font-size="29.5" text-anchor="end">80</text>
<line x1="595.5" y1="1646.8" x2="610.7" y2="1646.8" stroke="#1a1010" stroke-width="2"/>
<text x="592" y="1657.1" font-size="29.5" text-anchor="end">60</text>
<line x1="595.5" y1="1721.5" x2="610.7" y2="1721.5" stroke="#1a1010" stroke-width="2"/>
<text x="592" y="1731.8" font-size="29.5" text-anchor="end">40</text>
<line x1="595.5" y1="1796" x2="610.7" y2="1796" stroke="#1a1010" stroke-width="2"/>
<text x="592" y="1806.3" font-size="29.5" text-anchor="end">20</text>
<line x1="595.5" y1="1870.8" x2="610.7" y2="1870.8" stroke="#1a1010" stroke-width="2"/>
<text x="592" y="1881.1" font-size="29.5" text-anchor="end">0</text>
<line x1="610.7" y1="1870.8" x2="610.7" y2="1886" stroke="#1a1010" stroke-width="2"/>
<text x="610.7" y="1917.7" font-size="29.5" text-anchor="middle">0</text>
<line x1="709.4" y1="1870.8" x2="709.4" y2="1886" stroke="#1a1010" stroke-width="2"/>
<text x="709.4" y="1917.7" font-size="29.5" text-anchor="middle">100</text>
<line x1="809.3" y1="1870.8" x2="809.3" y2="1886" stroke="#1a1010" stroke-width="2"/>
<text x="809.3" y="1917.7" font-size="29.5" text-anchor="middle">200</text>
<line x1="909.1" y1="1870.8" x2="909.1" y2="1886" stroke="#1a1010" stroke-width="2"/>
<text x="909.1" y="1917.7" font-size="29.5" text-anchor="middle">300</text>
<text x="534.7" y="1714.2" font-size="30" text-anchor="middle" textLength="355.7" lengthAdjust="spacingAndGlyphs" transform="rotate(-90 534.7 1714.2)">JQ1 50nM cell viability (%)</text>
<polygon points="806.8,1631.2 814.8,1645.6 798.8,1645.6" fill="#000" stroke="none" stroke-width="1"/>
<rect x="804.5" y="1677.1" width="15" height="15" fill="#000" stroke="none" stroke-width="1"/>
<polygon points="881.6,1677.35 888.85,1684.6 881.6,1691.85 874.35,1684.6" fill="#000" stroke="none" stroke-width="1"/>
<polygon points="851.3,1713.55 859.05,1699.6 843.55,1699.6" fill="#000" stroke="none" stroke-width="1"/>
<circle cx="710" cy="1765.7" r="7.41" fill="#000" stroke="none" stroke-width="1"/>
<polygon points="635.5,1788.8 643,1796.3 635.5,1803.8 628,1796.3" fill="none" stroke="#000" stroke-width="2"/>
<line x1="679.1" y1="1830.5" x2="695.1" y2="1830.5" stroke="#000" stroke-width="2"/>
<line x1="681.44" y1="1824.84" x2="692.76" y2="1836.16" stroke="#000" stroke-width="2"/>
<line x1="687.1" y1="1822.5" x2="687.1" y2="1838.5" stroke="#000" stroke-width="2"/>
<line x1="692.76" y1="1824.84" x2="681.44" y2="1836.16" stroke="#000" stroke-width="2"/>
<rect x="631" y="1864" width="14" height="14" fill="none" stroke="#000" stroke-width="2"/>
<line x1="631" y1="1864" x2="645" y2="1878" stroke="#000" stroke-width="2"/>
<line x1="631" y1="1878" x2="645" y2="1864" stroke="#000" stroke-width="2"/>
<rect x="649" y="1864" width="14" height="14" fill="none" stroke="#000" stroke-width="2"/>
<rect x="654.24" y="1869.24" width="3.52" height="3.52" fill="#000" stroke="none" stroke-width="1"/>
<rect x="655" y="1864" width="14" height="14" fill="none" stroke="#000" stroke-width="2"/>
<polygon points="667,1877 674,1864.6 660,1864.6" fill="none" stroke="#000" stroke-width="2"/>
<polygon points="671,1865 678,1877.4 664,1877.4" fill="none" stroke="#000" stroke-width="2"/>
<polygon points="675,1876 680,1867 670,1867" fill="#000" stroke="none" stroke-width="1"/>
<circle cx="679.2" cy="1873.8" r="3.92" fill="none" stroke="#000" stroke-width="2"/>
<line x1="681.94" y1="1871.06" x2="688.3" y2="1864.7" stroke="#000" stroke-width="2"/>
<line x1="683.4" y1="1864.7" x2="688.3" y2="1864.7" stroke="#000" stroke-width="2"/>
<line x1="688.3" y1="1864.7" x2="688.3" y2="1869.6" stroke="#000" stroke-width="2"/>
<polygon points="698,1871 694,1876.4 686,1876.4 682,1871 686,1865.6 694,1865.6" fill="none" stroke="#000" stroke-width="2"/>
<line x1="682" y1="1871" x2="698" y2="1871" stroke="#000" stroke-width="1.6"/>
<line x1="686" y1="1865.6" x2="694" y2="1876.4" stroke="#000" stroke-width="1.6"/>
<line x1="694" y1="1865.6" x2="686" y2="1876.4" stroke="#000" stroke-width="1.6"/>
<polygon points="695,1864.5 696.6,1868.79 701.18,1868.99 697.6,1871.84 698.82,1876.26 695,1873.73 691.18,1876.26 692.4,1871.84 688.82,1868.99 693.4,1868.79" fill="#000" stroke="none" stroke-width="1"/>
<line x1="694.38" y1="1863.5" x2="705.62" y2="1878.5" stroke="#000" stroke-width="2"/>
<line x1="694.38" y1="1878.5" x2="705.62" y2="1863.5" stroke="#000" stroke-width="2"/>
<circle cx="701" cy="1871" r="7" fill="none" stroke="#000" stroke-width="2"/>
<rect x="699.4" y="1869.4" width="3.2" height="3.2" fill="#000" stroke="none" stroke-width="1"/>
<circle cx="705" cy="1871" r="7" fill="none" stroke="#000" stroke-width="2"/>
<circle cx="709.4" cy="1871" r="7" fill="none" stroke="#000" stroke-width="2"/>
<line x1="704.45" y1="1866.05" x2="714.35" y2="1875.95" stroke="#000" stroke-width="2"/>
<line x1="704.45" y1="1875.95" x2="714.35" y2="1866.05" stroke="#000" stroke-width="2"/>
<line x1="703" y1="1871" x2="717" y2="1871" stroke="#000" stroke-width="2"/>
<line x1="710" y1="1864" x2="710" y2="1878" stroke="#000" stroke-width="2"/>
<circle cx="732.4" cy="1871" r="7" fill="none" stroke="#000" stroke-width="2"/>
<line x1="727.45" y1="1866.05" x2="737.35" y2="1875.95" stroke="#000" stroke-width="2"/>
<line x1="727.45" y1="1875.95" x2="737.35" y2="1866.05" stroke="#000" stroke-width="2"/>
<line x1="710.2" y1="1871" x2="710.2" y2="1886" stroke="#1a1010" stroke-width="2"/>
<circle cx="990.2" cy="1523.3" r="7.8" fill="#000" stroke="none" stroke-width="1"/>
<text x="1010.8" y="1530.8" font-size="29.5">parental</text>
<rect x="982.2" y="1551.3" width="16" height="16" fill="#000" stroke="none" stroke-width="1"/>
<text x="1010.8" y="1566.8" font-size="29.5">II-E1</text>
<circle cx="990.2" cy="1596" r="7" fill="none" stroke="#000" stroke-width="3"/>
<line x1="985.25" y1="1591.05" x2="995.15" y2="1600.95" stroke="#000" stroke-width="3"/>
<line x1="985.25" y1="1600.95" x2="995.15" y2="1591.05" stroke="#000" stroke-width="3"/>
<text x="1010.8" y="1603.5" font-size="29.5">I-E2</text>
<polygon points="990.2,1624.25 997.95,1638.2 982.45,1638.2" fill="#000" stroke="none" stroke-width="1"/>
<text x="1010.8" y="1639.5" font-size="29.5">I-B10</text>
<rect x="982.7" y="1660.8" width="15" height="15" fill="none" stroke="#000" stroke-width="3"/>
<line x1="982.7" y1="1660.8" x2="997.7" y2="1675.8" stroke="#000" stroke-width="3"/>
<line x1="982.7" y1="1675.8" x2="997.7" y2="1660.8" stroke="#000" stroke-width="3"/>
<text x="1010.8" y="1675.8" font-size="29.5">I-D2</text>
<polygon points="990.2,1711.5 997.7,1698 982.7,1698" fill="#000" stroke="none" stroke-width="1"/>
<text x="1010.8" y="1711.5" font-size="29.5">I-C11</text>
<polygon points="999.7,1739.7 994.95,1746.69 985.45,1746.69 980.7,1739.7 985.45,1732.71 994.95,1732.71" fill="#000" stroke="none" stroke-width="1"/>
<text x="1010.8" y="1747.2" font-size="29.5">II-C5</text>
<polygon points="990.2,1767.4 998.2,1775.4 990.2,1783.4 982.2,1775.4" fill="#000" stroke="none" stroke-width="1"/>
<text x="1010.8" y="1782.9" font-size="29.5">II-F9</text>
<polygon points="990.2,1805.6 997.2,1817.9 983.2,1817.9" fill="none" stroke="#000" stroke-width="3"/>
<text x="1010.8" y="1818.6" font-size="29.5">II-G10</text>
<circle cx="986.8" cy="1850.2" r="4.76" fill="none" stroke="#000" stroke-width="3"/>
<line x1="990.13" y1="1846.87" x2="997.85" y2="1839.15" stroke="#000" stroke-width="3"/>
<line x1="991.9" y1="1839.15" x2="997.85" y2="1839.15" stroke="#000" stroke-width="3"/>
<line x1="997.85" y1="1839.15" x2="997.85" y2="1845.1" stroke="#000" stroke-width="3"/>
<text x="1010.8" y="1854.3" font-size="29.5">II-G2</text>
<circle cx="990.2" cy="1883.3" r="7" fill="none" stroke="#000" stroke-width="3"/>
<text x="1010.8" y="1890.8" font-size="29.5">II-F10</text>
<line x1="982.12" y1="1910.6" x2="998.28" y2="1927.6" stroke="#000" stroke-width="3"/>
<line x1="982.12" y1="1927.6" x2="998.28" y2="1910.6" stroke="#000" stroke-width="3"/>
<text x="1010.8" y="1926.6" font-size="29.5">II-C2</text>
<circle cx="1138.4" cy="1559.3" r="7" fill="none" stroke="#000" stroke-width="3"/>
<rect x="1136.7" y="1557.6" width="3.4" height="3.4" fill="#000" stroke="none" stroke-width="1"/>
<text x="1157.7" y="1566.8" font-size="29.5">II-G9</text>
<rect x="1130.9" y="1588.5" width="15" height="15" fill="none" stroke="#000" stroke-width="3"/>
<rect x="1136.42" y="1594.02" width="3.96" height="3.96" fill="#000" stroke="none" stroke-width="1"/>
<text x="1157.7" y="1603.5" font-size="29.5">I-F10</text>
<line x1="1138.4" y1="1624" x2="1138.4" y2="1640" stroke="#000" stroke-width="3.9"/>
<text x="1157.7" y="1639.5" font-size="29.5">I-E11</text>
<polygon points="1138.4,1673.3 1144.9,1661.9 1131.9,1661.9" fill="none" stroke="#000" stroke-width="3"/>
<text x="1157.7" y="1675.8" font-size="29.5">II-E6</text>
<circle cx="1138.4" cy="1701" r="4.05" fill="none" stroke="#000" stroke-width="3"/>
<line x1="1138.4" y1="1705.05" x2="1138.4" y2="1711.5" stroke="#000" stroke-width="3"/>
<line x1="1134.65" y1="1708.35" x2="1142.15" y2="1708.35" stroke="#000" stroke-width="3"/>
<text x="1157.7" y="1711.5" font-size="29.5">I-D11</text>
<rect x="1131.4" y="1732.7" width="14" height="14" fill="none" stroke="#000" stroke-width="3"/>
<text x="1157.7" y="1747.2" font-size="29.5">II-D2</text>
<line x1="1130.9" y1="1775.4" x2="1145.9" y2="1775.4" stroke="#000" stroke-width="3"/>
<line x1="1138.4" y1="1767.9" x2="1138.4" y2="1782.9" stroke="#000" stroke-width="3"/>
<text x="1157.7" y="1782.9" font-size="29.5">II-F11</text>
<line x1="1138.4" y1="1812.18" x2="1138.4" y2="1821" stroke="#000" stroke-width="3.9"/>
<text x="1157.7" y="1818.6" font-size="29.5">I-E10</text>
<polygon points="1138.4,1838.8 1140.37,1844.08 1146.01,1844.33 1141.6,1847.84 1143.1,1853.27 1138.4,1850.16 1133.7,1853.27 1135.2,1847.84 1130.79,1844.33 1136.43,1844.08" fill="#000" stroke="none" stroke-width="1"/>
<text x="1157.7" y="1854.3" font-size="29.5">II-G6</text>
<polygon points="1138.4,1876.8 1144.9,1883.3 1138.4,1889.8 1131.9,1883.3" fill="none" stroke="#000" stroke-width="3"/>
<text x="1157.7" y="1890.8" font-size="29.5">II-F1</text>
<polygon points="1146.4,1919.1 1142.83,1920.94 1144.06,1924.76 1140.24,1923.53 1138.4,1927.1 1136.56,1923.53 1132.74,1924.76 1133.97,1920.94 1130.4,1919.1 1133.97,1917.26 1132.74,1913.44 1136.56,1914.67 1138.4,1911.1 1140.24,1914.67 1144.06,1913.44 1142.83,1917.26" fill="#000" stroke="none" stroke-width="1"/>
<text x="1157.7" y="1926.6" font-size="29.5">II-E5</text>
</svg>
</body></html>
